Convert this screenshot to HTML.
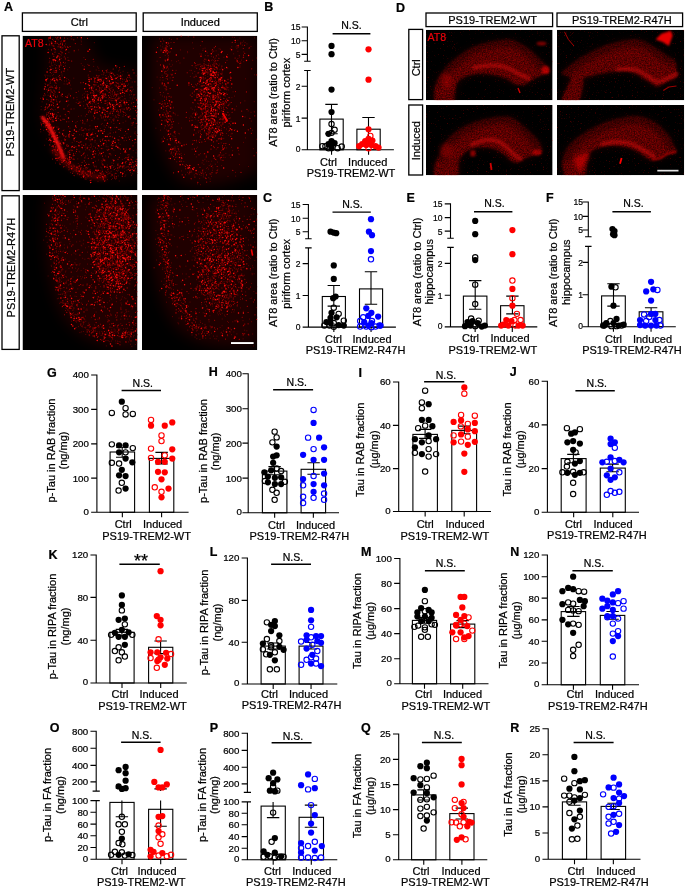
<!DOCTYPE html>
<html lang="en"><head><meta charset="utf-8"><title>Figure</title>
<style>html,body{margin:0;padding:0;background:#fff}svg{display:block}text{font-family:'Liberation Sans', sans-serif;fill:#000;stroke:#000;stroke-width:.22px}.ln{fill:none;stroke:#000;stroke-width:1.1}.bar{fill:#fff;stroke:#000;stroke-width:1.1}</style></head><body>
<svg width="685" height="887" viewBox="0 0 685 887">
<defs><filter id="b2" x="-30%" y="-30%" width="160%" height="160%"><feGaussianBlur stdDeviation="2"/></filter><filter id="b03" x="-5%" y="-5%" width="110%" height="110%"><feGaussianBlur stdDeviation="0.35"/></filter><filter id="b1" x="-30%" y="-30%" width="160%" height="160%"><feGaussianBlur stdDeviation="1"/></filter><filter id="b4" x="-30%" y="-30%" width="160%" height="160%"><feGaussianBlur stdDeviation="4"/></filter><filter id="b7" x="-30%" y="-30%" width="160%" height="160%"><feGaussianBlur stdDeviation="7"/></filter><filter id="sp0" filterUnits="userSpaceOnUse" x="22.5" y="35.7" width="115" height="154.5" color-interpolation-filters="sRGB"><feTurbulence type="fractalNoise" baseFrequency="0.5" numOctaves="3" seed="3" result="n"/><feColorMatrix in="n" type="matrix" values="0 0 0 0 1 0 0 0 0 0 0 0 0 0 0 1 0 0 0 0" result="n2"/><feColorMatrix in="SourceGraphic" type="matrix" values="0 0 0 0 1 0 0 0 0 0 0 0 0 0 0 1 0 0 0 0" result="d"/><feComposite in="n2" in2="d" operator="arithmetic" k1="0" k2="1" k3="1" k4="-1.06" result="c"/><feComponentTransfer in="c" result="t"><feFuncA type="linear" slope="4.5" intercept="0"/></feComponentTransfer><feGaussianBlur in="t" stdDeviation="0.4"/></filter><clipPath id="cl0"><rect x="22.5" y="35.7" width="115" height="154.5"/></clipPath><filter id="sp1" filterUnits="userSpaceOnUse" x="142" y="35.7" width="115.3" height="154.5" color-interpolation-filters="sRGB"><feTurbulence type="fractalNoise" baseFrequency="0.5" numOctaves="3" seed="10" result="n"/><feColorMatrix in="n" type="matrix" values="0 0 0 0 1 0 0 0 0 0 0 0 0 0 0 1 0 0 0 0" result="n2"/><feColorMatrix in="SourceGraphic" type="matrix" values="0 0 0 0 1 0 0 0 0 0 0 0 0 0 0 1 0 0 0 0" result="d"/><feComposite in="n2" in2="d" operator="arithmetic" k1="0" k2="1" k3="1" k4="-1.06" result="c"/><feComponentTransfer in="c" result="t"><feFuncA type="linear" slope="4.5" intercept="0"/></feComponentTransfer><feGaussianBlur in="t" stdDeviation="0.4"/></filter><clipPath id="cl1"><rect x="142" y="35.7" width="115.3" height="154.5"/></clipPath><filter id="sp2" filterUnits="userSpaceOnUse" x="22.5" y="195" width="115" height="155" color-interpolation-filters="sRGB"><feTurbulence type="fractalNoise" baseFrequency="0.5" numOctaves="3" seed="17" result="n"/><feColorMatrix in="n" type="matrix" values="0 0 0 0 1 0 0 0 0 0 0 0 0 0 0 1 0 0 0 0" result="n2"/><feColorMatrix in="SourceGraphic" type="matrix" values="0 0 0 0 1 0 0 0 0 0 0 0 0 0 0 1 0 0 0 0" result="d"/><feComposite in="n2" in2="d" operator="arithmetic" k1="0" k2="1" k3="1" k4="-1.06" result="c"/><feComponentTransfer in="c" result="t"><feFuncA type="linear" slope="4.5" intercept="0"/></feComponentTransfer><feGaussianBlur in="t" stdDeviation="0.4"/></filter><clipPath id="cl2"><rect x="22.5" y="195" width="115" height="155"/></clipPath><filter id="sp3" filterUnits="userSpaceOnUse" x="142" y="195" width="115.3" height="155" color-interpolation-filters="sRGB"><feTurbulence type="fractalNoise" baseFrequency="0.5" numOctaves="3" seed="24" result="n"/><feColorMatrix in="n" type="matrix" values="0 0 0 0 1 0 0 0 0 0 0 0 0 0 0 1 0 0 0 0" result="n2"/><feColorMatrix in="SourceGraphic" type="matrix" values="0 0 0 0 1 0 0 0 0 0 0 0 0 0 0 1 0 0 0 0" result="d"/><feComposite in="n2" in2="d" operator="arithmetic" k1="0" k2="1" k3="1" k4="-1.06" result="c"/><feComponentTransfer in="c" result="t"><feFuncA type="linear" slope="4.5" intercept="0"/></feComponentTransfer><feGaussianBlur in="t" stdDeviation="0.4"/></filter><clipPath id="cl3"><rect x="142" y="195" width="115.3" height="155"/></clipPath><filter id="sp4" filterUnits="userSpaceOnUse" x="426" y="29.8" width="126.6" height="70.4" color-interpolation-filters="sRGB"><feTurbulence type="fractalNoise" baseFrequency="0.65" numOctaves="3" seed="31" result="n"/><feColorMatrix in="n" type="matrix" values="0 0 0 0 1 0 0 0 0 0 0 0 0 0 0 1 0 0 0 0" result="n2"/><feColorMatrix in="SourceGraphic" type="matrix" values="0 0 0 0 1 0 0 0 0 0 0 0 0 0 0 1 0 0 0 0" result="d"/><feComposite in="n2" in2="d" operator="arithmetic" k1="0" k2="1" k3="1" k4="-1.06" result="c"/><feComponentTransfer in="c" result="t"><feFuncA type="linear" slope="4.5" intercept="0"/></feComponentTransfer><feGaussianBlur in="t" stdDeviation="0.4"/></filter><clipPath id="cl4"><rect x="426" y="29.8" width="126.6" height="70.4"/></clipPath><filter id="sp5" filterUnits="userSpaceOnUse" x="557" y="29.8" width="127.2" height="70.4" color-interpolation-filters="sRGB"><feTurbulence type="fractalNoise" baseFrequency="0.65" numOctaves="3" seed="38" result="n"/><feColorMatrix in="n" type="matrix" values="0 0 0 0 1 0 0 0 0 0 0 0 0 0 0 1 0 0 0 0" result="n2"/><feColorMatrix in="SourceGraphic" type="matrix" values="0 0 0 0 1 0 0 0 0 0 0 0 0 0 0 1 0 0 0 0" result="d"/><feComposite in="n2" in2="d" operator="arithmetic" k1="0" k2="1" k3="1" k4="-1.06" result="c"/><feComponentTransfer in="c" result="t"><feFuncA type="linear" slope="4.5" intercept="0"/></feComponentTransfer><feGaussianBlur in="t" stdDeviation="0.4"/></filter><clipPath id="cl5"><rect x="557" y="29.8" width="127.2" height="70.4"/></clipPath><filter id="sp6" filterUnits="userSpaceOnUse" x="426" y="105" width="126.6" height="70.2" color-interpolation-filters="sRGB"><feTurbulence type="fractalNoise" baseFrequency="0.65" numOctaves="3" seed="45" result="n"/><feColorMatrix in="n" type="matrix" values="0 0 0 0 1 0 0 0 0 0 0 0 0 0 0 1 0 0 0 0" result="n2"/><feColorMatrix in="SourceGraphic" type="matrix" values="0 0 0 0 1 0 0 0 0 0 0 0 0 0 0 1 0 0 0 0" result="d"/><feComposite in="n2" in2="d" operator="arithmetic" k1="0" k2="1" k3="1" k4="-1.06" result="c"/><feComponentTransfer in="c" result="t"><feFuncA type="linear" slope="4.5" intercept="0"/></feComponentTransfer><feGaussianBlur in="t" stdDeviation="0.4"/></filter><clipPath id="cl6"><rect x="426" y="105" width="126.6" height="70.2"/></clipPath><filter id="sp7" filterUnits="userSpaceOnUse" x="557" y="105" width="127.2" height="70.2" color-interpolation-filters="sRGB"><feTurbulence type="fractalNoise" baseFrequency="0.65" numOctaves="3" seed="52" result="n"/><feColorMatrix in="n" type="matrix" values="0 0 0 0 1 0 0 0 0 0 0 0 0 0 0 1 0 0 0 0" result="n2"/><feColorMatrix in="SourceGraphic" type="matrix" values="0 0 0 0 1 0 0 0 0 0 0 0 0 0 0 1 0 0 0 0" result="d"/><feComposite in="n2" in2="d" operator="arithmetic" k1="0" k2="1" k3="1" k4="-1.06" result="c"/><feComponentTransfer in="c" result="t"><feFuncA type="linear" slope="4.5" intercept="0"/></feComponentTransfer><feGaussianBlur in="t" stdDeviation="0.4"/></filter><clipPath id="cl7"><rect x="557" y="105" width="127.2" height="70.2"/></clipPath><filter id="gr0" filterUnits="userSpaceOnUse" x="426" y="29.8" width="126.6" height="70.4" color-interpolation-filters="sRGB"><feGaussianBlur in="SourceGraphic" stdDeviation="1.2" result="b"/><feTurbulence type="fractalNoise" baseFrequency="0.73" numOctaves="2" seed="5" result="n"/><feColorMatrix in="n" type="matrix" values="0 0 0 0 1 0 0 0 0 0 0 0 0 0 0 1.3 0 0 0 -0.12" result="n2"/><feComposite in="n2" in2="b" operator="in"/></filter><filter id="gr1" filterUnits="userSpaceOnUse" x="557" y="29.8" width="127.2" height="70.4" color-interpolation-filters="sRGB"><feGaussianBlur in="SourceGraphic" stdDeviation="1.2" result="b"/><feTurbulence type="fractalNoise" baseFrequency="0.73" numOctaves="2" seed="8" result="n"/><feColorMatrix in="n" type="matrix" values="0 0 0 0 1 0 0 0 0 0 0 0 0 0 0 1.3 0 0 0 -0.12" result="n2"/><feComposite in="n2" in2="b" operator="in"/></filter><filter id="gr2" filterUnits="userSpaceOnUse" x="426" y="105" width="126.6" height="70.2" color-interpolation-filters="sRGB"><feGaussianBlur in="SourceGraphic" stdDeviation="1.2" result="b"/><feTurbulence type="fractalNoise" baseFrequency="0.73" numOctaves="2" seed="11" result="n"/><feColorMatrix in="n" type="matrix" values="0 0 0 0 1 0 0 0 0 0 0 0 0 0 0 1.3 0 0 0 -0.12" result="n2"/><feComposite in="n2" in2="b" operator="in"/></filter><filter id="gr3" filterUnits="userSpaceOnUse" x="557" y="105" width="127.2" height="70.2" color-interpolation-filters="sRGB"><feGaussianBlur in="SourceGraphic" stdDeviation="1.2" result="b"/><feTurbulence type="fractalNoise" baseFrequency="0.73" numOctaves="2" seed="14" result="n"/><feColorMatrix in="n" type="matrix" values="0 0 0 0 1 0 0 0 0 0 0 0 0 0 0 1.3 0 0 0 -0.12" result="n2"/><feComposite in="n2" in2="b" operator="in"/></filter></defs>
<rect width="685" height="887" fill="#fff"/>
<text x="4" y="10.8" font-size="12.5" text-anchor="start" font-weight="bold">A</text>
<rect x="22.4" y="12.9" width="113.8" height="18.5" fill="#fff" stroke="#000" stroke-width="1.3"/><text x="79.3" y="26.11" font-size="11" text-anchor="middle">Ctrl</text>
<rect x="143.2" y="12.9" width="114.1" height="18.5" fill="#fff" stroke="#000" stroke-width="1.3"/><text x="200.25" y="26.11" font-size="11" text-anchor="middle">Induced</text>
<rect x="2" y="35.8" width="17.2" height="154.8" fill="#fff" stroke="#000" stroke-width="1.3"/><text transform="translate(14.06 112.2) rotate(-90)" font-size="11" text-anchor="middle">PS19-TREM2-WT</text>
<rect x="2" y="195.8" width="17.2" height="153.6" fill="#fff" stroke="#000" stroke-width="1.3"/><text transform="translate(14.76 267.6) rotate(-90)" font-size="11" text-anchor="middle">PS19-TREM2-R47H</text>
<text x="396" y="12.2" font-size="12.5" text-anchor="start" font-weight="bold">D</text>
<rect x="426" y="13" width="126.6" height="13.6" fill="#fff" stroke="#000" stroke-width="1.3"/><text x="492.6" y="23.76" font-size="11" text-anchor="middle">PS19-TREM2-WT</text>
<rect x="557" y="13" width="125.6" height="13.6" fill="#fff" stroke="#000" stroke-width="1.3"/><text x="621.8" y="23.76" font-size="11" text-anchor="middle">PS19-TREM2-R47H</text>
<rect x="408.8" y="29.4" width="13.8" height="70.2" fill="#fff" stroke="#000" stroke-width="1.3"/><text transform="translate(419.66 67.8) rotate(-90)" font-size="11" text-anchor="middle">Ctrl</text>
<rect x="408.8" y="105" width="13.8" height="70" fill="#fff" stroke="#000" stroke-width="1.3"/><text transform="translate(419.66 140.7) rotate(-90)" font-size="11" text-anchor="middle">Induced</text>
<g clip-path="url(#cl0)">
<rect x="22.5" y="35.7" width="115" height="154.5" fill="#000"/>
<g transform="translate(22.5 35.7)" fill="#e00000" filter="url(#b7)"><path d="M22 0 C28 40 14 70 22 92 C32 125 60 148 116 140 L116 36 C95 30 78 34 72 20 L66 0Z" opacity=".11"/></g>
<g transform="translate(22.5 35.7)" filter="url(#b03)"><path d="M34.8 0.2h0M48.4 0.9h0M33.2 1.8h0M36.0 1.5h0M37.9 1.6h0M34.2 2.8h0M34.9 2.1h0M45.2 2.9h0M59.2 2.1h0M34.5 3.9h0M48.6 3.2h0M49.4 3.3h0M26.0 4.1h0M30.9 5.0h0M35.9 4.2h0M58.6 4.3h0M26.7 5.5h0M28.7 6.0h0M39.2 5.0h0M28.7 6.5h0M29.3 6.5h0M58.8 6.1h0M27.3 7.6h0M38.1 7.7h0M40.2 7.2h0M71.8 7.0h0M36.0 8.6h0M42.9 8.2h0M58.7 8.7h0M25.5 9.4h0M28.7 9.4h0M30.4 9.2h0M40.2 9.9h0M41.9 9.8h0M41.7 10.9h0M37.6 11.8h0M42.8 11.4h0M42.8 11.4h0M40.6 12.2h0M26.1 13.7h0M38.7 13.3h0M28.9 14.4h0M56.0 14.2h0M32.0 16.6h0M33.0 16.4h0M39.6 16.7h0M46.4 16.6h0M51.6 16.0h0M30.0 18.0h0M31.4 18.9h0M37.7 18.9h0M39.0 19.4h0M35.0 20.4h0M41.9 20.7h0M37.0 21.6h0M37.4 21.0h0M41.6 21.5h0M45.4 21.8h0M61.4 21.9h0M37.4 22.8h0M38.8 22.8h0M42.7 22.1h0M30.8 24.4h0M30.7 24.7h0M32.3 24.2h0M32.1 24.4h0M36.5 24.9h0M45.4 24.7h0M27.2 25.4h0M35.2 25.7h0M37.4 25.4h0M29.2 26.5h0M30.9 26.5h0M33.0 26.1h0M43.1 26.9h0M71.4 26.0h0M26.7 27.0h0M29.0 27.6h0M38.3 27.8h0M42.4 27.7h0M58.7 27.9h0M32.4 28.6h0M38.1 28.5h0M65.3 28.7h0M28.9 29.3h0M30.3 30.0h0M34.0 29.8h0M60.3 29.9h0M37.1 31.0h0M42.8 30.1h0M61.8 31.0h0M71.2 30.7h0M94.5 30.6h0M47.0 31.8h0M75.2 31.2h0M25.1 32.9h0M28.3 32.2h0M33.1 32.8h0M35.6 32.5h0M76.2 32.5h0M94.2 32.0h0M30.5 33.0h0M31.5 34.8h0M34.3 34.7h0M45.3 34.1h0M73.7 34.3h0M76.5 34.8h0M85.0 34.1h0M97.2 34.2h0M31.6 36.0h0M33.4 35.5h0M40.8 35.6h0M95.9 35.2h0M100.6 35.6h0M30.5 36.6h0M34.1 36.8h0M86.5 36.8h0M88.3 36.2h0M98.2 37.0h0M105.3 37.0h0M28.8 38.0h0M31.1 38.7h0M39.4 38.3h0M79.4 38.9h0M87.3 38.5h0M94.7 38.8h0M22.3 39.4h0M23.4 39.5h0M29.8 39.9h0M65.8 39.2h0M81.1 39.0h0M83.3 39.8h0M87.8 40.0h0M87.7 39.9h0M88.6 40.0h0M96.3 39.6h0M99.8 39.3h0M25.4 40.1h0M27.6 40.3h0M36.1 40.9h0M39.6 40.2h0M65.6 40.1h0M86.0 40.8h0M91.6 40.5h0M113.7 40.1h0M23.0 41.2h0M70.9 41.6h0M74.2 41.3h0M76.0 41.3h0M98.8 41.1h0M31.0 42.4h0M31.7 42.7h0M44.3 42.9h0M51.3 42.5h0M80.4 42.0h0M82.7 42.2h0M84.8 42.4h0M86.2 42.2h0M88.1 42.6h0M93.2 42.9h0M108.4 42.7h0M28.0 43.7h0M46.0 44.0h0M77.5 43.4h0M78.4 43.4h0M92.7 43.5h0M99.8 43.6h0M100.2 43.2h0M101.7 44.0h0M30.2 44.3h0M31.1 44.9h0M31.5 44.5h0M32.2 44.3h0M38.9 44.6h0M74.8 44.7h0M76.8 44.8h0M78.8 44.7h0M81.5 44.2h0M81.0 44.9h0M85.5 44.2h0M95.5 44.3h0M98.1 44.2h0M107.0 44.6h0M27.9 45.5h0M32.1 45.3h0M41.9 45.3h0M44.1 45.3h0M47.4 45.2h0M67.0 45.2h0M72.4 45.8h0M78.6 45.0h0M84.7 45.1h0M87.1 45.8h0M87.2 45.8h0M103.9 45.2h0M71.5 46.0h0M73.1 46.4h0M84.3 46.0h0M89.6 46.2h0M93.0 46.5h0M99.9 46.1h0M109.7 46.3h0M22.6 47.9h0M33.9 47.6h0M81.1 47.7h0M81.9 47.9h0M81.2 47.9h0M84.6 47.9h0M87.1 47.5h0M95.9 47.5h0M97.8 47.1h0M23.2 48.8h0M41.6 48.2h0M43.7 48.3h0M80.1 48.6h0M80.5 48.0h0M81.4 48.9h0M96.3 48.6h0M101.4 48.3h0M105.8 48.4h0M26.5 49.2h0M31.9 49.7h0M47.8 49.4h0M73.3 49.4h0M73.5 49.2h0M92.3 49.4h0M93.6 49.3h0M101.1 49.9h0M103.0 49.6h0M104.9 49.8h0M27.8 50.4h0M29.3 50.5h0M76.0 50.3h0M79.9 50.1h0M83.1 50.1h0M86.1 50.8h0M96.4 50.2h0M98.1 50.1h0M30.0 51.6h0M30.4 51.9h0M34.7 52.0h0M68.4 51.7h0M71.8 51.2h0M79.6 51.6h0M86.9 51.0h0M89.5 52.0h0M95.1 51.1h0M103.3 51.1h0M107.7 51.6h0M108.8 51.4h0M109.9 51.4h0M25.9 52.7h0M32.3 52.2h0M70.9 52.5h0M77.3 52.2h0M88.4 52.8h0M95.8 53.0h0M24.0 53.8h0M36.7 53.8h0M48.6 53.2h0M78.7 53.2h0M81.6 53.3h0M98.0 53.7h0M99.3 54.0h0M105.9 53.4h0M110.7 53.6h0M25.4 54.3h0M30.8 54.3h0M73.5 54.5h0M76.6 54.6h0M79.1 54.1h0M87.9 54.7h0M89.8 54.2h0M97.5 54.8h0M98.4 54.2h0M99.9 54.5h0M102.4 54.6h0M103.9 54.7h0M25.4 55.4h0M28.5 55.4h0M28.8 55.8h0M56.0 55.6h0M63.1 56.0h0M70.9 55.1h0M71.4 55.1h0M75.3 55.3h0M76.5 55.8h0M84.4 55.1h0M85.1 55.3h0M88.1 55.2h0M95.3 55.7h0M102.8 55.3h0M104.0 55.5h0M107.2 55.2h0M109.6 55.2h0M25.0 56.4h0M29.5 56.3h0M32.4 56.5h0M32.8 56.4h0M69.6 56.8h0M77.2 56.9h0M97.6 56.7h0M27.7 57.2h0M70.5 57.6h0M71.0 57.8h0M72.2 57.2h0M81.2 57.6h0M86.4 57.1h0M88.2 57.4h0M92.1 57.4h0M98.7 57.3h0M101.2 57.0h0M28.2 58.3h0M46.5 58.4h0M61.7 58.1h0M64.8 58.3h0M66.1 58.8h0M76.8 58.5h0M81.8 58.8h0M82.5 58.4h0M90.3 58.1h0M92.2 58.9h0M93.3 58.5h0M109.0 58.7h0M112.4 58.7h0M23.1 59.3h0M25.6 59.6h0M32.5 59.2h0M45.3 59.9h0M60.0 59.4h0M73.3 59.7h0M73.3 59.9h0M80.7 59.1h0M83.4 59.4h0M88.0 59.5h0M89.6 59.0h0M92.2 60.0h0M92.7 59.2h0M106.9 59.2h0M35.0 60.3h0M39.9 60.9h0M43.1 60.8h0M48.0 60.7h0M69.0 60.1h0M80.3 60.2h0M90.8 60.6h0M91.1 60.2h0M94.2 60.2h0M98.7 60.5h0M100.1 60.8h0M102.1 60.2h0M35.1 61.2h0M43.3 61.0h0M54.4 61.7h0M64.3 61.7h0M69.0 61.9h0M74.7 61.3h0M76.5 61.7h0M76.1 61.8h0M77.5 61.1h0M79.1 61.8h0M79.7 61.4h0M82.1 61.1h0M83.2 61.5h0M84.1 61.9h0M87.1 61.5h0M89.0 61.1h0M93.1 61.7h0M96.3 61.3h0M97.6 61.9h0M110.6 61.3h0M17.9 62.6h0M59.8 62.4h0M66.3 62.5h0M73.5 63.0h0M75.9 62.1h0M88.1 62.4h0M91.2 62.7h0M92.4 62.8h0M95.4 62.7h0M96.2 62.8h0M96.6 62.9h0M102.2 63.0h0M107.6 62.2h0M112.0 62.5h0M113.3 62.3h0M28.5 63.7h0M71.5 63.1h0M75.5 63.9h0M79.6 63.7h0M86.2 63.2h0M94.3 63.4h0M94.9 63.5h0M96.2 63.5h0M102.8 63.2h0M109.9 63.3h0M26.2 64.5h0M29.4 64.2h0M32.4 64.2h0M33.8 64.1h0M54.6 64.0h0M78.7 64.5h0M84.6 64.6h0M86.8 64.4h0M88.4 64.3h0M90.4 64.8h0M92.0 64.5h0M94.5 64.0h0M97.9 64.5h0M100.6 64.3h0M106.5 64.7h0M29.3 65.2h0M34.0 65.5h0M38.0 65.5h0M61.2 65.7h0M67.8 65.5h0M71.2 65.8h0M82.3 65.7h0M84.0 65.2h0M89.3 65.0h0M93.6 65.9h0M99.1 65.2h0M99.3 65.2h0M100.7 65.1h0M103.9 65.1h0M19.6 66.1h0M29.8 66.8h0M34.5 66.1h0M53.7 66.9h0M56.6 66.1h0M58.4 66.3h0M73.6 66.1h0M101.5 66.1h0M56.0 67.7h0M67.9 67.5h0M68.2 67.8h0M76.0 67.6h0M83.7 67.6h0M84.9 67.1h0M87.2 67.7h0M101.4 67.2h0M101.2 67.0h0M102.4 67.4h0M109.3 67.1h0M109.1 67.9h0M26.8 69.0h0M67.4 68.4h0M70.2 68.1h0M73.4 68.6h0M85.3 68.8h0M88.7 68.5h0M95.9 68.1h0M46.3 69.2h0M65.2 69.9h0M84.7 69.8h0M85.2 69.2h0M91.6 69.1h0M91.4 69.3h0M93.1 69.6h0M97.8 69.3h0M97.1 69.3h0M115.0 69.0h0M18.7 70.8h0M26.8 70.8h0M33.5 70.2h0M45.0 70.4h0M60.9 70.2h0M68.1 71.0h0M77.1 71.0h0M92.8 70.0h0M96.0 70.1h0M99.0 70.5h0M22.3 71.9h0M24.9 71.9h0M25.3 71.4h0M31.6 71.3h0M68.3 71.2h0M74.2 71.3h0M77.5 71.8h0M88.2 71.8h0M90.3 71.9h0M92.7 71.7h0M28.9 72.8h0M34.8 72.2h0M68.3 72.6h0M110.6 72.8h0M18.6 74.0h0M22.8 73.8h0M29.5 73.6h0M30.2 73.6h0M32.7 73.7h0M41.1 73.2h0M51.5 73.1h0M71.3 73.1h0M72.5 73.8h0M76.4 73.2h0M85.1 73.1h0M89.8 73.8h0M91.6 73.3h0M99.5 73.2h0M21.8 74.5h0M30.9 74.5h0M72.5 74.5h0M74.5 74.3h0M74.6 74.4h0M107.0 74.8h0M115.9 74.3h0M27.0 75.8h0M72.1 75.4h0M77.0 75.7h0M89.4 75.6h0M95.5 76.0h0M26.1 76.7h0M65.9 76.7h0M66.0 76.3h0M72.1 76.3h0M73.5 77.0h0M80.0 76.6h0M79.8 76.8h0M82.6 77.0h0M88.0 76.3h0M90.5 76.1h0M97.8 76.8h0M24.1 77.4h0M25.3 77.1h0M47.1 77.2h0M71.9 77.1h0M73.1 77.1h0M80.1 77.6h0M85.3 77.5h0M87.4 77.2h0M96.3 77.6h0M102.9 77.4h0M114.7 77.5h0M26.4 78.1h0M31.3 78.8h0M77.8 79.0h0M87.5 78.3h0M95.6 78.7h0M104.2 78.9h0M23.9 79.5h0M33.9 79.2h0M86.1 79.5h0M90.5 79.5h0M93.0 80.0h0M95.1 79.1h0M101.1 79.1h0M17.6 80.8h0M22.2 80.6h0M23.8 80.3h0M25.9 80.8h0M35.2 80.1h0M43.5 80.3h0M55.9 80.7h0M58.7 80.1h0M62.8 80.4h0M71.0 80.5h0M71.1 80.2h0M78.6 80.9h0M81.3 80.7h0M81.3 80.8h0M83.5 80.8h0M84.9 80.8h0M100.5 80.9h0M81.2 81.6h0M88.4 82.0h0M92.7 81.1h0M93.6 81.5h0M94.1 81.3h0M95.8 81.9h0M104.9 81.1h0M22.4 82.0h0M34.1 82.4h0M36.1 82.8h0M79.0 82.1h0M79.4 82.4h0M80.8 82.2h0M25.3 83.4h0M34.4 83.2h0M37.7 83.8h0M40.0 83.5h0M40.9 83.5h0M75.5 83.2h0M87.3 83.8h0M112.7 83.2h0M113.1 83.3h0M23.9 84.9h0M25.7 84.5h0M31.3 84.5h0M57.9 85.0h0M69.4 84.9h0M81.9 84.5h0M82.4 84.3h0M83.6 84.4h0M90.0 84.1h0M24.3 85.2h0M25.0 85.7h0M26.1 85.1h0M30.2 85.5h0M30.3 85.4h0M54.7 85.8h0M60.5 85.7h0M64.5 85.5h0M65.0 85.0h0M103.3 85.4h0M20.9 86.3h0M23.4 86.9h0M25.6 86.0h0M46.4 86.1h0M88.8 86.3h0M17.9 87.1h0M19.2 87.6h0M53.4 87.1h0M79.7 87.8h0M91.4 87.8h0M100.6 87.0h0M108.8 87.4h0M25.9 88.4h0M62.4 88.1h0M78.8 88.7h0M115.4 88.9h0M22.8 89.8h0M23.7 89.8h0M109.5 89.8h0M19.1 90.1h0M32.2 90.6h0M67.4 90.1h0M81.6 90.2h0M21.4 91.2h0M22.8 91.8h0M27.2 91.0h0M34.2 91.4h0M35.5 91.3h0M59.3 92.0h0M59.4 91.8h0M82.8 91.7h0M86.0 91.3h0M92.4 91.7h0M112.6 91.9h0M26.0 93.0h0M47.5 92.5h0M59.4 92.5h0M77.8 92.9h0M88.6 92.1h0M98.5 92.9h0M30.3 93.5h0M57.4 94.0h0M58.8 93.2h0M66.2 94.0h0M67.5 93.3h0M70.6 93.6h0M97.5 93.6h0M21.2 94.6h0M24.6 94.3h0M25.6 94.5h0M32.0 94.8h0M41.5 94.3h0M64.3 94.2h0M66.5 94.4h0M88.4 94.4h0M33.5 95.2h0M48.1 95.8h0M55.5 95.7h0M80.0 95.3h0M81.2 96.0h0M18.3 96.1h0M26.1 97.0h0M27.8 96.5h0M29.8 96.7h0M31.5 96.5h0M91.0 97.0h0M112.7 96.2h0M27.8 97.9h0M30.2 97.0h0M31.4 97.1h0M37.4 97.4h0M61.6 97.7h0M66.3 97.1h0M72.8 97.9h0M73.1 97.9h0M104.4 98.0h0M111.9 97.5h0M29.3 99.0h0M29.3 98.2h0M85.6 98.5h0M112.8 98.2h0M115.1 98.8h0M115.8 98.5h0M27.0 99.2h0M30.5 99.6h0M40.7 99.8h0M41.2 99.5h0M49.0 99.2h0M57.0 99.0h0M58.8 99.1h0M65.5 99.8h0M101.8 99.8h0M114.1 99.6h0M30.3 100.2h0M44.2 100.4h0M60.9 100.3h0M66.1 100.5h0M88.2 100.6h0M96.8 100.8h0M107.9 101.0h0M108.3 100.7h0M26.6 101.7h0M28.9 101.9h0M29.3 101.1h0M37.4 101.2h0M46.0 101.0h0M46.4 101.2h0M47.0 101.5h0M53.2 101.8h0M67.6 101.7h0M71.5 101.9h0M89.8 101.1h0M90.2 101.5h0M103.3 102.0h0M105.9 101.5h0M26.8 102.8h0M28.0 102.6h0M63.5 102.7h0M80.6 102.9h0M23.8 103.3h0M65.8 103.4h0M80.4 103.4h0M112.4 103.7h0M32.0 104.2h0M51.3 104.4h0M69.6 104.6h0M73.1 104.6h0M77.6 104.2h0M86.3 104.3h0M92.6 104.6h0M101.6 105.0h0M103.9 104.8h0M36.8 105.5h0M38.8 105.1h0M52.2 105.3h0M67.7 105.4h0M72.3 105.0h0M86.9 105.1h0M28.7 106.0h0M30.4 106.6h0M34.3 106.9h0M36.4 106.6h0M39.7 106.6h0M49.7 106.9h0M58.7 106.0h0M58.2 106.6h0M72.5 106.4h0M84.0 106.2h0M113.4 106.9h0M28.1 107.1h0M42.3 107.0h0M56.9 107.3h0M96.2 107.2h0M111.9 107.3h0M38.7 108.8h0M38.3 108.7h0M41.2 108.6h0M59.3 108.9h0M74.5 108.2h0M97.7 108.7h0M22.2 109.5h0M44.8 109.0h0M55.9 109.5h0M59.4 109.2h0M66.6 109.9h0M81.2 109.6h0M83.6 109.2h0M88.6 109.8h0M93.8 109.1h0M28.9 110.8h0M36.5 110.5h0M51.6 110.2h0M63.3 110.1h0M68.9 110.3h0M71.3 110.7h0M76.7 111.0h0M76.7 110.7h0M83.7 111.0h0M90.3 110.5h0M31.2 111.7h0M36.2 111.0h0M39.5 111.9h0M48.8 111.8h0M62.4 111.6h0M67.7 111.7h0M68.4 111.7h0M85.5 111.1h0M35.6 112.9h0M63.7 112.2h0M74.9 112.9h0M80.3 112.8h0M97.1 112.5h0M103.7 112.7h0M30.7 114.0h0M32.8 113.2h0M42.3 113.9h0M48.5 113.7h0M54.1 113.6h0M60.2 113.0h0M70.1 113.3h0M101.2 113.6h0M102.5 113.5h0M103.9 113.8h0M32.2 114.0h0M39.5 114.6h0M39.8 114.8h0M48.9 114.9h0M63.2 114.1h0M76.0 114.7h0M84.4 114.0h0M91.4 114.4h0M110.7 114.9h0M114.4 114.1h0M30.3 115.3h0M32.6 115.8h0M36.9 115.9h0M38.4 115.7h0M40.1 115.4h0M56.6 115.6h0M68.5 115.4h0M72.9 115.8h0M33.7 116.4h0M33.7 116.5h0M36.7 116.7h0M57.3 116.3h0M77.4 116.6h0M102.3 116.2h0M30.2 117.2h0M34.7 117.5h0M39.9 117.6h0M53.2 117.6h0M62.0 117.1h0M80.2 117.0h0M97.9 117.8h0M113.5 117.2h0M35.4 118.9h0M37.4 118.1h0M44.8 118.3h0M46.6 118.3h0M71.9 118.0h0M33.4 119.8h0M34.6 119.8h0M43.5 119.9h0M65.0 119.5h0M76.2 119.2h0M78.2 119.0h0M88.5 119.3h0M105.1 119.3h0M37.6 120.5h0M44.6 120.2h0M62.8 120.4h0M83.2 120.3h0M106.3 120.7h0M46.7 121.8h0M50.6 121.1h0M109.6 121.2h0M110.4 121.7h0M35.5 122.1h0M36.1 122.9h0M44.5 122.4h0M80.6 122.9h0M101.9 122.9h0M115.5 122.2h0M35.0 123.1h0M37.6 123.8h0M47.3 123.6h0M49.8 123.5h0M50.8 123.4h0M51.7 123.9h0M55.3 123.2h0M99.8 123.7h0M113.6 123.5h0M114.0 123.7h0M37.7 124.2h0M39.0 125.0h0M39.4 124.7h0M40.7 124.1h0M76.0 124.3h0M81.9 124.5h0M107.3 124.6h0M109.2 124.2h0M115.5 125.0h0M44.0 125.9h0M47.1 125.4h0M73.1 125.6h0M78.8 125.1h0M79.9 125.5h0M82.4 125.3h0M90.9 125.9h0M110.0 125.4h0M39.9 126.4h0M40.0 126.8h0M43.5 126.7h0M43.9 126.1h0M47.5 126.1h0M63.1 126.9h0M111.1 126.6h0M114.0 126.3h0M33.1 127.4h0M36.9 127.6h0M45.3 127.8h0M45.5 127.6h0M47.1 127.9h0M47.7 127.3h0M55.7 127.8h0M79.3 127.2h0M89.4 127.2h0M90.9 127.7h0M95.5 127.9h0M103.3 128.0h0M109.1 127.6h0M113.9 127.8h0M115.7 127.3h0M46.0 128.8h0M66.4 128.6h0M79.6 128.6h0M80.2 128.0h0M80.3 128.9h0M44.1 129.7h0M50.6 129.3h0M57.4 129.4h0M71.4 129.2h0M84.8 129.3h0M95.6 129.4h0M95.9 129.3h0M111.4 129.6h0M42.2 130.8h0M49.3 130.8h0M51.7 130.5h0M56.6 130.5h0M56.0 130.6h0M71.4 130.1h0M73.6 130.4h0M84.3 131.0h0M87.9 130.7h0M89.0 130.4h0M91.5 130.6h0M97.6 130.1h0M98.4 130.8h0M98.3 130.4h0M104.6 130.9h0M106.1 131.0h0M109.2 130.4h0M50.3 131.9h0M58.7 132.0h0M65.4 131.7h0M74.1 131.3h0M78.4 131.4h0M83.4 131.6h0M90.8 131.8h0M96.6 131.2h0M100.6 131.4h0M103.6 131.6h0M105.5 131.3h0M108.5 131.2h0M112.3 131.3h0M53.9 132.2h0M55.5 132.8h0M56.2 132.5h0M58.1 132.3h0M61.3 132.9h0M65.0 132.7h0M79.4 132.3h0M92.9 132.8h0M95.2 132.8h0M100.3 132.3h0M102.3 132.4h0M106.9 132.3h0M110.7 132.6h0M46.8 133.4h0M49.8 133.1h0M54.1 133.7h0M63.1 133.1h0M64.0 133.3h0M73.5 133.6h0M86.2 133.1h0M111.8 133.7h0M46.3 134.1h0M52.6 134.5h0M56.7 135.0h0M60.7 134.9h0M75.6 134.8h0M77.5 134.8h0M79.6 134.3h0M93.9 134.8h0M95.8 134.5h0M104.4 134.6h0M115.5 134.3h0M55.6 135.8h0M56.4 135.2h0M61.4 135.5h0M66.6 135.1h0M66.5 135.2h0M67.2 135.6h0M71.7 136.0h0M74.0 135.3h0M74.7 135.2h0M75.0 135.6h0M74.9 135.9h0M83.3 135.6h0M85.7 135.9h0M88.6 135.6h0M95.0 135.4h0M112.4 135.5h0M114.6 135.6h0M47.9 136.9h0M50.7 136.0h0M58.7 136.2h0M72.2 136.9h0M76.9 137.0h0M78.5 136.8h0M78.8 136.4h0M80.4 136.6h0M102.0 136.1h0M107.9 136.7h0M59.6 138.0h0M60.7 137.2h0M67.7 137.4h0M98.4 137.1h0M100.4 137.0h0M114.8 137.7h0M58.9 138.7h0M61.0 138.8h0M64.5 138.5h0M81.4 138.2h0M85.0 138.5h0M86.1 138.1h0M89.5 138.6h0M89.1 138.6h0M90.1 138.8h0M91.8 138.3h0M110.2 138.1h0M64.1 139.0h0M65.8 140.0h0M78.1 139.7h0M78.8 139.0h0M103.3 139.3h0M109.0 139.6h0M65.8 140.7h0M68.8 140.8h0M77.1 140.0h0M88.5 140.5h0M93.5 140.6h0M95.7 140.2h0M102.5 140.6h0M58.7 141.8h0M74.0 141.5h0M80.6 141.4h0M83.3 141.4h0M91.9 141.7h0M63.0 142.1h0M64.4 142.3h0M90.1 142.7h0M94.1 142.9h0M62.5 143.2h0M63.5 143.8h0M81.2 143.1h0M85.1 143.8h0M88.9 143.8h0M93.0 143.4h0M68.9 144.5h0M82.6 144.9h0M75.5 145.7h0M82.0 145.5h0M96.7 145.3h0" fill="none" stroke="#900000" stroke-width="0.9" stroke-linecap="round" opacity="0.8"/><path d="M27.8 0.6h0M48.9 0.6h0M34.7 2.1h0M42.0 2.3h0M54.9 2.0h0M65.0 2.6h0M30.1 3.5h0M51.3 4.0h0M38.5 6.0h0M41.1 5.3h0M42.5 5.0h0M33.2 6.2h0M32.6 7.8h0M34.7 7.5h0M52.8 7.9h0M29.0 8.1h0M37.9 8.2h0M39.8 8.1h0M40.0 8.9h0M40.0 9.0h0M27.0 9.1h0M30.5 10.0h0M36.5 9.1h0M31.4 10.4h0M35.6 11.0h0M38.4 11.0h0M47.6 10.9h0M37.6 11.0h0M38.0 11.6h0M44.9 11.1h0M45.6 11.8h0M31.5 12.9h0M32.0 12.6h0M39.6 12.1h0M32.8 13.7h0M32.8 13.8h0M28.9 14.1h0M32.6 14.0h0M43.2 14.4h0M51.7 14.9h0M38.4 15.5h0M36.5 17.8h0M39.5 17.1h0M43.0 17.9h0M43.2 18.0h0M30.2 18.2h0M31.3 20.5h0M27.2 22.5h0M34.3 22.3h0M31.6 23.7h0M32.3 23.8h0M42.9 23.2h0M62.9 23.8h0M70.8 23.5h0M32.4 24.8h0M46.4 24.6h0M30.9 25.0h0M49.2 25.4h0M38.0 26.9h0M40.9 26.7h0M36.7 29.9h0M38.5 29.4h0M66.5 29.7h0M27.5 30.5h0M41.1 30.8h0M101.8 30.7h0M36.8 31.1h0M36.9 31.2h0M97.1 31.9h0M33.3 32.2h0M27.7 33.9h0M37.1 33.6h0M90.7 33.3h0M27.6 34.7h0M33.7 34.8h0M33.2 34.8h0M34.0 34.6h0M80.0 34.9h0M83.7 34.7h0M110.5 34.2h0M41.6 35.4h0M67.5 35.5h0M80.1 35.4h0M27.8 36.8h0M32.6 36.7h0M34.2 36.1h0M38.9 36.3h0M84.3 36.2h0M81.4 37.1h0M89.9 37.3h0M111.5 37.2h0M91.1 38.4h0M37.1 39.9h0M74.3 39.6h0M92.3 39.5h0M76.5 40.0h0M88.0 40.7h0M96.6 40.5h0M115.8 40.1h0M37.5 41.8h0M66.5 41.6h0M75.2 41.6h0M95.1 41.6h0M105.3 41.5h0M107.2 41.3h0M25.2 42.6h0M31.3 42.7h0M33.6 42.3h0M83.4 42.6h0M92.7 42.5h0M78.7 43.6h0M104.1 43.4h0M23.1 44.0h0M29.4 44.4h0M32.1 44.6h0M35.2 45.0h0M72.0 44.2h0M72.2 44.3h0M23.9 45.2h0M77.5 45.7h0M78.9 45.0h0M80.7 45.7h0M103.3 45.9h0M58.3 47.0h0M60.8 46.9h0M72.1 46.3h0M74.7 46.7h0M112.4 46.1h0M27.7 47.3h0M32.8 47.1h0M87.7 47.7h0M88.3 47.5h0M94.1 47.0h0M95.2 47.5h0M45.2 48.4h0M65.8 48.7h0M70.9 49.0h0M78.3 48.9h0M89.1 48.1h0M101.7 48.2h0M25.2 49.9h0M25.4 49.1h0M66.5 49.9h0M72.2 49.1h0M78.5 49.2h0M78.4 49.0h0M81.0 49.9h0M82.9 49.1h0M85.2 49.8h0M87.7 49.0h0M33.9 50.4h0M75.6 50.6h0M83.9 50.5h0M84.3 50.4h0M93.6 50.3h0M93.9 50.3h0M96.2 50.7h0M97.4 50.7h0M27.5 51.7h0M29.4 51.4h0M69.4 51.1h0M95.2 51.8h0M37.2 52.1h0M66.9 52.9h0M67.3 52.2h0M69.1 52.2h0M77.3 52.2h0M82.6 52.2h0M86.5 52.4h0M100.4 52.9h0M101.3 52.3h0M33.7 53.0h0M73.7 53.7h0M82.4 53.6h0M83.7 54.0h0M87.2 53.6h0M105.0 53.7h0M28.4 54.2h0M69.2 54.1h0M70.0 54.5h0M77.2 54.3h0M80.8 54.9h0M91.0 54.3h0M100.0 54.9h0M99.8 54.7h0M108.0 54.7h0M31.7 55.2h0M64.7 55.8h0M79.1 55.8h0M103.3 55.5h0M108.7 56.0h0M29.8 56.5h0M53.7 56.8h0M71.0 56.1h0M86.8 56.6h0M89.7 56.1h0M92.2 56.4h0M31.4 58.0h0M68.2 57.2h0M78.1 57.4h0M80.3 57.5h0M102.1 57.6h0M22.1 58.0h0M82.7 58.1h0M92.5 58.3h0M93.8 58.7h0M95.4 58.4h0M21.4 60.0h0M28.2 59.4h0M30.8 59.5h0M30.9 60.0h0M38.7 60.0h0M48.0 59.9h0M64.7 59.0h0M70.8 59.6h0M71.8 59.4h0M74.3 59.4h0M79.0 59.8h0M80.5 59.1h0M83.2 59.2h0M86.1 59.9h0M111.4 59.2h0M27.7 60.1h0M28.0 60.6h0M32.9 60.8h0M64.9 60.9h0M65.0 60.1h0M80.1 60.9h0M81.8 60.3h0M94.2 60.1h0M29.1 61.8h0M33.3 61.8h0M61.9 61.4h0M79.6 61.4h0M86.9 61.8h0M20.9 62.8h0M20.4 62.2h0M51.2 62.2h0M72.8 62.4h0M76.4 62.1h0M76.3 62.0h0M76.0 62.9h0M81.1 62.0h0M89.6 62.8h0M96.4 62.3h0M24.4 63.5h0M29.5 63.4h0M71.1 63.4h0M77.9 63.1h0M63.2 64.3h0M75.2 64.1h0M78.1 64.1h0M82.6 64.9h0M93.3 64.3h0M93.0 64.2h0M28.6 65.3h0M45.5 65.1h0M68.3 65.9h0M70.9 65.5h0M70.1 65.2h0M71.7 65.5h0M83.0 65.3h0M93.9 65.0h0M102.1 65.6h0M28.4 66.0h0M37.1 66.2h0M57.2 67.0h0M66.9 66.1h0M71.7 66.9h0M78.9 66.5h0M94.0 66.4h0M111.2 66.8h0M30.9 67.4h0M55.7 67.7h0M66.0 67.3h0M75.6 67.6h0M82.6 67.7h0M101.6 67.1h0M24.2 68.4h0M29.3 68.9h0M64.4 68.4h0M94.6 68.1h0M106.0 68.9h0M29.1 69.6h0M31.0 69.9h0M64.9 69.1h0M88.3 70.0h0M90.2 69.4h0M98.4 69.2h0M102.6 69.0h0M65.5 70.8h0M68.5 70.8h0M69.6 70.7h0M76.0 70.3h0M87.9 70.8h0M110.9 70.5h0M23.2 71.1h0M26.1 71.0h0M36.3 71.0h0M74.4 71.6h0M88.3 71.0h0M105.9 71.9h0M23.1 72.1h0M24.8 72.3h0M62.7 72.6h0M66.5 72.4h0M69.6 72.6h0M80.4 72.1h0M85.4 72.1h0M103.9 72.2h0M105.4 72.5h0M106.6 72.0h0M22.6 73.8h0M28.1 73.8h0M41.6 73.2h0M48.6 73.3h0M81.6 73.3h0M92.6 73.5h0M97.7 73.8h0M101.6 73.4h0M101.6 73.3h0M104.6 73.9h0M107.9 73.4h0M66.7 75.0h0M80.6 74.2h0M81.5 74.1h0M82.7 74.7h0M91.4 74.1h0M94.7 74.4h0M113.2 74.9h0M45.5 75.5h0M46.4 75.8h0M73.2 75.1h0M77.0 75.5h0M84.0 75.8h0M85.1 75.7h0M91.2 75.4h0M94.1 75.8h0M95.7 76.0h0M98.1 75.2h0M100.5 75.6h0M35.6 76.8h0M68.3 76.2h0M101.4 76.7h0M114.0 76.5h0M26.3 77.1h0M79.5 77.2h0M87.6 77.5h0M89.9 77.6h0M24.5 78.9h0M31.8 78.3h0M31.1 78.8h0M42.7 78.6h0M64.3 78.5h0M82.1 78.5h0M82.2 78.5h0M29.7 79.1h0M78.4 79.5h0M82.8 79.2h0M96.5 79.7h0M103.1 79.8h0M20.2 80.9h0M26.5 80.1h0M37.7 80.4h0M83.3 80.7h0M85.8 80.7h0M107.4 80.4h0M114.2 80.1h0M30.4 81.8h0M30.9 81.9h0M34.1 81.1h0M72.3 81.6h0M83.1 81.4h0M85.3 81.6h0M28.9 82.1h0M111.6 82.7h0M25.6 83.7h0M27.8 83.7h0M41.7 83.5h0M64.9 83.9h0M71.9 83.0h0M91.4 83.4h0M107.9 83.0h0M23.0 84.4h0M29.6 84.1h0M33.7 84.8h0M38.3 84.7h0M60.1 84.6h0M91.2 85.0h0M95.4 84.5h0M95.3 84.9h0M20.5 85.6h0M31.1 85.9h0M44.2 86.0h0M50.0 85.6h0M26.9 86.1h0M29.6 86.0h0M110.7 86.7h0M20.7 87.7h0M27.0 87.9h0M60.3 87.2h0M97.1 87.7h0M113.7 87.6h0M18.9 88.9h0M27.7 88.7h0M110.4 88.1h0M84.2 89.6h0M22.9 90.3h0M46.1 90.9h0M24.9 91.8h0M28.1 91.5h0M29.3 91.2h0M53.7 91.6h0M87.9 91.7h0M94.2 91.7h0M25.8 92.3h0M28.8 92.2h0M30.8 92.5h0M36.6 92.8h0M62.6 93.0h0M73.6 92.6h0M18.1 93.5h0M81.8 93.9h0M96.4 93.7h0M40.7 94.8h0M59.7 94.6h0M61.1 94.4h0M77.8 95.0h0M98.1 94.6h0M25.6 95.7h0M81.9 95.5h0M103.0 95.8h0M32.7 96.6h0M36.7 96.6h0M93.2 96.4h0M27.1 97.2h0M30.2 97.2h0M30.7 97.5h0M31.6 97.9h0M51.5 97.9h0M64.8 97.9h0M69.9 97.3h0M80.1 97.8h0M87.6 97.4h0M47.0 98.2h0M70.3 98.8h0M26.5 99.1h0M29.4 100.7h0M30.0 100.3h0M41.4 100.1h0M43.2 101.0h0M87.5 100.5h0M30.6 101.4h0M46.6 101.0h0M99.2 101.9h0M34.4 102.6h0M41.9 103.4h0M43.1 103.9h0M51.4 103.2h0M63.4 103.6h0M107.1 103.7h0M26.3 104.8h0M42.5 104.8h0M67.6 104.1h0M80.0 104.2h0M82.4 104.8h0M83.4 104.5h0M85.8 104.9h0M95.5 104.1h0M96.4 104.4h0M110.0 104.8h0M34.6 105.5h0M54.4 105.8h0M78.0 105.7h0M56.3 106.8h0M58.3 106.1h0M89.6 106.3h0M33.8 107.1h0M41.5 107.9h0M81.7 107.5h0M32.2 108.5h0M63.3 108.3h0M68.5 108.3h0M80.7 108.6h0M27.3 109.2h0M44.2 109.4h0M61.2 109.7h0M78.9 109.5h0M89.1 109.1h0M90.5 109.7h0M30.5 110.5h0M44.7 110.5h0M46.0 110.2h0M53.4 111.0h0M110.5 110.1h0M33.0 111.2h0M49.1 111.4h0M65.2 111.6h0M43.2 112.6h0M64.8 112.9h0M73.0 112.1h0M78.8 112.9h0M95.8 112.2h0M35.1 113.7h0M39.3 113.9h0M54.4 113.5h0M86.3 113.7h0M97.8 113.4h0M107.1 113.5h0M29.8 114.8h0M31.8 114.0h0M32.8 114.3h0M35.0 114.3h0M47.3 114.9h0M49.8 114.5h0M66.8 114.0h0M71.6 114.8h0M85.3 114.5h0M54.0 115.7h0M45.7 116.2h0M47.2 116.6h0M70.6 117.0h0M81.0 116.6h0M101.9 116.3h0M103.4 116.9h0M103.1 116.1h0M37.9 117.5h0M61.2 117.7h0M77.3 117.5h0M86.8 118.0h0M33.4 118.6h0M40.8 118.3h0M51.0 118.1h0M60.5 118.9h0M73.2 118.1h0M87.6 118.1h0M50.7 119.5h0M51.6 119.8h0M58.9 119.9h0M93.0 119.8h0M106.4 119.0h0M38.3 120.3h0M80.0 120.4h0M36.7 121.7h0M47.4 121.7h0M49.0 121.8h0M86.0 121.2h0M96.8 121.7h0M34.2 122.5h0M35.6 122.5h0M37.5 122.1h0M39.1 122.3h0M43.1 122.8h0M49.0 122.2h0M62.4 122.1h0M65.8 122.6h0M69.3 122.9h0M103.3 122.0h0M104.7 122.1h0M106.1 122.0h0M30.1 123.3h0M45.1 123.2h0M47.2 123.2h0M47.5 123.7h0M51.4 123.4h0M90.5 124.0h0M95.5 123.5h0M105.1 123.9h0M108.4 123.4h0M109.1 123.9h0M34.6 124.8h0M46.4 124.0h0M46.5 125.0h0M80.8 124.2h0M81.6 124.6h0M82.3 124.4h0M61.8 125.1h0M103.6 125.8h0M112.8 125.5h0M113.3 125.6h0M39.2 126.5h0M45.8 126.8h0M46.8 126.1h0M59.6 126.5h0M102.8 126.6h0M107.5 126.7h0M108.2 126.8h0M110.2 126.5h0M115.5 127.1h0M37.6 128.6h0M46.6 129.0h0M64.1 128.7h0M66.4 128.7h0M108.5 128.8h0M108.5 128.4h0M113.3 128.5h0M58.9 129.5h0M80.5 129.2h0M89.6 129.8h0M95.0 129.2h0M106.6 129.0h0M48.7 130.4h0M51.6 130.3h0M57.0 130.4h0M72.3 131.0h0M97.4 131.0h0M98.2 130.3h0M100.4 130.4h0M101.5 130.2h0M111.8 130.6h0M41.0 131.1h0M46.4 131.4h0M63.6 131.7h0M82.0 131.7h0M84.6 131.6h0M84.9 131.6h0M99.9 131.2h0M109.1 131.2h0M110.7 131.4h0M58.2 132.9h0M95.2 132.1h0M96.7 132.0h0M91.8 133.8h0M105.8 133.7h0M108.3 133.8h0M109.8 133.9h0M112.8 133.0h0M58.0 134.0h0M67.6 134.2h0M73.8 134.9h0M85.3 134.0h0M107.8 134.7h0M53.9 135.3h0M60.4 135.7h0M65.7 136.0h0M65.2 135.3h0M66.2 135.7h0M80.0 135.5h0M111.4 135.0h0M84.3 136.5h0M50.1 137.5h0M59.7 137.2h0M62.8 137.3h0M68.1 138.0h0M69.9 137.3h0M77.8 137.8h0M87.4 137.4h0M93.4 137.7h0M55.2 138.0h0M57.3 138.9h0M64.5 138.9h0M78.6 138.1h0M80.6 138.4h0M100.1 138.9h0M51.6 139.9h0M67.6 139.3h0M89.6 139.6h0M65.5 140.2h0M76.2 140.2h0M91.7 140.3h0M99.8 140.6h0M61.1 141.7h0M77.6 141.8h0M81.3 141.4h0M94.0 141.1h0M80.7 142.4h0M92.3 142.4h0M80.8 143.9h0M67.8 144.7h0M82.2 145.4h0" fill="none" stroke="#c80000" stroke-width="1.15" stroke-linecap="round" opacity="0.9"/><path d="M58.8 2.0h0M26.5 2.3h0M27.9 2.4h0M37.9 2.4h0M32.8 5.7h0M41.7 5.3h0M29.3 7.6h0M23.7 8.7h0M43.9 13.7h0M67.1 13.8h0M65.5 15.5h0M25.6 16.8h0M35.4 20.2h0M34.4 21.5h0M37.1 23.7h0M30.6 24.0h0M33.1 24.7h0M93.2 30.0h0M28.5 33.9h0M42.0 33.1h0M61.7 33.6h0M24.6 36.4h0M88.7 37.6h0M106.5 39.5h0M98.1 40.2h0M42.1 41.8h0M89.0 41.6h0M72.5 42.5h0M83.9 42.7h0M93.7 42.5h0M98.1 42.7h0M24.1 43.8h0M30.1 43.5h0M37.5 43.5h0M66.5 43.9h0M68.7 43.4h0M75.6 43.5h0M77.5 43.8h0M89.1 43.5h0M90.1 43.5h0M23.3 44.4h0M34.4 44.1h0M75.7 44.5h0M32.2 45.1h0M66.7 45.7h0M86.9 45.4h0M104.7 45.4h0M81.1 46.9h0M90.7 46.9h0M46.7 47.2h0M63.2 48.0h0M90.3 47.3h0M80.4 48.1h0M99.5 48.5h0M67.0 49.9h0M84.2 50.4h0M101.5 50.5h0M102.8 50.4h0M22.6 51.0h0M84.3 51.9h0M115.9 51.1h0M33.5 52.4h0M69.1 52.4h0M96.1 52.5h0M22.0 53.2h0M62.2 53.1h0M26.2 54.5h0M78.8 55.8h0M80.1 55.1h0M104.4 55.4h0M36.8 56.6h0M78.5 56.6h0M100.2 56.9h0M98.0 57.8h0M39.7 58.5h0M71.1 59.8h0M73.9 59.8h0M27.9 60.7h0M72.7 60.1h0M80.4 60.3h0M44.6 61.5h0M65.1 61.8h0M71.8 61.3h0M79.9 62.3h0M20.8 63.6h0M31.2 64.0h0M65.2 63.1h0M70.1 63.8h0M71.8 64.6h0M75.8 64.3h0M78.0 64.8h0M93.6 64.9h0M114.3 64.4h0M44.0 65.5h0M67.1 66.6h0M97.5 66.9h0M102.1 67.0h0M104.3 66.9h0M86.9 67.4h0M34.8 68.5h0M87.7 68.5h0M94.4 68.7h0M27.0 69.2h0M57.6 69.7h0M90.2 69.2h0M97.1 70.7h0M113.0 70.9h0M35.5 71.7h0M72.2 71.3h0M77.1 72.0h0M91.2 71.1h0M77.5 72.4h0M84.9 72.6h0M85.9 72.0h0M90.9 72.9h0M69.2 73.7h0M115.3 74.4h0M74.6 76.7h0M80.0 76.9h0M30.0 77.7h0M72.1 77.6h0M28.1 78.1h0M30.1 79.4h0M30.8 80.6h0M106.2 81.2h0M27.2 82.3h0M33.1 82.5h0M46.0 82.4h0M25.1 83.0h0M33.7 84.8h0M21.6 85.9h0M24.7 85.9h0M85.0 87.5h0M24.2 89.7h0M27.6 89.2h0M27.3 89.6h0M53.1 90.3h0M74.8 90.7h0M31.2 91.8h0M73.0 91.1h0M30.7 92.2h0M88.0 92.1h0M24.0 93.9h0M35.9 93.6h0M105.8 93.8h0M51.9 94.2h0M47.2 95.8h0M53.7 95.8h0M76.0 95.2h0M78.7 95.1h0M80.2 97.6h0M40.1 98.4h0M64.5 98.3h0M69.2 98.5h0M34.6 99.9h0M46.4 99.3h0M50.5 99.8h0M64.7 99.6h0M68.4 99.2h0M31.5 100.7h0M74.8 100.4h0M82.9 100.7h0M84.6 100.8h0M35.2 102.1h0M51.8 102.6h0M63.9 102.8h0M92.1 102.5h0M100.2 102.2h0M31.9 103.3h0M69.6 103.6h0M112.7 103.8h0M27.3 104.1h0M28.4 104.8h0M31.2 105.7h0M90.8 105.6h0M32.3 106.1h0M34.1 106.9h0M92.6 106.7h0M37.6 107.5h0M40.9 107.3h0M81.0 107.8h0M90.2 107.6h0M30.5 110.4h0M49.7 110.8h0M56.5 110.1h0M76.0 110.1h0M93.6 110.5h0M51.6 111.8h0M59.6 111.9h0M95.2 111.5h0M89.5 112.8h0M107.5 113.0h0M101.1 113.2h0M34.9 114.5h0M70.8 115.7h0M102.9 115.3h0M79.0 117.8h0M47.4 118.9h0M70.4 118.7h0M47.2 121.4h0M71.6 121.3h0M33.4 122.7h0M42.2 124.5h0M91.4 124.7h0M105.8 124.1h0M40.9 125.3h0M48.0 126.1h0M47.7 127.4h0M70.7 127.1h0M99.7 127.7h0M100.2 127.1h0M107.3 128.6h0M114.0 129.7h0M62.3 130.0h0M82.3 130.9h0M87.6 130.9h0M54.5 131.6h0M88.1 132.3h0M49.0 133.1h0M73.4 134.6h0M75.6 134.5h0M107.4 134.7h0M111.3 134.7h0M56.8 135.6h0M67.8 136.4h0M98.3 136.9h0M100.3 137.9h0M82.5 140.0h0M60.9 140.6h0M61.4 140.3h0M80.0 141.0h0M74.9 142.1h0M68.2 146.8h0" fill="none" stroke="#f80c0c" stroke-width="1.5" stroke-linecap="round" opacity="1.0"/></g>
<g transform="translate(22.5 35.7)"><path d="M20 82 C26 88 34 104 41 122" fill="none" stroke="#f21010" stroke-width="3.4" stroke-linecap="round" filter="url(#b1)"/><path d="M30 112 C40 128 60 142 84 142" fill="none" stroke="#d00" stroke-width="5" opacity=".35" filter="url(#b2)"/></g>
</g>
<g clip-path="url(#cl1)">
<rect x="142" y="35.7" width="115.3" height="154.5" fill="#000"/>
<g transform="translate(142 35.7)" fill="#e00000" filter="url(#b7)"><path d="M10 0 C6 50 8 105 36 144 C50 154 85 152 116 134 L116 0Z" opacity=".14"/></g>
<g transform="translate(142 35.7)" filter="url(#b03)"><path d="M46.2 0.8h0M80.7 1.7h0M90.3 1.5h0M92.3 1.8h0M27.3 2.9h0M97.9 2.4h0M112.6 2.2h0M17.6 3.2h0M20.5 3.3h0M29.5 3.7h0M95.9 4.5h0M21.5 5.1h0M22.0 5.5h0M93.4 5.1h0M101.7 5.3h0M29.0 6.8h0M98.5 6.7h0M100.1 6.7h0M103.1 6.8h0M24.5 7.6h0M26.8 7.8h0M26.5 7.6h0M50.6 7.1h0M20.4 8.2h0M25.9 8.9h0M105.0 8.2h0M58.4 9.9h0M100.3 9.5h0M18.5 10.2h0M27.5 10.1h0M109.0 10.8h0M20.7 11.2h0M89.8 11.1h0M94.1 11.2h0M23.0 12.3h0M22.0 12.6h0M24.9 12.2h0M51.3 12.7h0M63.1 12.5h0M94.9 12.9h0M106.6 12.5h0M61.1 13.2h0M77.1 13.1h0M78.6 13.6h0M88.3 13.1h0M24.6 14.5h0M38.5 14.2h0M60.9 14.8h0M70.1 14.7h0M19.0 15.2h0M45.6 15.9h0M71.9 15.4h0M71.4 15.5h0M74.1 15.1h0M95.9 15.6h0M21.1 16.8h0M22.1 16.7h0M24.0 16.1h0M25.6 16.4h0M26.9 16.1h0M26.4 16.2h0M27.1 16.9h0M28.6 16.2h0M45.7 17.0h0M70.3 16.4h0M70.6 16.3h0M101.8 16.2h0M65.2 17.2h0M25.2 18.6h0M58.0 18.2h0M59.6 18.4h0M76.1 18.6h0M85.4 18.8h0M91.7 18.1h0M23.2 19.7h0M26.5 19.9h0M63.3 19.7h0M76.7 19.2h0M97.3 19.8h0M97.2 20.0h0M101.4 19.0h0M26.0 20.3h0M69.3 20.7h0M81.9 21.6h0M97.3 21.3h0M101.1 21.9h0M26.4 22.0h0M73.7 22.4h0M95.9 22.8h0M114.6 22.3h0M72.6 23.3h0M22.8 24.4h0M23.5 24.3h0M24.0 24.6h0M29.7 25.0h0M36.3 24.9h0M63.0 24.0h0M64.2 24.2h0M69.4 24.7h0M70.3 24.0h0M71.8 24.8h0M73.8 24.9h0M85.0 24.7h0M94.8 24.0h0M99.5 24.4h0M110.7 24.6h0M15.1 25.5h0M23.3 25.6h0M34.7 25.9h0M61.8 25.2h0M72.5 25.7h0M98.1 25.9h0M62.6 26.0h0M101.8 26.0h0M38.0 27.3h0M67.0 27.5h0M73.8 27.3h0M21.2 28.9h0M27.3 28.4h0M57.6 28.6h0M58.7 28.5h0M63.3 28.8h0M66.6 28.5h0M73.2 28.4h0M75.3 28.9h0M77.7 28.4h0M30.4 29.2h0M59.6 29.9h0M62.1 29.4h0M64.8 29.1h0M64.3 29.9h0M65.7 29.8h0M65.9 29.9h0M68.3 29.4h0M72.1 29.1h0M23.0 31.0h0M29.0 30.8h0M60.5 30.5h0M60.7 30.1h0M69.8 30.8h0M98.0 30.3h0M22.4 31.4h0M53.1 31.4h0M59.2 31.9h0M68.3 31.1h0M74.7 31.8h0M97.9 31.6h0M21.0 33.0h0M24.2 32.7h0M24.7 32.6h0M62.2 33.0h0M72.0 32.6h0M79.5 32.3h0M82.7 32.6h0M85.8 32.6h0M26.5 33.3h0M59.6 33.0h0M64.8 33.5h0M66.4 33.2h0M67.8 33.6h0M67.3 33.8h0M71.0 33.0h0M74.3 33.1h0M78.0 33.7h0M80.2 33.4h0M21.5 34.1h0M25.7 34.7h0M34.1 34.7h0M48.0 34.7h0M49.4 34.7h0M61.6 34.6h0M65.8 35.0h0M65.4 34.4h0M69.7 34.1h0M71.0 34.4h0M19.7 35.1h0M52.8 35.8h0M60.4 35.2h0M63.6 35.6h0M64.2 36.0h0M64.9 35.7h0M71.4 35.7h0M74.6 35.7h0M22.5 36.4h0M22.9 36.0h0M56.8 36.9h0M56.2 36.8h0M60.5 36.8h0M61.6 36.6h0M65.7 36.5h0M67.0 36.1h0M68.1 36.2h0M71.4 36.5h0M74.8 36.9h0M76.8 36.8h0M80.1 36.4h0M22.4 37.2h0M23.1 37.7h0M50.4 37.6h0M55.8 37.3h0M56.1 37.7h0M59.5 37.6h0M62.8 37.0h0M65.8 37.6h0M66.5 37.2h0M68.2 37.6h0M68.2 37.7h0M72.8 37.1h0M74.1 37.2h0M74.7 37.1h0M76.1 37.5h0M24.0 38.5h0M24.3 38.1h0M25.7 38.7h0M28.9 38.5h0M60.2 38.2h0M65.7 38.6h0M68.9 38.6h0M71.1 38.1h0M72.2 38.7h0M80.4 38.2h0M20.1 39.6h0M26.0 39.3h0M53.9 39.4h0M61.3 39.1h0M62.3 39.1h0M63.5 39.7h0M67.6 39.0h0M69.2 39.5h0M112.7 39.1h0M48.3 40.7h0M65.9 40.9h0M68.6 40.1h0M74.7 40.5h0M80.9 40.4h0M88.3 40.6h0M15.1 41.4h0M18.3 41.9h0M59.9 41.4h0M61.1 41.1h0M61.3 41.7h0M71.0 41.2h0M72.8 41.5h0M24.1 42.8h0M28.1 42.2h0M57.3 42.0h0M69.6 42.1h0M78.2 42.9h0M59.4 43.4h0M61.2 44.0h0M62.0 43.4h0M67.1 43.6h0M79.2 43.6h0M103.6 43.1h0M18.1 44.3h0M21.0 44.5h0M30.9 44.9h0M68.5 44.9h0M70.7 44.3h0M73.3 44.2h0M79.0 44.7h0M80.9 44.2h0M56.6 45.5h0M63.6 46.0h0M68.2 45.9h0M73.5 45.0h0M74.4 45.8h0M75.1 45.9h0M78.8 45.4h0M82.8 45.7h0M84.4 45.9h0M57.2 46.7h0M69.8 46.1h0M74.7 46.5h0M78.0 46.1h0M20.4 47.5h0M59.3 47.5h0M66.4 47.8h0M67.5 47.8h0M74.6 47.8h0M53.4 48.6h0M57.5 48.7h0M65.2 48.9h0M68.3 48.3h0M69.3 48.3h0M71.6 48.2h0M76.3 49.0h0M78.8 48.2h0M54.7 50.0h0M54.8 49.2h0M66.0 49.7h0M67.2 49.2h0M68.4 49.0h0M69.8 49.1h0M73.7 49.8h0M73.2 49.7h0M75.0 49.0h0M76.9 50.0h0M80.7 49.8h0M60.6 50.4h0M66.5 50.1h0M70.0 50.0h0M75.8 51.0h0M80.9 50.7h0M83.9 50.3h0M84.4 50.4h0M10.2 51.9h0M24.7 52.0h0M65.7 51.2h0M80.7 51.7h0M84.1 51.8h0M89.5 51.9h0M17.5 52.3h0M23.1 52.8h0M24.2 52.5h0M57.0 53.0h0M69.7 52.6h0M71.4 52.5h0M71.7 52.0h0M72.5 52.9h0M72.8 52.7h0M74.2 52.2h0M75.8 52.6h0M77.2 52.7h0M81.0 52.2h0M84.9 52.7h0M24.8 53.8h0M55.7 53.0h0M59.1 53.5h0M61.2 53.5h0M65.5 53.4h0M73.1 53.1h0M77.2 53.3h0M57.1 54.7h0M62.3 54.3h0M65.2 54.2h0M70.7 54.9h0M78.3 54.4h0M86.5 54.3h0M57.1 55.9h0M58.4 55.7h0M68.6 55.2h0M71.3 55.8h0M73.4 55.8h0M76.4 55.2h0M77.1 55.2h0M77.6 55.3h0M21.6 56.8h0M52.2 56.4h0M63.8 56.4h0M71.5 56.4h0M75.7 56.6h0M91.1 56.1h0M55.2 57.8h0M58.0 57.7h0M63.6 57.2h0M63.2 57.2h0M73.7 57.4h0M76.1 57.5h0M82.0 57.6h0M84.6 57.3h0M54.9 58.5h0M55.1 59.0h0M57.0 58.8h0M58.5 58.1h0M62.2 58.9h0M62.4 58.8h0M65.5 58.9h0M65.9 58.4h0M81.4 58.5h0M82.6 59.0h0M18.7 59.1h0M48.2 59.5h0M48.7 59.4h0M52.1 59.2h0M54.4 59.8h0M55.4 59.6h0M71.9 59.0h0M73.2 59.8h0M82.7 59.9h0M83.7 59.5h0M20.5 60.3h0M22.6 60.7h0M54.4 60.7h0M57.5 60.1h0M58.7 60.8h0M59.6 60.8h0M68.0 60.1h0M69.9 60.1h0M70.6 60.4h0M72.9 60.3h0M76.0 60.4h0M77.8 60.1h0M83.1 60.7h0M92.6 60.4h0M22.7 61.6h0M56.0 61.5h0M63.5 61.6h0M64.4 62.0h0M68.0 61.7h0M74.6 61.1h0M76.7 61.7h0M78.1 61.4h0M78.7 61.4h0M89.9 61.9h0M54.4 62.0h0M58.8 62.2h0M59.2 62.5h0M62.1 63.0h0M66.5 62.7h0M68.2 62.1h0M72.4 62.7h0M73.9 62.2h0M77.6 62.5h0M60.4 63.7h0M62.5 64.0h0M63.9 63.8h0M63.3 63.4h0M68.6 63.2h0M68.9 64.0h0M12.0 64.1h0M56.2 64.5h0M57.8 64.8h0M58.7 64.0h0M62.2 64.4h0M62.7 64.9h0M65.8 64.6h0M67.1 64.0h0M20.3 65.7h0M59.9 65.1h0M59.9 65.9h0M60.5 65.3h0M65.8 65.2h0M68.9 65.5h0M69.8 65.1h0M70.4 65.3h0M74.3 65.4h0M76.1 65.4h0M81.0 65.8h0M81.8 65.9h0M102.9 65.2h0M27.8 66.3h0M58.5 66.5h0M62.1 66.8h0M63.6 66.1h0M67.6 66.2h0M68.2 66.9h0M76.2 67.0h0M80.8 66.2h0M82.6 66.9h0M112.2 66.0h0M20.4 67.9h0M22.1 68.0h0M23.0 67.2h0M28.0 67.9h0M51.1 67.4h0M58.6 67.8h0M58.1 67.9h0M63.8 67.5h0M65.0 67.5h0M73.0 67.4h0M76.2 67.5h0M76.2 67.4h0M79.1 67.3h0M81.5 67.5h0M83.0 67.4h0M84.7 67.1h0M87.9 67.5h0M56.8 68.4h0M61.2 68.1h0M62.4 68.4h0M62.4 69.0h0M64.7 68.2h0M65.7 68.8h0M71.0 68.9h0M71.4 68.4h0M76.1 68.3h0M79.5 68.6h0M82.4 68.1h0M86.6 68.7h0M57.8 69.3h0M66.3 69.1h0M68.0 69.2h0M69.7 69.9h0M80.9 69.7h0M82.8 69.4h0M87.7 69.0h0M59.5 70.3h0M59.8 70.3h0M65.0 70.6h0M64.2 70.6h0M64.7 70.5h0M65.6 70.4h0M68.6 70.3h0M72.6 70.8h0M75.6 70.7h0M75.2 70.6h0M77.8 70.1h0M78.2 71.0h0M81.8 70.6h0M94.4 70.5h0M21.9 71.4h0M23.0 71.2h0M27.8 71.4h0M31.5 71.5h0M53.5 71.1h0M55.7 71.2h0M57.6 71.8h0M59.3 71.1h0M63.1 71.9h0M67.1 71.6h0M67.2 71.8h0M67.9 71.3h0M71.4 71.7h0M72.4 71.0h0M75.5 71.0h0M79.5 71.4h0M24.3 72.8h0M31.3 72.2h0M49.0 72.3h0M59.0 72.7h0M61.8 72.2h0M62.2 72.5h0M65.8 72.9h0M76.0 72.0h0M77.2 72.5h0M77.2 72.8h0M79.5 72.8h0M85.3 72.8h0M85.0 72.9h0M89.5 73.0h0M21.5 73.8h0M50.3 73.6h0M61.2 73.9h0M62.5 73.2h0M66.6 73.8h0M72.1 73.3h0M72.7 73.9h0M73.3 73.8h0M77.6 73.6h0M92.8 73.4h0M92.8 73.8h0M16.7 74.4h0M24.3 74.5h0M52.6 74.3h0M59.9 74.8h0M65.2 74.7h0M75.5 74.3h0M79.3 74.7h0M92.8 74.8h0M24.6 75.2h0M25.0 75.9h0M68.8 75.7h0M68.4 75.4h0M71.8 75.9h0M75.5 75.4h0M80.1 75.4h0M106.2 75.2h0M112.2 75.7h0M54.5 76.5h0M59.7 76.5h0M60.8 76.4h0M64.4 76.6h0M66.9 77.0h0M66.9 76.5h0M67.1 76.9h0M71.3 76.5h0M77.7 76.3h0M109.0 76.6h0M112.3 76.4h0M22.1 77.0h0M32.9 77.7h0M51.6 77.3h0M52.9 77.3h0M53.4 77.3h0M60.4 77.7h0M69.1 77.6h0M71.4 77.6h0M72.3 77.8h0M75.0 77.5h0M76.5 77.7h0M82.4 77.5h0M23.6 78.4h0M23.5 78.7h0M50.4 78.1h0M65.0 78.8h0M66.2 78.3h0M69.4 78.3h0M83.5 78.5h0M24.2 79.3h0M25.8 79.3h0M33.3 79.1h0M35.9 79.6h0M58.3 79.6h0M68.2 79.8h0M69.4 80.0h0M70.7 79.6h0M72.3 79.6h0M72.6 79.1h0M72.4 79.4h0M84.8 79.4h0M86.7 79.6h0M87.5 79.1h0M23.8 80.3h0M49.1 80.4h0M59.2 80.4h0M61.9 80.8h0M63.7 80.8h0M67.0 80.2h0M66.2 80.8h0M67.6 80.3h0M68.2 80.6h0M73.4 80.2h0M73.1 81.0h0M74.5 80.5h0M74.2 80.1h0M81.8 80.0h0M22.1 81.0h0M24.8 81.2h0M29.7 81.0h0M50.2 81.6h0M57.2 81.0h0M58.8 81.2h0M61.6 81.6h0M63.2 81.9h0M64.3 81.2h0M69.2 81.2h0M74.3 81.4h0M76.9 81.7h0M103.0 81.3h0M25.5 82.6h0M28.2 82.4h0M47.5 82.5h0M56.9 82.4h0M60.8 82.4h0M62.1 82.5h0M63.9 82.5h0M70.1 82.8h0M70.3 82.6h0M78.7 82.9h0M82.9 83.0h0M88.5 82.3h0M24.7 83.8h0M30.4 83.4h0M53.7 83.4h0M60.5 83.6h0M63.1 83.8h0M68.1 83.8h0M79.9 83.5h0M79.2 83.5h0M80.6 83.8h0M80.4 83.1h0M84.7 83.9h0M23.2 84.2h0M49.7 84.7h0M50.7 84.6h0M56.7 84.8h0M66.8 84.8h0M68.4 85.0h0M69.8 84.6h0M72.3 84.2h0M80.4 84.1h0M84.2 84.4h0M85.5 84.1h0M22.9 85.0h0M56.1 85.0h0M63.1 85.2h0M63.9 85.1h0M68.8 85.4h0M71.3 85.5h0M75.9 85.5h0M81.1 85.2h0M82.9 85.3h0M89.0 85.6h0M109.3 85.4h0M60.8 86.8h0M64.0 86.9h0M68.1 86.6h0M69.7 86.7h0M71.7 86.9h0M74.8 86.9h0M75.7 86.5h0M78.6 86.6h0M80.2 86.8h0M81.1 86.7h0M36.7 87.6h0M58.5 87.9h0M64.4 87.3h0M69.7 87.8h0M70.8 87.3h0M73.5 87.1h0M75.2 87.6h0M75.2 87.7h0M77.6 87.5h0M80.6 87.8h0M92.2 87.1h0M25.4 88.8h0M64.3 88.5h0M65.5 88.5h0M73.9 88.2h0M76.2 88.9h0M80.5 88.9h0M81.4 88.2h0M88.7 88.8h0M26.7 89.8h0M55.1 89.5h0M65.7 90.0h0M68.9 89.5h0M69.2 89.2h0M70.0 89.5h0M70.4 89.9h0M71.4 89.4h0M71.3 89.3h0M88.5 89.5h0M26.2 90.3h0M29.1 90.3h0M49.6 90.0h0M54.9 90.7h0M58.9 90.6h0M59.3 90.1h0M62.0 90.0h0M63.1 90.5h0M65.5 90.4h0M67.0 90.6h0M74.9 90.6h0M75.0 90.5h0M79.6 90.6h0M55.7 91.4h0M56.0 91.6h0M59.1 91.8h0M62.6 92.0h0M63.3 91.5h0M75.8 91.2h0M86.8 91.1h0M13.9 92.5h0M22.6 92.4h0M29.3 92.6h0M39.4 92.3h0M61.5 92.7h0M61.0 92.9h0M66.3 92.9h0M67.2 92.2h0M68.5 92.6h0M69.3 92.2h0M69.3 92.9h0M70.8 92.4h0M70.4 92.1h0M70.1 92.6h0M74.2 92.8h0M75.1 92.6h0M76.6 92.6h0M60.0 93.8h0M62.5 93.5h0M64.9 93.2h0M67.7 93.3h0M69.0 93.8h0M71.7 93.0h0M72.3 93.9h0M74.5 93.0h0M74.5 93.3h0M74.0 93.2h0M79.4 93.2h0M84.6 93.4h0M93.2 94.0h0M18.5 94.5h0M24.5 94.3h0M26.7 94.6h0M74.2 94.8h0M77.7 94.2h0M78.1 94.3h0M110.5 94.5h0M27.2 95.0h0M56.2 95.4h0M58.3 95.4h0M58.0 95.2h0M62.7 95.4h0M65.9 95.6h0M66.6 95.3h0M68.6 95.2h0M74.4 95.4h0M75.4 95.1h0M75.7 95.4h0M86.3 95.5h0M31.5 96.5h0M56.4 96.9h0M62.3 96.1h0M70.5 96.8h0M75.7 97.0h0M78.2 96.7h0M36.8 97.7h0M54.0 97.5h0M58.5 97.8h0M58.4 97.5h0M63.9 97.3h0M67.8 97.6h0M67.0 97.1h0M72.5 97.5h0M84.6 97.8h0M89.9 97.6h0M28.3 98.2h0M33.5 98.1h0M37.6 98.2h0M66.2 98.9h0M69.7 98.6h0M71.7 98.4h0M89.1 98.3h0M90.3 98.0h0M25.3 99.3h0M30.9 100.0h0M51.9 99.2h0M58.4 99.8h0M64.4 99.9h0M69.6 99.5h0M70.6 99.7h0M70.4 99.5h0M78.4 99.5h0M80.8 99.7h0M80.3 99.7h0M86.4 99.7h0M69.6 100.7h0M70.0 100.8h0M21.4 101.3h0M32.0 101.1h0M33.2 101.0h0M79.5 101.8h0M32.8 102.9h0M65.0 102.7h0M66.3 102.2h0M72.4 102.2h0M81.8 102.7h0M103.5 102.2h0M20.0 103.2h0M25.3 103.7h0M30.6 103.4h0M58.0 104.0h0M64.9 103.4h0M67.3 103.7h0M80.8 103.0h0M114.6 103.5h0M25.2 104.1h0M51.0 104.8h0M67.0 104.0h0M56.9 105.4h0M20.1 106.6h0M32.9 106.2h0M33.9 106.2h0M54.6 106.2h0M101.4 106.7h0M26.9 107.9h0M37.9 107.6h0M38.2 107.4h0M51.0 107.9h0M79.2 107.2h0M83.6 109.7h0M32.9 111.0h0M35.8 110.7h0M40.2 110.3h0M55.4 111.5h0M89.5 111.6h0M29.4 112.3h0M31.3 112.5h0M54.4 112.7h0M84.7 112.2h0M111.3 113.0h0M30.9 113.1h0M50.1 113.5h0M74.2 113.5h0M30.3 114.2h0M79.3 114.9h0M96.6 114.8h0M23.8 115.1h0M37.3 115.7h0M90.7 115.0h0M65.9 116.5h0M31.8 117.0h0M34.6 117.0h0M39.1 117.7h0M58.4 117.9h0M83.9 117.7h0M35.3 118.5h0M36.8 118.1h0M42.6 118.7h0M52.5 118.6h0M78.8 118.1h0M96.9 118.2h0M97.2 118.9h0M30.3 119.6h0M33.1 119.5h0M39.5 120.0h0M64.2 119.6h0M79.9 119.6h0M80.9 119.6h0M81.9 119.2h0M87.2 119.4h0M75.8 120.5h0M77.0 120.3h0M33.5 121.7h0M34.9 121.5h0M54.3 121.2h0M72.5 121.6h0M81.3 121.6h0M83.1 121.7h0M88.7 121.9h0M26.8 122.6h0M40.3 122.8h0M62.9 123.6h0M78.5 123.2h0M39.0 124.4h0M60.8 124.6h0M74.3 124.1h0M79.1 124.3h0M39.3 125.7h0M39.4 125.7h0M41.8 125.8h0M61.2 125.1h0M64.8 125.4h0M66.8 125.8h0M69.7 125.5h0M34.8 126.1h0M75.5 126.4h0M60.1 127.2h0M40.5 128.8h0M44.3 129.0h0M61.9 128.6h0M68.7 128.5h0M73.3 128.5h0M97.6 128.9h0M40.9 129.4h0M44.2 129.1h0M67.2 129.9h0M70.3 129.9h0M79.7 129.9h0M42.6 130.1h0M45.8 130.1h0M46.3 130.7h0M69.2 130.3h0M69.2 130.9h0M106.4 130.8h0M65.6 131.9h0M64.4 132.7h0M70.9 132.2h0M60.9 133.8h0M66.5 133.4h0M75.8 133.7h0M60.5 134.8h0M70.5 134.5h0M39.5 135.2h0M47.5 135.4h0M53.9 135.3h0M45.6 136.7h0M49.8 136.6h0M56.8 136.3h0M58.3 136.5h0M60.7 137.0h0M63.6 136.9h0M75.4 136.6h0M93.4 136.7h0M47.0 138.0h0M59.1 137.5h0M61.8 137.6h0M47.1 138.2h0M54.8 138.4h0M55.6 138.5h0M57.6 138.9h0M67.8 138.1h0M43.5 139.1h0M52.2 139.2h0M59.1 139.6h0M61.3 139.2h0M69.4 140.7h0M86.0 140.7h0M93.7 140.4h0M61.3 141.2h0M63.2 141.7h0M66.8 142.0h0M48.6 143.0h0M57.7 142.9h0M64.3 143.0h0M68.1 143.3h0M68.2 145.8h0M55.5 148.1h0M58.5 149.0h0" fill="none" stroke="#900000" stroke-width="0.9" stroke-linecap="round" opacity="0.8"/><path d="M51.8 1.3h0M35.1 3.1h0M18.8 5.7h0M60.2 5.9h0M32.0 6.8h0M90.2 6.6h0M93.2 6.8h0M26.1 7.1h0M98.7 8.1h0M24.2 10.0h0M95.2 9.8h0M96.5 9.6h0M102.6 9.6h0M25.2 10.8h0M73.5 10.6h0M15.5 11.8h0M23.9 11.5h0M96.1 11.2h0M72.2 12.0h0M101.3 12.8h0M107.4 12.2h0M70.5 13.9h0M19.1 14.1h0M24.4 14.3h0M25.4 14.7h0M23.9 16.4h0M25.4 17.8h0M102.8 17.6h0M66.0 20.0h0M74.3 20.1h0M101.6 20.0h0M18.1 21.8h0M71.5 21.3h0M101.6 21.8h0M41.9 22.3h0M76.9 22.5h0M93.1 22.3h0M62.9 23.4h0M23.4 25.0h0M75.9 24.9h0M67.5 25.2h0M73.7 25.1h0M52.6 26.9h0M83.6 26.9h0M96.1 26.5h0M53.2 27.8h0M62.0 28.0h0M72.0 27.3h0M97.8 27.9h0M98.8 27.4h0M74.6 28.1h0M18.5 29.2h0M50.1 29.9h0M54.0 29.5h0M56.0 29.1h0M66.6 29.9h0M70.9 29.1h0M25.2 30.5h0M58.8 30.7h0M62.2 30.3h0M68.2 30.2h0M72.2 30.1h0M72.2 30.9h0M76.8 30.0h0M79.9 30.4h0M25.1 31.7h0M66.1 31.6h0M73.9 31.7h0M74.6 31.4h0M74.9 31.8h0M54.7 32.5h0M61.9 32.3h0M62.1 32.6h0M69.0 32.9h0M69.7 33.0h0M57.8 33.4h0M64.3 33.6h0M65.7 33.4h0M72.8 33.6h0M75.3 33.1h0M109.7 33.1h0M30.7 34.7h0M63.4 34.6h0M23.9 35.5h0M61.0 35.3h0M63.1 35.3h0M45.2 37.0h0M60.9 36.8h0M63.3 37.0h0M64.9 36.6h0M70.6 36.8h0M74.4 36.9h0M74.6 36.2h0M33.3 37.7h0M61.5 37.7h0M69.9 37.9h0M70.0 37.9h0M79.0 37.9h0M87.6 37.3h0M30.1 38.6h0M61.4 38.3h0M69.3 38.7h0M76.1 38.8h0M79.2 38.5h0M29.9 39.3h0M68.4 39.7h0M73.8 39.1h0M114.8 39.2h0M24.5 40.8h0M25.4 40.2h0M54.1 40.6h0M71.7 41.0h0M76.2 40.0h0M20.8 41.8h0M31.1 41.7h0M52.1 41.4h0M75.4 41.7h0M59.4 42.6h0M61.1 42.3h0M63.2 42.4h0M67.4 42.6h0M77.9 43.0h0M25.5 43.3h0M66.2 43.8h0M68.1 43.3h0M69.5 43.2h0M76.9 43.0h0M86.0 43.5h0M30.3 44.5h0M65.2 44.1h0M68.3 44.4h0M80.1 44.8h0M88.6 44.6h0M67.7 45.4h0M70.9 45.8h0M78.3 45.2h0M82.9 45.9h0M58.0 46.1h0M61.6 46.5h0M64.2 46.5h0M65.2 46.7h0M72.5 46.0h0M76.8 46.2h0M20.2 47.2h0M22.4 47.9h0M55.7 47.9h0M60.7 47.3h0M68.0 47.8h0M68.4 48.0h0M78.0 47.9h0M80.6 47.1h0M85.6 47.2h0M86.6 47.1h0M20.2 48.2h0M22.8 48.9h0M49.5 48.6h0M72.3 48.0h0M74.7 48.9h0M23.0 49.5h0M46.9 49.3h0M62.1 49.9h0M64.7 49.3h0M73.8 49.8h0M22.0 50.0h0M24.1 50.9h0M50.6 50.8h0M59.5 50.3h0M59.2 50.3h0M60.8 50.1h0M69.1 50.8h0M52.0 51.3h0M67.9 51.1h0M71.7 51.8h0M73.0 51.0h0M76.6 51.6h0M80.8 51.3h0M85.9 51.6h0M28.1 52.8h0M65.1 52.2h0M66.0 52.3h0M69.9 52.8h0M81.3 52.2h0M82.4 52.0h0M54.8 53.6h0M55.6 53.8h0M70.0 53.7h0M71.5 53.4h0M24.1 54.1h0M58.9 54.0h0M59.8 54.7h0M61.0 54.3h0M72.5 54.4h0M78.7 54.3h0M84.8 54.0h0M52.4 55.4h0M62.7 55.5h0M72.7 55.8h0M93.5 55.9h0M18.2 56.8h0M58.9 56.4h0M61.3 56.2h0M62.2 56.2h0M65.3 56.3h0M81.1 56.8h0M104.4 56.2h0M26.0 57.9h0M50.3 57.4h0M59.1 57.9h0M68.9 57.2h0M75.7 57.2h0M79.2 57.8h0M82.7 57.8h0M78.3 58.2h0M82.3 58.1h0M85.2 58.7h0M61.3 60.0h0M71.0 59.4h0M70.9 59.4h0M71.9 59.5h0M73.4 59.5h0M27.1 60.6h0M50.0 60.9h0M61.2 60.4h0M63.0 60.2h0M66.9 60.4h0M67.6 60.8h0M71.1 60.1h0M74.2 60.3h0M24.6 61.3h0M29.1 61.3h0M55.2 61.7h0M70.6 61.5h0M70.7 61.0h0M70.6 61.5h0M70.5 61.6h0M76.0 61.2h0M76.6 61.4h0M87.1 61.9h0M58.3 62.9h0M62.5 63.0h0M73.3 62.2h0M73.7 62.1h0M81.9 62.6h0M24.5 63.3h0M63.3 63.2h0M70.4 63.4h0M71.2 63.2h0M76.0 63.2h0M84.8 63.4h0M22.5 64.8h0M65.7 65.9h0M73.5 65.0h0M76.1 65.7h0M77.4 65.9h0M77.5 65.5h0M83.5 65.2h0M50.9 66.8h0M65.6 66.5h0M70.3 66.6h0M71.5 66.8h0M73.6 66.1h0M78.7 66.7h0M84.4 66.2h0M89.2 66.8h0M17.3 67.5h0M18.1 67.5h0M25.6 67.6h0M55.9 67.5h0M58.6 67.3h0M58.9 67.2h0M59.7 67.5h0M98.6 67.1h0M19.8 68.7h0M23.2 68.3h0M63.5 68.4h0M64.7 68.0h0M68.3 68.8h0M79.5 68.7h0M28.7 69.1h0M63.0 69.3h0M86.1 69.9h0M21.2 70.4h0M24.4 70.7h0M25.8 70.1h0M26.1 70.0h0M26.0 70.3h0M60.7 70.0h0M66.0 70.4h0M69.2 70.9h0M63.2 71.8h0M69.5 71.3h0M70.1 71.8h0M76.2 71.6h0M84.2 71.8h0M58.3 72.2h0M60.0 73.0h0M61.7 72.9h0M63.7 72.6h0M77.1 72.2h0M81.4 72.1h0M90.6 72.8h0M59.9 73.8h0M73.8 73.7h0M82.0 73.8h0M90.2 73.3h0M105.0 73.7h0M63.4 74.1h0M71.8 74.2h0M27.9 75.8h0M65.0 75.6h0M65.2 75.7h0M65.1 75.2h0M66.1 75.2h0M68.5 75.3h0M70.4 75.8h0M70.1 75.8h0M99.7 75.4h0M44.4 76.6h0M62.5 76.5h0M64.0 76.0h0M63.8 76.7h0M64.2 76.3h0M73.8 76.4h0M85.9 76.5h0M90.1 76.5h0M25.2 77.3h0M26.3 77.3h0M31.3 77.2h0M60.7 77.5h0M55.1 78.3h0M73.3 78.2h0M74.1 78.2h0M80.5 78.1h0M17.6 79.9h0M60.2 79.0h0M63.0 79.8h0M84.4 79.1h0M28.1 80.4h0M28.7 80.3h0M66.0 80.6h0M70.3 80.4h0M72.5 80.2h0M112.8 80.1h0M18.7 81.3h0M24.8 81.1h0M44.2 81.6h0M52.8 81.7h0M56.7 81.5h0M73.9 81.2h0M80.3 81.0h0M66.1 82.9h0M69.0 82.8h0M69.4 82.5h0M81.3 82.2h0M87.1 82.6h0M107.9 82.6h0M26.5 83.5h0M27.8 83.6h0M61.4 83.3h0M64.2 83.0h0M77.5 83.5h0M78.2 83.4h0M81.7 83.4h0M19.9 84.7h0M28.1 84.4h0M61.0 84.0h0M24.4 85.2h0M31.6 85.9h0M47.6 85.1h0M63.2 85.7h0M66.5 85.1h0M69.9 85.9h0M84.7 85.4h0M25.7 86.6h0M29.7 86.2h0M58.1 86.7h0M59.5 86.1h0M59.9 86.3h0M69.3 86.8h0M72.0 86.9h0M77.4 86.9h0M65.1 87.2h0M65.7 87.8h0M67.4 87.6h0M69.7 87.7h0M87.2 87.6h0M27.4 89.0h0M30.1 88.6h0M50.3 88.8h0M60.5 88.5h0M65.5 88.3h0M73.2 88.7h0M52.9 89.9h0M60.0 89.6h0M64.4 89.7h0M69.0 90.0h0M79.0 89.4h0M23.2 90.1h0M64.1 90.4h0M30.1 91.4h0M52.7 91.5h0M62.9 91.3h0M63.1 91.3h0M67.4 91.6h0M70.7 91.7h0M77.1 91.2h0M82.3 91.9h0M28.4 92.5h0M64.3 92.5h0M67.9 92.5h0M108.6 92.6h0M59.9 93.5h0M66.7 93.7h0M76.5 93.7h0M76.8 93.7h0M52.4 94.2h0M62.5 94.7h0M67.4 94.4h0M72.1 94.7h0M79.4 94.8h0M87.4 94.6h0M92.4 94.7h0M106.3 94.1h0M32.7 95.5h0M75.1 95.7h0M75.9 95.3h0M33.0 96.1h0M68.0 96.2h0M70.7 96.8h0M80.0 96.9h0M32.5 97.0h0M64.8 97.5h0M66.8 97.2h0M80.8 97.7h0M109.4 97.6h0M28.7 98.3h0M51.7 98.5h0M59.4 98.9h0M64.6 98.3h0M66.0 98.5h0M78.8 98.1h0M78.4 98.9h0M51.6 99.5h0M71.9 99.3h0M73.9 99.3h0M27.4 100.6h0M66.9 100.4h0M68.2 100.3h0M73.4 100.4h0M88.8 100.5h0M71.1 101.1h0M22.6 102.6h0M34.0 102.8h0M77.8 102.9h0M62.5 103.6h0M68.9 103.9h0M76.4 103.1h0M28.7 104.4h0M52.4 104.8h0M54.3 104.5h0M63.2 105.5h0M74.9 105.1h0M57.6 106.8h0M59.8 106.3h0M71.6 106.1h0M34.7 107.2h0M76.7 107.8h0M81.9 107.9h0M83.9 107.8h0M44.4 108.5h0M50.4 108.6h0M87.4 108.8h0M28.1 109.1h0M42.1 109.2h0M69.4 109.7h0M80.6 109.9h0M71.6 110.5h0M72.2 111.9h0M75.9 111.9h0M80.5 111.4h0M33.0 112.4h0M36.2 112.9h0M82.6 112.2h0M29.7 113.9h0M36.6 114.0h0M52.4 113.2h0M69.0 113.4h0M33.0 114.3h0M80.9 114.0h0M27.3 115.1h0M34.8 115.5h0M29.3 116.4h0M78.4 116.6h0M33.8 117.6h0M62.7 117.9h0M62.3 118.0h0M114.8 117.0h0M29.1 118.0h0M33.5 118.0h0M37.7 118.5h0M33.4 119.1h0M57.0 119.1h0M77.2 119.2h0M31.6 120.9h0M112.1 120.0h0M64.3 121.2h0M79.4 121.7h0M72.2 122.9h0M78.3 122.1h0M32.6 123.6h0M73.5 123.6h0M81.0 124.6h0M37.8 125.7h0M40.7 128.5h0M56.3 128.9h0M45.4 129.8h0M43.5 130.9h0M69.6 130.8h0M75.2 130.8h0M58.0 131.6h0M46.0 132.0h0M43.7 133.0h0M48.1 133.0h0M75.1 134.8h0M90.8 134.7h0M49.1 135.3h0M60.7 135.1h0M47.9 136.7h0M70.0 136.9h0M99.0 136.7h0M31.6 137.1h0M54.0 137.6h0M59.7 137.5h0M74.2 137.2h0M68.8 138.3h0M40.2 139.1h0M64.5 139.2h0M52.9 141.3h0M49.5 143.0h0M63.8 142.7h0M55.8 146.7h0M64.7 146.4h0" fill="none" stroke="#c80000" stroke-width="1.15" stroke-linecap="round" opacity="0.9"/><path d="M39.2 0.1h0M93.2 4.8h0M24.4 7.1h0M29.2 12.8h0M23.9 13.4h0M22.3 14.7h0M89.6 14.1h0M23.9 15.2h0M63.6 15.6h0M80.0 15.9h0M14.4 16.5h0M21.3 16.6h0M79.3 16.8h0M69.3 18.0h0M34.3 19.4h0M106.6 19.9h0M59.0 20.5h0M84.7 20.8h0M85.0 21.5h0M26.0 23.5h0M25.7 24.2h0M66.6 24.6h0M104.5 24.9h0M95.2 25.3h0M21.7 30.4h0M84.6 31.7h0M95.9 31.7h0M22.2 32.0h0M61.0 32.8h0M62.8 32.2h0M68.9 32.9h0M67.7 33.9h0M80.7 34.0h0M60.3 34.8h0M19.8 35.5h0M68.8 35.2h0M68.6 35.3h0M71.1 35.7h0M71.5 36.7h0M88.6 36.9h0M62.6 37.6h0M72.3 37.4h0M73.0 37.1h0M61.3 38.4h0M69.0 38.6h0M69.9 39.7h0M71.3 39.8h0M73.2 39.2h0M58.9 41.8h0M58.1 41.9h0M68.9 42.1h0M73.1 42.1h0M79.0 42.3h0M79.7 42.0h0M88.9 42.3h0M78.3 43.8h0M58.5 44.4h0M65.0 44.8h0M76.9 44.4h0M82.8 44.9h0M58.3 45.5h0M65.0 45.9h0M70.1 45.7h0M61.8 46.7h0M26.1 47.4h0M46.9 47.4h0M63.8 47.9h0M73.9 47.3h0M66.1 48.9h0M66.4 48.7h0M83.8 48.3h0M89.8 48.3h0M35.2 49.6h0M73.6 50.1h0M64.0 51.8h0M79.9 51.7h0M63.0 52.7h0M70.1 52.2h0M71.0 52.3h0M72.4 52.1h0M54.1 53.8h0M62.3 53.4h0M64.1 53.4h0M66.8 53.6h0M83.0 53.2h0M64.9 54.2h0M71.5 54.4h0M76.4 54.1h0M77.8 57.0h0M66.4 57.1h0M67.8 57.7h0M68.2 57.7h0M82.8 57.8h0M56.5 58.8h0M59.7 58.6h0M79.4 58.1h0M75.9 59.1h0M81.6 59.1h0M57.3 60.4h0M65.1 60.1h0M71.7 61.2h0M59.4 62.5h0M64.4 63.4h0M71.9 63.7h0M78.7 63.7h0M53.0 64.2h0M58.4 64.5h0M85.9 64.9h0M27.4 65.1h0M63.3 65.0h0M75.0 65.5h0M29.8 66.4h0M74.6 66.4h0M61.2 68.2h0M74.2 68.4h0M77.8 68.9h0M81.1 68.3h0M72.9 69.8h0M73.3 69.1h0M77.0 70.0h0M63.7 70.5h0M56.9 71.5h0M19.4 72.3h0M28.7 72.3h0M59.0 73.3h0M69.4 73.1h0M69.4 74.6h0M71.5 74.0h0M73.8 74.9h0M81.3 75.9h0M69.0 77.9h0M53.5 78.4h0M64.1 78.3h0M76.4 78.3h0M17.8 79.1h0M20.9 79.4h0M53.6 79.2h0M70.0 79.9h0M26.6 80.3h0M63.2 80.2h0M71.7 80.2h0M100.7 80.8h0M63.8 81.3h0M59.1 84.0h0M64.8 83.7h0M70.9 83.1h0M67.0 84.6h0M72.2 84.0h0M72.9 85.3h0M84.4 85.3h0M25.9 86.1h0M83.1 86.5h0M91.0 87.6h0M93.4 87.5h0M19.6 88.6h0M64.8 88.6h0M71.4 88.9h0M50.2 89.2h0M68.5 89.8h0M101.4 89.3h0M53.7 91.3h0M55.2 91.9h0M73.6 92.7h0M88.3 93.1h0M89.8 94.0h0M77.5 94.9h0M26.2 95.2h0M75.9 95.7h0M95.4 95.6h0M73.2 96.0h0M74.8 97.0h0M103.3 97.3h0M26.6 98.6h0M58.5 101.3h0M70.8 101.6h0M66.2 102.4h0M28.4 103.0h0M79.2 103.3h0M89.7 103.0h0M33.6 104.7h0M34.3 104.6h0M69.7 104.4h0M21.2 105.6h0M36.7 106.4h0M26.9 108.9h0M39.8 110.1h0M95.9 112.4h0M28.5 113.5h0M30.9 113.2h0M81.2 113.2h0M53.7 115.6h0M65.8 116.3h0M90.3 119.2h0M71.6 120.3h0M37.5 121.9h0M28.3 122.9h0M39.6 122.3h0M38.1 129.1h0M47.8 129.7h0M47.3 131.7h0M46.1 132.5h0M50.6 133.0h0M52.0 132.0h0M81.7 132.3h0M51.3 133.8h0M54.1 134.9h0M36.4 136.0h0M41.8 141.5h0" fill="none" stroke="#f80c0c" stroke-width="1.5" stroke-linecap="round" opacity="1.0"/></g>
<g transform="translate(142 35.7)"><path d="M81 78 L85 85" fill="none" stroke="#e00" stroke-width="2" stroke-linecap="round"/></g>
</g>
<g clip-path="url(#cl2)">
<rect x="22.5" y="195" width="115" height="155" fill="#000"/>
<g transform="translate(22.5 195)" fill="#e00000" filter="url(#b7)"><path d="M24 0 C20 50 26 95 42 122 C58 146 85 154 116 154 L116 0Z" opacity=".15"/></g>
<g transform="translate(22.5 195)" filter="url(#b03)"><path d="M70.8 0.2h0M86.3 0.9h0M97.9 0.1h0M102.3 0.2h0M108.3 0.0h0M30.2 1.7h0M33.9 1.7h0M69.3 1.7h0M76.9 1.6h0M84.9 1.4h0M88.4 1.4h0M109.1 1.2h0M32.3 2.4h0M39.0 2.3h0M58.0 2.4h0M66.2 2.7h0M90.5 2.8h0M101.2 2.6h0M102.9 2.7h0M104.3 2.3h0M34.0 3.8h0M36.7 3.6h0M62.8 4.0h0M66.7 3.8h0M73.7 3.6h0M83.9 4.0h0M83.5 3.5h0M88.4 3.5h0M92.8 3.3h0M93.9 4.0h0M97.6 3.0h0M101.4 3.8h0M104.5 3.7h0M30.4 4.7h0M35.9 4.4h0M37.3 4.0h0M50.7 4.6h0M57.4 4.4h0M57.8 4.7h0M81.7 4.5h0M93.0 4.4h0M97.4 4.5h0M99.4 5.0h0M105.9 4.9h0M115.9 4.9h0M31.0 5.9h0M38.4 5.7h0M43.5 5.6h0M48.5 5.0h0M83.9 5.5h0M83.2 5.4h0M89.7 5.3h0M90.2 5.6h0M92.5 5.0h0M93.4 5.8h0M33.8 6.3h0M35.1 6.9h0M53.9 6.6h0M74.0 6.3h0M80.9 6.6h0M82.4 7.0h0M85.9 6.6h0M88.5 6.6h0M88.1 6.7h0M37.7 7.6h0M39.1 7.9h0M39.7 7.4h0M42.4 7.2h0M46.4 7.9h0M47.6 7.4h0M48.1 7.0h0M59.4 7.4h0M68.8 7.5h0M88.5 7.8h0M89.0 7.8h0M92.6 7.9h0M21.9 8.2h0M37.8 8.5h0M38.2 8.4h0M54.3 8.9h0M54.5 8.6h0M83.6 8.9h0M84.5 8.4h0M98.9 8.5h0M98.2 8.8h0M100.1 8.8h0M103.3 8.2h0M32.7 9.3h0M39.6 9.2h0M40.2 9.7h0M62.7 9.3h0M79.1 9.8h0M85.5 9.9h0M90.9 9.3h0M98.9 9.9h0M100.4 9.5h0M113.4 9.5h0M113.8 9.8h0M51.4 10.7h0M82.4 10.5h0M86.4 10.7h0M89.9 10.5h0M89.2 10.3h0M96.6 10.4h0M100.2 10.6h0M101.6 11.0h0M111.5 10.2h0M34.7 11.9h0M34.6 12.0h0M37.0 11.7h0M51.8 11.8h0M57.5 11.0h0M63.9 12.0h0M85.5 12.0h0M87.1 11.7h0M91.0 11.2h0M93.0 11.1h0M93.7 11.6h0M29.0 12.4h0M28.5 12.7h0M56.3 12.1h0M78.6 12.7h0M83.1 12.7h0M84.4 12.0h0M89.8 12.7h0M89.1 12.6h0M90.3 12.0h0M94.1 12.1h0M96.0 12.0h0M30.1 13.1h0M33.5 13.4h0M38.3 13.5h0M71.7 13.4h0M85.3 13.8h0M86.2 13.2h0M91.8 14.0h0M96.2 13.2h0M107.2 13.3h0M30.1 14.2h0M63.1 14.7h0M79.2 14.5h0M85.9 14.9h0M88.3 14.3h0M90.1 14.3h0M92.6 14.8h0M93.1 14.3h0M93.6 14.1h0M97.2 14.5h0M98.6 14.7h0M98.2 14.7h0M98.8 14.6h0M114.7 14.4h0M33.2 15.8h0M35.2 16.0h0M40.1 15.7h0M52.7 15.1h0M70.1 15.9h0M74.4 15.4h0M78.8 15.1h0M83.5 15.0h0M87.2 15.2h0M92.2 15.9h0M93.7 15.0h0M94.9 15.2h0M96.3 15.8h0M98.3 15.6h0M98.2 15.0h0M115.9 15.4h0M32.8 16.4h0M37.2 16.8h0M44.7 16.6h0M74.3 16.4h0M82.1 16.3h0M83.3 16.3h0M85.8 16.9h0M87.1 16.8h0M94.7 16.1h0M96.7 16.8h0M97.5 16.2h0M103.5 16.4h0M33.9 17.2h0M53.2 17.3h0M74.5 17.0h0M77.6 17.5h0M78.7 17.7h0M81.1 17.3h0M81.4 17.5h0M83.4 17.6h0M85.7 17.7h0M90.7 17.8h0M92.5 17.8h0M95.4 17.1h0M96.5 17.3h0M98.9 17.6h0M101.3 17.8h0M101.1 17.5h0M115.3 17.2h0M36.8 18.1h0M39.5 18.1h0M75.6 18.6h0M79.9 18.8h0M84.9 18.3h0M84.5 18.5h0M88.4 18.9h0M88.0 18.9h0M89.8 18.0h0M95.0 18.3h0M98.6 18.9h0M26.7 19.0h0M30.3 19.0h0M34.8 19.0h0M78.4 19.3h0M80.9 20.0h0M81.5 19.7h0M82.0 19.1h0M82.6 19.3h0M85.9 19.8h0M87.4 19.3h0M87.2 20.0h0M94.8 20.0h0M95.2 19.4h0M96.7 19.9h0M98.7 19.3h0M99.3 19.9h0M100.7 19.1h0M105.8 19.1h0M105.9 19.8h0M114.0 19.9h0M33.9 20.9h0M82.6 20.2h0M86.5 20.6h0M88.7 20.7h0M91.4 20.2h0M92.8 20.9h0M92.5 20.1h0M98.9 20.8h0M99.8 20.8h0M100.9 20.5h0M101.8 20.9h0M104.7 20.3h0M106.4 20.8h0M110.0 20.3h0M111.2 20.9h0M37.2 21.4h0M75.5 21.5h0M82.2 21.6h0M82.9 21.5h0M83.5 21.6h0M86.3 21.2h0M89.7 21.8h0M91.2 21.4h0M91.4 21.4h0M98.2 21.9h0M98.8 21.7h0M104.7 21.7h0M104.2 21.1h0M33.0 22.8h0M35.6 22.4h0M44.7 22.7h0M46.1 22.6h0M55.6 22.7h0M63.4 22.2h0M77.5 22.5h0M83.2 22.9h0M88.6 23.0h0M89.9 22.2h0M92.9 22.2h0M92.3 22.2h0M93.6 22.0h0M95.2 22.9h0M97.9 22.4h0M101.3 22.2h0M102.2 22.9h0M104.1 22.6h0M105.2 22.4h0M105.9 23.0h0M110.9 22.9h0M31.1 23.7h0M41.5 23.5h0M52.8 23.7h0M54.6 23.4h0M55.1 23.8h0M64.8 23.6h0M69.1 23.1h0M72.6 23.8h0M78.2 23.9h0M85.0 23.6h0M87.3 23.9h0M99.9 23.9h0M100.3 23.0h0M101.4 23.8h0M102.1 23.2h0M102.2 23.0h0M104.1 23.4h0M104.9 23.9h0M105.2 23.3h0M107.5 23.3h0M108.7 23.2h0M108.0 23.8h0M30.5 24.0h0M30.8 24.9h0M34.6 24.9h0M34.9 24.7h0M39.0 24.2h0M73.4 24.9h0M78.7 24.9h0M79.8 24.4h0M84.4 24.6h0M86.1 24.9h0M89.7 24.5h0M91.8 24.0h0M99.8 24.9h0M100.4 24.0h0M102.8 24.2h0M104.3 24.7h0M106.4 24.3h0M28.9 25.9h0M29.0 25.4h0M30.7 25.6h0M30.5 25.8h0M36.6 25.4h0M83.8 25.2h0M91.6 25.1h0M94.4 25.1h0M94.2 26.0h0M96.5 25.1h0M99.2 25.7h0M101.1 25.0h0M101.6 25.2h0M53.4 26.7h0M85.3 26.2h0M85.1 26.8h0M89.7 26.4h0M95.5 26.5h0M97.2 26.3h0M97.7 26.7h0M100.7 26.4h0M105.6 26.4h0M106.4 26.8h0M109.6 26.1h0M50.9 27.1h0M73.6 27.2h0M74.0 27.3h0M75.0 27.9h0M79.9 27.1h0M85.1 27.8h0M86.6 27.4h0M94.9 27.1h0M96.7 27.6h0M100.5 27.9h0M103.1 27.9h0M108.3 27.7h0M115.5 28.0h0M27.6 29.0h0M29.2 28.6h0M47.6 29.0h0M58.8 28.7h0M70.4 28.1h0M75.4 28.6h0M79.9 28.3h0M83.6 28.4h0M86.9 28.7h0M91.0 28.8h0M96.1 28.9h0M97.3 28.7h0M101.0 28.9h0M110.5 28.4h0M112.7 28.1h0M29.8 29.4h0M35.7 29.1h0M36.5 29.9h0M68.6 29.5h0M78.0 29.5h0M83.6 29.1h0M85.1 29.4h0M91.4 29.0h0M93.3 29.2h0M96.3 29.5h0M98.9 29.7h0M104.4 29.1h0M105.9 29.5h0M109.9 29.7h0M112.3 29.5h0M114.7 29.6h0M115.4 29.6h0M115.9 30.0h0M35.1 30.0h0M36.9 30.7h0M37.9 30.0h0M39.9 30.4h0M65.1 30.9h0M71.6 30.6h0M72.3 30.6h0M80.4 30.1h0M86.0 30.6h0M97.3 30.4h0M99.4 30.6h0M100.3 30.3h0M104.9 30.6h0M104.6 30.4h0M105.3 30.9h0M107.7 30.4h0M110.5 30.2h0M114.4 30.4h0M27.0 31.9h0M42.2 31.0h0M54.6 31.4h0M73.3 31.2h0M77.7 31.8h0M78.9 31.4h0M80.7 31.8h0M101.6 31.1h0M103.1 31.8h0M105.1 31.7h0M106.9 31.9h0M106.2 31.7h0M43.7 32.8h0M75.4 32.6h0M76.7 32.6h0M77.2 32.4h0M80.4 32.9h0M80.4 32.2h0M81.7 32.1h0M82.0 32.5h0M84.2 32.2h0M87.1 32.6h0M88.4 32.4h0M90.1 32.1h0M92.9 32.4h0M97.0 32.4h0M98.8 32.6h0M110.7 32.4h0M112.8 32.3h0M112.1 33.0h0M113.1 32.5h0M24.0 34.0h0M30.0 33.2h0M54.3 33.3h0M74.7 33.7h0M82.1 33.6h0M85.2 33.2h0M86.8 33.4h0M90.0 33.2h0M91.2 33.3h0M96.6 33.9h0M97.3 33.6h0M101.0 33.2h0M106.0 33.7h0M112.4 33.2h0M45.4 34.9h0M71.7 34.8h0M76.1 35.0h0M79.7 34.0h0M88.1 34.6h0M100.3 34.2h0M102.3 34.0h0M105.6 34.5h0M108.7 34.9h0M59.1 35.4h0M79.5 35.7h0M87.4 35.5h0M87.9 36.0h0M33.1 36.5h0M35.8 36.8h0M36.3 36.6h0M56.3 36.8h0M70.8 36.6h0M72.3 36.8h0M74.9 36.3h0M75.8 36.9h0M78.1 36.1h0M80.3 36.2h0M98.6 36.6h0M103.2 36.4h0M105.3 36.5h0M107.6 36.1h0M112.2 36.3h0M35.1 37.3h0M35.3 37.6h0M37.6 37.5h0M38.2 37.4h0M70.4 37.2h0M71.8 37.5h0M74.3 37.8h0M78.6 37.6h0M83.5 37.5h0M84.3 37.7h0M87.5 37.6h0M92.7 37.7h0M97.7 37.9h0M98.8 37.3h0M100.4 37.9h0M105.8 38.0h0M106.2 37.6h0M106.5 37.7h0M107.3 37.3h0M111.6 38.0h0M26.6 38.5h0M32.7 38.2h0M33.2 38.7h0M48.1 38.6h0M64.4 38.6h0M82.8 38.2h0M82.1 38.7h0M83.1 38.4h0M85.9 38.2h0M85.7 38.8h0M85.8 38.9h0M92.6 38.9h0M94.9 38.1h0M99.7 38.7h0M107.2 38.4h0M112.5 38.7h0M30.1 39.2h0M30.9 39.6h0M66.7 39.5h0M74.2 39.9h0M74.2 39.9h0M75.6 40.0h0M77.7 39.2h0M78.2 39.0h0M85.5 39.2h0M89.0 39.0h0M92.5 39.1h0M93.2 39.4h0M94.5 39.5h0M95.4 39.9h0M101.6 40.0h0M101.2 39.7h0M103.1 39.4h0M104.3 39.3h0M105.8 39.7h0M115.7 39.3h0M115.9 39.9h0M33.7 40.6h0M76.1 40.1h0M76.5 40.2h0M81.2 40.5h0M82.5 40.8h0M84.2 40.2h0M94.4 40.6h0M96.5 40.2h0M98.2 40.7h0M99.0 40.4h0M99.4 40.8h0M100.5 40.5h0M104.2 40.8h0M107.9 40.1h0M109.9 40.9h0M109.2 40.9h0M110.4 40.4h0M23.4 41.6h0M24.3 41.2h0M27.0 41.5h0M73.2 41.1h0M74.5 41.1h0M74.1 42.0h0M75.6 41.6h0M79.8 41.9h0M80.3 41.5h0M81.7 41.8h0M82.2 41.8h0M84.4 41.2h0M85.6 41.6h0M88.8 41.4h0M90.0 41.7h0M93.9 41.4h0M94.3 41.8h0M96.3 41.7h0M98.2 41.2h0M108.1 41.7h0M108.0 41.1h0M109.9 41.4h0M29.9 42.4h0M31.3 42.2h0M32.8 42.5h0M40.5 43.0h0M50.1 42.1h0M78.3 42.5h0M81.9 42.5h0M88.2 42.7h0M90.5 42.2h0M91.7 42.2h0M93.8 42.7h0M93.1 42.5h0M99.3 42.7h0M99.5 42.4h0M100.9 42.7h0M103.0 42.3h0M102.9 42.9h0M104.8 42.9h0M109.3 43.0h0M31.7 43.5h0M46.3 43.2h0M68.2 43.9h0M69.3 43.8h0M75.4 43.6h0M78.4 43.9h0M86.1 43.8h0M87.1 44.0h0M90.5 43.5h0M94.8 43.4h0M107.0 43.6h0M113.6 43.5h0M26.8 44.6h0M29.7 44.8h0M31.0 44.6h0M32.3 44.7h0M68.8 44.1h0M72.1 44.6h0M75.5 44.9h0M79.6 44.3h0M80.9 44.4h0M87.5 44.6h0M91.9 44.4h0M95.7 44.2h0M95.4 44.8h0M104.0 44.9h0M109.4 44.4h0M110.3 44.4h0M111.1 45.0h0M21.2 45.1h0M27.9 45.4h0M61.2 45.2h0M70.5 45.2h0M74.4 45.3h0M75.0 45.3h0M78.4 45.3h0M79.0 45.9h0M83.5 45.6h0M83.5 45.5h0M84.7 45.5h0M84.3 45.0h0M92.4 45.6h0M93.6 45.9h0M98.5 45.2h0M100.8 46.0h0M101.8 45.6h0M103.4 45.5h0M110.3 45.5h0M114.2 45.5h0M29.0 47.0h0M47.6 46.6h0M54.2 46.9h0M57.4 46.3h0M71.9 46.9h0M72.0 46.7h0M74.8 46.0h0M76.7 46.9h0M79.8 46.8h0M80.8 46.8h0M80.1 46.9h0M81.0 46.5h0M84.9 46.8h0M89.3 46.1h0M93.1 46.5h0M94.1 46.3h0M95.8 46.8h0M96.3 46.0h0M96.8 46.3h0M111.7 46.4h0M24.7 47.4h0M38.4 47.2h0M66.4 47.1h0M71.2 47.8h0M71.4 47.4h0M72.5 47.5h0M73.5 47.6h0M76.2 47.2h0M77.2 47.5h0M82.4 47.3h0M82.4 47.6h0M85.5 47.2h0M86.4 47.6h0M91.4 48.0h0M92.3 48.0h0M97.5 47.7h0M103.1 47.6h0M104.8 47.1h0M111.5 47.3h0M113.0 47.6h0M34.8 48.2h0M47.3 48.8h0M60.8 48.9h0M69.5 48.6h0M70.2 48.5h0M72.2 48.3h0M75.3 48.9h0M77.9 48.1h0M79.3 48.3h0M81.6 48.5h0M81.3 48.9h0M86.3 48.8h0M88.2 49.0h0M94.5 48.7h0M95.5 48.2h0M96.9 48.0h0M106.2 48.9h0M107.2 48.1h0M108.1 48.9h0M109.6 48.8h0M32.9 49.4h0M35.1 49.3h0M41.7 49.9h0M73.0 49.2h0M73.9 49.1h0M73.9 49.7h0M79.9 49.2h0M79.7 50.0h0M83.7 49.8h0M84.1 50.0h0M89.0 49.9h0M88.6 49.1h0M100.8 49.2h0M106.4 49.1h0M114.0 49.7h0M26.5 50.3h0M58.7 50.2h0M59.3 50.8h0M76.6 50.8h0M79.2 50.4h0M82.3 50.0h0M84.2 50.5h0M87.7 50.8h0M90.5 50.4h0M99.1 50.8h0M104.1 51.0h0M107.8 50.6h0M108.5 50.6h0M109.7 50.0h0M111.9 50.1h0M25.7 51.1h0M30.6 51.9h0M34.4 51.2h0M36.9 51.7h0M36.7 51.4h0M44.9 51.3h0M66.3 51.7h0M69.1 51.9h0M69.7 51.5h0M73.7 51.5h0M74.1 51.1h0M79.0 51.9h0M81.1 51.3h0M86.6 51.1h0M97.9 51.5h0M97.0 51.1h0M103.9 51.3h0M112.8 51.2h0M63.1 52.8h0M69.2 52.0h0M72.0 52.1h0M72.5 52.0h0M75.8 52.8h0M77.4 52.8h0M78.0 52.9h0M79.7 52.2h0M81.7 52.5h0M83.1 52.7h0M83.4 52.6h0M89.2 52.8h0M93.0 52.7h0M95.9 52.6h0M95.7 52.7h0M95.8 52.5h0M96.4 52.4h0M96.2 52.4h0M96.5 52.3h0M97.8 52.3h0M98.8 52.4h0M103.0 52.1h0M111.6 52.2h0M115.7 52.8h0M30.7 53.8h0M33.2 53.4h0M33.9 53.1h0M41.9 53.0h0M81.5 53.2h0M87.9 53.4h0M87.9 53.7h0M98.8 53.2h0M102.0 53.6h0M103.1 53.3h0M103.2 53.3h0M107.5 53.8h0M109.9 53.7h0M109.5 53.8h0M111.6 53.6h0M112.0 53.3h0M31.1 54.6h0M37.4 54.1h0M56.3 54.6h0M68.9 54.6h0M70.7 54.3h0M73.4 54.4h0M75.9 54.7h0M75.8 54.1h0M77.8 54.3h0M85.2 54.6h0M86.8 54.9h0M99.2 55.0h0M100.7 54.9h0M106.5 54.7h0M110.4 54.8h0M115.2 54.4h0M27.2 56.0h0M33.9 55.8h0M55.2 55.0h0M80.5 55.2h0M81.1 55.8h0M88.2 55.4h0M89.1 55.7h0M92.1 55.3h0M92.2 55.6h0M95.0 55.5h0M97.3 56.0h0M99.9 55.7h0M103.6 55.5h0M105.9 55.5h0M109.8 55.1h0M110.6 55.1h0M33.7 56.4h0M36.0 56.4h0M39.6 56.8h0M40.9 56.1h0M44.0 56.8h0M81.6 56.6h0M89.6 56.6h0M90.5 56.3h0M97.3 56.1h0M100.2 56.1h0M103.8 56.4h0M105.7 56.2h0M113.1 56.5h0M30.3 57.8h0M32.2 57.3h0M34.2 57.5h0M65.1 57.2h0M69.9 57.2h0M72.0 57.5h0M78.9 57.5h0M79.3 57.1h0M88.3 57.2h0M91.6 57.7h0M98.3 57.5h0M103.6 57.2h0M103.2 57.2h0M104.3 57.9h0M106.6 57.4h0M108.5 57.6h0M113.5 57.3h0M36.2 58.7h0M51.5 58.0h0M69.9 58.0h0M72.7 58.4h0M72.7 58.6h0M86.7 58.1h0M87.3 58.4h0M88.6 58.7h0M89.3 58.4h0M92.4 58.6h0M100.3 58.1h0M103.0 58.3h0M102.4 59.0h0M106.6 58.7h0M109.4 58.1h0M24.2 59.2h0M49.1 59.8h0M53.3 59.1h0M71.8 59.4h0M74.8 59.9h0M80.7 59.2h0M88.1 59.1h0M88.4 59.2h0M88.3 59.9h0M93.4 59.6h0M101.4 59.4h0M103.1 59.1h0M104.3 59.2h0M68.9 60.1h0M74.0 60.8h0M74.5 61.0h0M84.0 60.1h0M86.8 60.1h0M88.0 60.1h0M91.7 60.9h0M95.3 60.7h0M95.8 60.3h0M97.1 60.7h0M97.0 60.4h0M99.2 60.1h0M108.6 60.2h0M32.8 61.6h0M34.0 61.8h0M35.6 61.6h0M68.5 61.4h0M76.6 61.8h0M76.5 61.9h0M76.8 61.5h0M77.8 61.5h0M80.8 61.9h0M90.9 61.1h0M90.3 61.5h0M96.3 61.8h0M98.3 61.7h0M104.8 61.7h0M106.5 61.4h0M68.7 62.7h0M75.1 63.0h0M78.2 62.1h0M78.1 63.0h0M81.7 62.5h0M85.9 62.8h0M88.4 62.8h0M89.2 62.8h0M100.0 62.5h0M100.3 62.5h0M101.7 62.8h0M29.5 63.3h0M35.5 63.1h0M35.5 63.6h0M39.3 63.4h0M60.2 63.3h0M67.0 63.9h0M69.0 63.0h0M74.1 63.9h0M79.6 63.4h0M88.1 63.4h0M91.6 63.4h0M99.5 64.0h0M100.5 63.6h0M112.3 63.2h0M31.9 64.8h0M42.8 64.1h0M53.4 64.3h0M62.4 64.2h0M70.2 64.7h0M72.1 64.9h0M72.8 64.9h0M75.8 64.1h0M80.7 64.9h0M80.2 64.4h0M80.1 65.0h0M80.8 64.6h0M83.9 64.1h0M86.8 64.6h0M87.1 64.8h0M87.3 64.6h0M89.9 64.7h0M92.1 64.4h0M94.5 64.8h0M104.3 64.4h0M104.9 64.7h0M105.2 64.3h0M108.2 64.3h0M40.3 65.1h0M75.2 65.6h0M77.6 65.8h0M79.8 65.3h0M79.8 65.4h0M80.8 65.5h0M80.0 65.0h0M82.2 65.9h0M85.2 65.8h0M87.6 65.4h0M89.1 65.4h0M89.9 65.3h0M93.6 65.7h0M98.2 65.1h0M99.9 65.7h0M100.7 65.0h0M106.0 65.7h0M106.2 66.0h0M112.2 65.7h0M36.9 66.4h0M46.3 66.6h0M47.2 66.3h0M71.4 66.6h0M72.9 66.8h0M79.8 66.0h0M82.2 66.1h0M82.1 66.8h0M83.7 66.7h0M84.9 66.2h0M88.0 66.6h0M89.5 66.6h0M90.7 66.6h0M93.4 66.2h0M93.1 66.0h0M94.7 66.0h0M94.7 66.7h0M97.2 66.9h0M113.1 66.6h0M114.7 66.6h0M31.1 67.2h0M32.2 67.3h0M40.1 67.8h0M52.4 67.7h0M78.0 67.1h0M81.1 68.0h0M86.8 67.4h0M86.6 67.6h0M89.7 67.1h0M93.9 67.8h0M93.4 67.5h0M94.7 67.8h0M95.6 67.0h0M106.7 67.5h0M107.9 67.9h0M31.6 68.6h0M36.3 68.8h0M57.5 68.8h0M73.4 68.6h0M74.7 68.0h0M75.7 68.8h0M76.5 68.7h0M76.6 68.5h0M78.1 68.1h0M79.4 68.0h0M81.1 68.0h0M86.7 68.8h0M94.9 68.9h0M95.4 68.2h0M97.7 68.8h0M104.4 68.7h0M105.2 68.6h0M106.7 68.5h0M52.7 69.1h0M56.7 70.0h0M64.9 69.1h0M68.5 69.3h0M72.6 69.7h0M72.7 69.3h0M73.7 69.7h0M74.7 69.9h0M74.4 69.7h0M76.6 69.1h0M78.3 69.4h0M80.5 69.3h0M85.8 70.0h0M86.9 69.8h0M89.4 69.6h0M100.7 69.1h0M103.0 69.9h0M107.1 69.9h0M109.4 69.0h0M110.4 69.5h0M111.3 69.4h0M28.7 70.3h0M33.1 70.0h0M38.2 70.6h0M53.7 70.2h0M77.6 70.6h0M78.7 70.8h0M88.4 70.7h0M89.5 70.4h0M95.6 71.0h0M95.3 70.9h0M98.4 70.6h0M99.3 70.2h0M101.7 70.8h0M105.9 70.8h0M108.4 70.3h0M109.9 70.4h0M109.4 70.8h0M28.9 71.4h0M38.9 71.8h0M74.3 71.2h0M95.9 72.0h0M95.2 72.0h0M97.9 71.9h0M98.8 71.7h0M102.7 71.6h0M104.2 71.9h0M110.8 71.2h0M74.3 72.9h0M76.5 72.9h0M84.7 73.0h0M85.2 72.1h0M86.3 72.1h0M86.4 72.8h0M87.9 72.6h0M95.2 72.2h0M98.6 72.5h0M99.8 72.3h0M99.4 72.1h0M110.7 72.7h0M39.9 73.7h0M46.5 73.3h0M50.1 73.1h0M53.2 73.2h0M56.1 73.8h0M61.2 73.4h0M79.3 73.2h0M80.1 73.1h0M80.7 73.9h0M81.9 73.4h0M88.9 73.9h0M90.3 73.6h0M91.2 74.0h0M92.2 73.0h0M100.9 73.9h0M103.3 73.7h0M103.9 73.7h0M31.6 74.3h0M39.2 74.5h0M40.4 74.5h0M78.5 74.1h0M79.8 74.2h0M80.8 74.1h0M81.2 74.3h0M86.2 74.3h0M90.7 74.3h0M94.7 74.9h0M94.7 74.3h0M98.0 74.4h0M99.9 74.2h0M108.6 74.1h0M112.1 74.6h0M114.1 74.4h0M39.4 75.6h0M43.4 76.0h0M55.0 75.1h0M58.6 75.6h0M72.5 75.7h0M78.2 76.0h0M83.2 75.2h0M85.5 75.4h0M97.7 75.9h0M102.1 75.2h0M103.4 76.0h0M104.9 75.1h0M110.8 75.0h0M115.2 75.3h0M36.6 76.2h0M36.8 76.8h0M37.1 76.4h0M38.6 76.1h0M54.3 76.5h0M65.9 76.4h0M76.2 76.9h0M85.3 76.3h0M85.3 77.0h0M87.4 76.1h0M87.1 76.9h0M93.0 76.9h0M102.0 76.4h0M101.4 76.0h0M104.1 76.9h0M104.7 76.2h0M105.5 76.3h0M105.7 76.5h0M29.2 77.5h0M36.6 77.3h0M37.9 77.2h0M43.1 77.0h0M69.0 77.8h0M76.9 77.9h0M78.5 77.3h0M84.0 77.6h0M87.3 77.9h0M94.7 77.8h0M96.0 77.2h0M95.4 77.2h0M97.1 77.1h0M100.0 77.2h0M100.7 77.7h0M101.3 77.3h0M102.9 77.2h0M105.2 77.8h0M106.9 77.4h0M109.0 77.6h0M63.9 78.1h0M70.5 78.5h0M81.4 78.3h0M97.7 78.6h0M98.7 78.8h0M99.8 78.6h0M101.6 78.6h0M103.8 78.2h0M114.2 78.9h0M114.7 78.9h0M38.8 79.3h0M42.1 79.8h0M94.0 79.1h0M94.3 79.6h0M94.7 79.6h0M96.9 79.1h0M96.7 79.3h0M104.4 80.0h0M107.7 80.0h0M112.9 79.3h0M62.5 80.6h0M75.2 81.0h0M82.1 80.8h0M83.7 80.5h0M88.4 80.1h0M89.8 80.9h0M91.9 80.7h0M92.8 80.6h0M93.4 80.9h0M95.0 80.3h0M99.7 80.3h0M101.4 80.8h0M103.7 80.9h0M103.7 80.0h0M106.0 80.9h0M108.8 80.6h0M115.2 80.5h0M25.6 81.0h0M33.5 81.1h0M40.3 81.6h0M43.4 81.5h0M50.4 81.9h0M55.4 81.2h0M57.9 81.6h0M76.8 81.4h0M79.9 81.9h0M80.8 81.6h0M80.7 81.0h0M82.0 81.9h0M84.6 81.5h0M90.3 81.9h0M90.4 82.0h0M91.2 81.5h0M94.9 81.7h0M96.9 81.8h0M97.7 81.5h0M98.4 81.7h0M33.7 82.5h0M37.3 82.6h0M39.3 82.7h0M43.9 82.2h0M60.0 82.0h0M83.9 82.1h0M103.5 82.1h0M33.7 83.8h0M36.2 83.4h0M36.8 83.2h0M39.3 83.0h0M48.1 83.5h0M58.7 83.8h0M75.4 83.5h0M78.3 83.6h0M79.2 83.4h0M82.1 83.4h0M92.8 83.3h0M92.3 83.6h0M94.3 83.6h0M97.7 83.4h0M97.8 83.6h0M108.3 83.6h0M113.1 83.6h0M70.5 84.5h0M74.9 84.8h0M96.1 84.3h0M102.6 84.9h0M111.9 84.4h0M112.7 84.6h0M34.0 85.2h0M35.0 85.3h0M53.0 86.0h0M79.1 85.9h0M82.3 85.4h0M83.8 85.6h0M88.7 85.8h0M88.7 85.8h0M89.9 85.4h0M91.8 85.4h0M94.3 85.9h0M97.2 85.5h0M98.8 85.1h0M101.5 85.7h0M103.7 85.2h0M104.4 85.3h0M107.5 85.4h0M35.4 86.7h0M36.6 86.4h0M37.2 86.9h0M39.1 86.4h0M43.8 86.2h0M52.7 86.1h0M76.7 86.7h0M85.7 86.2h0M87.3 86.4h0M90.3 86.7h0M100.2 86.5h0M35.6 88.0h0M37.5 87.5h0M85.8 87.2h0M85.1 87.0h0M86.1 87.2h0M90.3 87.8h0M94.4 88.0h0M97.6 88.0h0M48.9 88.5h0M83.0 88.9h0M87.7 88.9h0M88.7 88.2h0M92.9 88.2h0M96.2 88.5h0M98.5 88.3h0M106.6 88.3h0M107.4 89.0h0M115.6 88.5h0M41.7 89.4h0M47.6 89.5h0M49.0 89.8h0M48.3 89.2h0M60.6 89.7h0M68.9 89.5h0M88.6 89.8h0M98.7 89.6h0M99.8 89.2h0M99.3 89.8h0M113.3 89.5h0M36.5 90.4h0M46.2 90.0h0M59.7 90.4h0M60.7 90.6h0M64.5 90.4h0M81.0 90.4h0M89.8 90.3h0M89.1 90.9h0M90.6 90.6h0M91.2 90.3h0M93.2 90.6h0M93.3 90.2h0M96.5 90.4h0M112.5 90.8h0M35.9 91.9h0M49.6 91.9h0M67.9 91.3h0M78.0 91.6h0M91.5 91.9h0M92.6 91.7h0M99.8 91.5h0M112.1 91.3h0M33.8 92.5h0M36.3 92.1h0M51.1 93.0h0M67.1 92.3h0M69.3 92.4h0M87.8 92.6h0M88.4 92.8h0M35.8 93.3h0M37.0 93.1h0M39.3 93.6h0M50.2 93.9h0M55.3 93.9h0M37.9 95.0h0M84.5 94.6h0M88.4 94.5h0M93.7 94.7h0M95.8 94.9h0M96.8 94.9h0M96.6 94.8h0M112.1 94.5h0M72.5 95.2h0M90.1 95.9h0M91.9 95.2h0M101.6 95.4h0M36.0 96.3h0M42.5 96.9h0M44.5 96.9h0M46.3 96.0h0M77.0 96.1h0M80.1 96.7h0M93.7 96.5h0M95.3 96.8h0M114.7 96.5h0M70.1 98.0h0M85.1 97.5h0M85.0 97.5h0M114.3 97.1h0M41.6 98.3h0M70.5 98.5h0M35.8 99.3h0M39.7 99.1h0M39.7 99.1h0M58.2 99.5h0M79.1 99.4h0M105.4 99.5h0M42.0 100.3h0M43.2 100.2h0M43.6 100.1h0M59.3 100.7h0M78.2 100.0h0M93.9 100.4h0M52.5 101.2h0M54.2 101.5h0M72.2 102.0h0M75.7 101.6h0M93.5 102.0h0M99.8 101.8h0M109.0 101.8h0M115.1 101.7h0M41.2 102.6h0M42.2 102.8h0M48.8 102.4h0M87.7 102.5h0M102.2 102.8h0M114.2 102.7h0M34.8 103.7h0M35.9 103.3h0M58.8 103.7h0M71.1 103.5h0M79.8 103.7h0M103.4 103.7h0M110.3 103.4h0M43.4 104.8h0M57.0 104.4h0M88.8 104.0h0M99.1 104.2h0M40.6 105.9h0M47.5 105.6h0M86.9 105.9h0M97.7 105.3h0M113.0 105.3h0M44.6 106.6h0M56.0 106.7h0M73.3 106.8h0M74.7 106.9h0M80.6 106.4h0M93.8 106.7h0M104.5 107.0h0M37.9 107.2h0M39.3 107.1h0M39.5 107.6h0M42.5 108.0h0M78.5 107.2h0M84.8 107.7h0M105.2 107.0h0M37.3 108.3h0M44.0 108.2h0M51.1 108.0h0M58.8 108.1h0M64.7 108.9h0M98.5 108.0h0M46.6 109.9h0M50.1 109.4h0M55.2 109.0h0M75.4 109.1h0M98.9 109.9h0M104.8 109.5h0M113.1 109.9h0M43.8 110.6h0M45.0 110.5h0M67.8 110.3h0M39.5 111.9h0M46.7 111.4h0M49.4 111.6h0M54.8 111.4h0M78.7 111.8h0M108.2 111.9h0M110.9 111.1h0M113.4 111.3h0M43.4 112.8h0M47.0 112.4h0M61.4 112.9h0M79.9 112.1h0M81.7 112.3h0M82.5 112.8h0M98.2 113.0h0M98.5 112.2h0M110.2 112.3h0M43.8 113.6h0M46.5 113.3h0M71.5 113.3h0M110.3 113.1h0M45.4 114.5h0M51.2 115.0h0M56.6 114.4h0M58.9 114.7h0M64.4 114.0h0M102.9 114.9h0M104.1 114.9h0M109.5 114.1h0M43.0 115.5h0M45.4 115.4h0M50.1 115.3h0M63.5 115.2h0M64.7 115.2h0M86.5 115.6h0M46.6 116.0h0M80.1 116.9h0M104.3 116.5h0M106.3 116.3h0M51.1 117.8h0M73.6 117.0h0M94.3 117.9h0M98.7 117.8h0M99.5 117.1h0M103.5 117.6h0M49.9 118.5h0M49.5 118.9h0M54.9 118.4h0M88.1 119.0h0M102.1 118.7h0M49.4 119.1h0M52.5 119.7h0M52.8 119.3h0M56.2 119.3h0M47.7 120.0h0M47.9 120.5h0M50.5 120.5h0M51.4 120.1h0M71.0 120.9h0M83.1 120.9h0M94.8 120.3h0M48.5 121.2h0M63.0 121.1h0M86.8 121.4h0M94.4 121.8h0M99.0 121.2h0M108.9 121.8h0M55.6 122.1h0M56.3 122.3h0M59.2 123.0h0M60.6 122.1h0M69.1 122.3h0M84.7 122.3h0M93.6 122.2h0M93.6 122.3h0M50.6 123.9h0M77.0 123.8h0M55.5 125.0h0M62.3 124.7h0M72.7 124.8h0M75.4 124.3h0M85.5 124.9h0M98.3 124.2h0M105.3 124.1h0M51.8 125.2h0M52.1 125.2h0M54.3 125.8h0M59.1 125.9h0M85.9 125.2h0M48.8 126.1h0M53.1 126.1h0M63.3 126.3h0M54.0 127.1h0M60.5 127.1h0M106.4 127.4h0M107.2 127.5h0M58.4 128.5h0M60.8 128.1h0M66.3 128.1h0M98.3 128.7h0M110.7 128.2h0M61.0 129.2h0M72.0 130.0h0M77.8 129.1h0M78.1 129.6h0M87.1 129.3h0M93.1 130.0h0M96.3 129.5h0M106.9 129.6h0M110.9 129.7h0M111.6 129.9h0M60.2 130.9h0M65.8 130.1h0M66.6 130.8h0M94.9 130.4h0M112.9 130.3h0M55.9 131.6h0M59.0 131.4h0M59.9 131.9h0M67.7 131.3h0M74.8 131.4h0M76.7 131.9h0M80.1 131.4h0M95.0 131.3h0M52.8 132.9h0M53.7 132.6h0M61.8 132.4h0M63.0 133.0h0M63.3 132.3h0M67.2 132.6h0M76.2 132.1h0M81.6 132.9h0M89.5 132.6h0M94.7 132.2h0M109.9 132.6h0M80.3 133.0h0M95.7 133.2h0M97.5 133.9h0M101.0 133.7h0M103.4 133.7h0M105.2 133.3h0M86.2 134.7h0M89.2 134.9h0M91.6 134.1h0M108.6 134.5h0M110.2 134.6h0M113.9 134.5h0M68.7 135.4h0M72.7 135.2h0M85.8 135.9h0M92.7 135.1h0M104.0 135.7h0M113.8 135.8h0M115.8 135.4h0M58.8 136.9h0M60.8 136.5h0M67.2 136.8h0M72.6 136.4h0M74.7 136.9h0M79.4 136.5h0M87.8 136.6h0M91.7 136.2h0M93.4 137.0h0M94.9 136.8h0M95.5 136.6h0M100.9 136.6h0M106.1 136.9h0M108.5 136.9h0M111.7 136.8h0M57.4 137.6h0M76.8 137.0h0M80.0 137.8h0M84.3 137.1h0M86.9 137.7h0M90.6 137.2h0M107.7 138.0h0M107.3 137.1h0M68.7 138.7h0M77.3 138.8h0M81.5 138.2h0M84.5 139.0h0M91.6 138.5h0M102.0 138.6h0M107.7 138.6h0M108.8 138.0h0M63.3 139.5h0M74.2 139.8h0M87.1 139.2h0M90.6 139.9h0M99.5 139.4h0M101.1 139.1h0M104.9 139.7h0M109.0 139.2h0M67.2 140.6h0M69.9 140.9h0M78.6 140.5h0M79.6 140.1h0M95.8 140.9h0M99.5 140.4h0M100.2 140.0h0M108.0 140.9h0M107.6 140.5h0M111.5 140.5h0M115.5 140.0h0M86.6 141.9h0M87.1 141.9h0M89.6 141.8h0M96.7 141.7h0M97.3 141.3h0M99.8 141.7h0M105.3 141.7h0M108.5 141.1h0M111.1 141.8h0M72.3 142.1h0M90.2 142.4h0M100.7 142.2h0M107.1 143.0h0M80.8 144.7h0M81.5 144.4h0M90.3 144.6h0M107.1 144.9h0M83.0 145.7h0M84.5 145.5h0M85.8 145.8h0M93.2 145.9h0M87.3 146.7h0M89.1 146.1h0M94.9 146.2h0M96.6 146.6h0M97.7 147.0h0M106.2 146.9h0M114.5 147.9h0M93.5 148.2h0M95.6 148.6h0M108.1 149.3h0M112.8 149.6h0M83.8 150.9h0M89.7 151.6h0M109.4 151.4h0" fill="none" stroke="#900000" stroke-width="0.9" stroke-linecap="round" opacity="0.8"/><path d="M38.2 0.1h0M51.2 0.5h0M57.9 0.7h0M81.6 0.1h0M84.3 0.1h0M90.0 0.6h0M36.2 1.1h0M98.2 1.8h0M102.5 1.2h0M56.8 3.0h0M87.5 2.1h0M89.3 2.6h0M105.6 2.8h0M30.2 3.2h0M32.9 3.0h0M40.7 3.0h0M80.3 3.0h0M81.3 3.2h0M90.1 3.6h0M93.1 3.5h0M36.9 4.5h0M39.7 4.8h0M84.3 4.7h0M38.0 5.9h0M46.1 5.9h0M76.3 5.3h0M92.6 5.6h0M97.9 5.8h0M89.4 6.4h0M98.4 6.4h0M98.3 7.0h0M108.7 6.1h0M113.2 6.4h0M35.2 7.1h0M40.1 7.1h0M67.2 7.2h0M92.1 7.8h0M94.1 7.7h0M94.2 7.1h0M109.9 7.6h0M114.7 7.6h0M40.8 8.5h0M87.8 8.6h0M99.4 8.2h0M29.9 9.2h0M43.3 9.4h0M79.4 9.0h0M82.9 9.9h0M84.0 9.6h0M85.0 9.2h0M89.4 9.0h0M36.1 10.4h0M73.4 10.3h0M101.0 10.8h0M106.0 10.5h0M107.4 10.6h0M36.5 11.2h0M74.2 11.3h0M84.0 12.0h0M84.0 11.2h0M85.2 11.9h0M85.5 11.4h0M87.7 11.8h0M90.4 11.4h0M91.2 11.1h0M94.8 11.2h0M97.4 11.6h0M99.7 11.8h0M100.1 11.1h0M28.9 12.9h0M30.8 12.7h0M31.0 12.8h0M37.4 12.2h0M69.9 12.6h0M71.5 12.4h0M83.7 12.2h0M84.8 12.3h0M86.8 12.9h0M97.8 12.5h0M38.1 13.3h0M72.6 13.5h0M81.0 13.1h0M83.1 13.5h0M89.2 13.4h0M94.8 13.1h0M97.1 13.5h0M98.1 13.4h0M102.9 13.9h0M111.3 13.1h0M50.9 14.7h0M75.1 14.5h0M96.4 14.5h0M105.7 14.2h0M105.2 15.0h0M32.7 15.2h0M32.8 15.6h0M52.9 15.8h0M75.1 15.8h0M83.1 15.6h0M85.9 15.2h0M92.9 15.1h0M100.1 15.9h0M101.8 15.8h0M104.4 15.2h0M32.0 16.2h0M53.2 16.7h0M95.2 16.9h0M103.5 16.5h0M74.3 17.4h0M89.2 17.1h0M99.7 17.7h0M99.2 17.8h0M41.4 18.5h0M92.8 18.2h0M94.2 18.5h0M97.6 19.0h0M99.7 18.2h0M99.5 19.0h0M100.4 18.1h0M105.1 18.2h0M25.3 19.2h0M32.4 19.4h0M35.8 19.2h0M66.3 19.2h0M73.4 19.9h0M81.1 19.1h0M86.6 19.4h0M87.6 19.8h0M102.1 19.1h0M103.2 19.7h0M113.8 19.4h0M32.9 20.2h0M52.9 20.6h0M80.9 20.9h0M81.9 20.8h0M89.8 20.6h0M95.4 20.8h0M104.2 20.8h0M106.4 21.0h0M55.2 21.1h0M67.9 21.1h0M73.5 21.9h0M76.5 21.3h0M82.0 21.9h0M84.0 21.2h0M89.2 21.1h0M102.4 21.8h0M29.8 22.1h0M32.9 22.1h0M36.4 22.4h0M72.1 22.3h0M88.0 22.9h0M98.8 22.5h0M105.9 22.2h0M106.4 22.4h0M33.5 23.8h0M35.3 23.5h0M54.4 23.5h0M79.6 23.1h0M80.4 23.3h0M95.8 23.3h0M95.6 23.7h0M97.1 23.5h0M103.2 23.1h0M105.7 23.1h0M107.7 23.4h0M35.4 24.2h0M44.7 24.6h0M76.0 24.1h0M78.0 24.3h0M78.6 24.7h0M81.4 24.6h0M89.3 24.8h0M95.8 24.8h0M97.1 24.3h0M102.6 24.3h0M103.8 24.6h0M105.9 24.6h0M38.9 25.5h0M54.6 25.8h0M69.8 26.0h0M70.1 25.4h0M83.1 25.9h0M84.4 25.6h0M100.8 25.9h0M101.0 25.1h0M108.7 25.2h0M32.1 26.2h0M82.7 26.0h0M84.5 26.1h0M92.5 26.3h0M104.9 26.0h0M106.0 26.5h0M35.3 27.8h0M70.7 27.2h0M78.8 28.0h0M81.5 27.8h0M86.2 27.2h0M88.0 27.8h0M91.7 27.8h0M102.6 27.0h0M106.3 27.3h0M55.0 28.9h0M77.5 28.7h0M80.8 28.5h0M82.7 28.7h0M94.4 28.2h0M96.4 28.9h0M104.8 28.0h0M23.9 29.2h0M29.8 29.8h0M78.1 29.8h0M80.4 29.8h0M82.4 29.0h0M86.2 29.5h0M96.9 29.3h0M97.9 29.0h0M105.8 29.5h0M108.7 29.9h0M112.0 29.5h0M37.8 30.2h0M72.0 30.8h0M75.8 30.9h0M81.9 30.1h0M87.5 30.8h0M87.2 30.6h0M88.1 31.0h0M90.7 30.7h0M98.8 30.4h0M101.1 30.6h0M77.6 31.1h0M85.9 31.2h0M87.1 31.3h0M93.9 31.4h0M99.6 31.2h0M105.0 31.8h0M106.9 31.4h0M28.2 32.7h0M31.9 33.0h0M68.6 32.8h0M69.3 33.0h0M82.2 32.6h0M86.5 32.9h0M91.0 32.1h0M92.1 33.0h0M97.0 32.1h0M99.8 32.9h0M99.4 32.9h0M100.7 32.7h0M27.5 33.4h0M33.2 33.2h0M86.3 33.9h0M88.3 33.2h0M93.4 33.7h0M93.5 33.5h0M94.4 34.6h0M27.3 35.5h0M35.0 35.3h0M41.7 35.4h0M51.3 35.2h0M63.7 35.8h0M74.1 35.1h0M77.2 35.4h0M81.3 35.8h0M82.6 35.7h0M84.6 35.6h0M85.6 35.4h0M93.4 35.1h0M24.1 36.4h0M30.6 36.7h0M34.9 36.2h0M35.0 36.2h0M39.3 36.2h0M44.8 36.6h0M74.0 36.3h0M76.1 36.2h0M86.8 36.6h0M89.7 36.3h0M90.4 36.5h0M91.7 36.4h0M95.4 36.9h0M98.4 36.7h0M101.2 36.9h0M101.7 36.9h0M25.7 37.4h0M28.9 37.8h0M58.0 37.2h0M77.5 37.1h0M81.0 37.1h0M99.1 38.0h0M99.7 37.0h0M106.7 37.5h0M28.9 38.7h0M28.1 38.5h0M72.2 38.7h0M79.9 38.2h0M82.1 38.4h0M84.1 38.4h0M87.4 38.4h0M97.9 38.4h0M100.7 38.7h0M101.6 38.7h0M103.0 38.2h0M110.2 38.9h0M111.5 38.2h0M31.9 39.5h0M32.7 39.8h0M58.7 39.1h0M72.7 39.5h0M90.6 39.4h0M94.3 39.9h0M95.2 39.1h0M97.7 39.6h0M100.3 39.9h0M110.3 39.5h0M115.3 39.0h0M36.0 40.6h0M41.7 40.6h0M86.8 40.6h0M95.7 40.3h0M97.7 40.8h0M107.7 40.5h0M108.3 40.9h0M115.9 40.5h0M67.0 41.9h0M82.4 41.5h0M83.1 41.9h0M85.5 41.9h0M93.5 41.9h0M93.3 41.4h0M103.6 41.1h0M105.6 41.7h0M105.8 41.9h0M74.8 42.4h0M78.7 42.2h0M86.5 42.1h0M89.4 42.3h0M91.3 42.8h0M99.3 42.0h0M101.1 42.2h0M107.4 42.2h0M108.4 42.3h0M114.0 42.3h0M115.7 42.9h0M34.9 43.9h0M35.1 43.4h0M73.7 43.2h0M74.4 43.3h0M74.9 43.3h0M77.6 43.2h0M82.8 43.6h0M83.1 43.3h0M86.8 43.0h0M95.7 43.5h0M101.5 43.6h0M104.1 43.9h0M106.5 43.8h0M33.0 44.1h0M71.5 44.9h0M78.2 44.1h0M82.9 44.0h0M82.8 44.8h0M83.7 45.0h0M95.9 44.7h0M102.9 44.8h0M104.0 44.0h0M106.4 44.9h0M114.7 44.2h0M27.7 45.4h0M77.0 45.5h0M79.3 45.5h0M84.4 45.0h0M89.3 45.7h0M93.0 45.1h0M98.6 45.9h0M99.7 45.5h0M106.4 45.4h0M31.5 46.6h0M70.0 46.2h0M80.2 47.0h0M95.6 46.4h0M98.8 46.5h0M100.9 46.3h0M114.7 46.8h0M33.5 47.8h0M37.2 47.8h0M65.2 47.4h0M66.3 47.5h0M69.7 47.0h0M70.9 47.9h0M76.9 47.3h0M80.8 47.9h0M81.3 47.3h0M84.0 47.5h0M93.1 47.1h0M94.4 47.2h0M105.4 47.4h0M33.1 48.8h0M33.1 48.9h0M76.0 48.2h0M81.2 48.3h0M89.4 48.0h0M91.7 48.7h0M97.7 48.5h0M99.0 48.1h0M112.8 48.3h0M112.3 48.2h0M115.1 48.9h0M50.4 49.8h0M74.9 49.2h0M75.9 49.9h0M75.7 49.3h0M75.4 49.9h0M78.3 49.3h0M79.9 49.3h0M85.1 49.4h0M86.6 49.2h0M86.1 49.8h0M94.0 49.6h0M102.2 49.9h0M105.2 49.2h0M105.7 49.7h0M32.7 50.2h0M74.1 50.0h0M85.1 50.0h0M87.7 50.5h0M87.1 50.3h0M90.1 50.7h0M95.9 50.5h0M27.0 51.7h0M34.5 51.5h0M37.6 51.7h0M49.1 51.1h0M70.9 51.8h0M81.2 51.8h0M86.2 51.5h0M90.9 51.2h0M98.8 51.6h0M99.5 52.0h0M100.3 51.1h0M103.2 51.7h0M104.0 51.2h0M45.1 52.7h0M73.2 52.8h0M75.3 52.2h0M80.5 52.8h0M82.6 52.2h0M85.7 52.4h0M92.0 52.8h0M94.5 52.5h0M99.3 52.8h0M104.8 52.6h0M105.8 52.7h0M69.4 53.6h0M81.2 53.3h0M82.6 53.0h0M90.4 53.4h0M105.0 53.8h0M109.7 53.7h0M71.6 54.5h0M81.3 54.2h0M83.2 54.3h0M93.2 54.4h0M97.6 54.2h0M104.1 55.0h0M104.7 54.8h0M78.2 55.8h0M92.8 55.5h0M94.7 55.8h0M98.9 56.0h0M107.5 55.2h0M108.9 55.6h0M37.9 56.2h0M73.3 56.5h0M81.4 56.6h0M82.9 56.7h0M86.5 56.5h0M89.7 56.4h0M90.0 56.8h0M94.6 56.6h0M98.5 56.9h0M100.3 56.3h0M102.0 56.7h0M109.5 56.3h0M59.8 57.4h0M76.2 57.0h0M76.4 57.3h0M88.7 57.5h0M89.8 57.7h0M109.2 57.3h0M111.2 57.3h0M29.7 58.2h0M45.0 58.5h0M70.4 58.4h0M74.6 58.4h0M74.7 59.0h0M84.5 58.4h0M85.2 58.7h0M90.4 58.3h0M94.9 58.9h0M96.3 58.7h0M96.5 58.6h0M96.8 58.0h0M98.1 58.7h0M101.5 58.5h0M113.3 58.2h0M78.2 59.0h0M27.6 60.6h0M34.7 60.8h0M57.4 60.1h0M77.6 60.5h0M82.5 60.6h0M89.8 60.9h0M101.3 60.6h0M32.6 61.2h0M70.6 61.1h0M75.4 62.0h0M88.0 61.0h0M92.4 62.0h0M96.4 62.0h0M97.8 61.9h0M98.6 61.1h0M108.3 61.2h0M108.2 61.0h0M113.7 61.1h0M34.4 62.3h0M40.3 62.3h0M88.0 63.0h0M88.3 62.4h0M90.4 62.2h0M100.8 62.7h0M101.5 62.3h0M102.5 62.9h0M103.8 62.2h0M36.0 63.9h0M65.6 63.2h0M73.7 63.6h0M75.7 63.7h0M82.2 64.0h0M85.0 63.5h0M88.2 63.6h0M90.4 63.1h0M95.3 63.8h0M96.4 63.4h0M100.7 63.1h0M104.0 63.7h0M28.4 64.4h0M39.5 64.0h0M40.8 64.8h0M73.2 64.6h0M74.2 64.0h0M78.4 64.6h0M82.0 64.4h0M83.5 64.9h0M85.9 64.1h0M86.2 64.2h0M97.9 64.2h0M102.9 64.1h0M106.0 64.3h0M110.4 64.3h0M34.1 65.8h0M38.7 65.4h0M79.3 65.8h0M94.9 65.5h0M97.1 65.4h0M97.0 66.6h0M97.6 66.6h0M98.6 66.9h0M100.6 66.2h0M114.8 66.7h0M36.5 67.4h0M80.5 67.5h0M85.1 67.9h0M94.2 67.8h0M97.8 68.0h0M99.5 67.8h0M112.8 67.6h0M31.8 68.3h0M34.0 68.9h0M75.7 68.1h0M81.3 68.6h0M81.9 68.3h0M87.3 68.6h0M92.5 68.9h0M98.5 68.3h0M104.7 68.5h0M50.5 69.7h0M54.4 69.7h0M76.4 69.1h0M79.2 69.7h0M82.7 69.9h0M85.0 69.5h0M86.2 69.5h0M87.3 69.6h0M90.4 69.8h0M92.5 69.7h0M94.7 69.3h0M95.9 69.8h0M98.9 69.0h0M101.0 69.6h0M103.7 69.1h0M108.2 70.0h0M111.9 69.6h0M38.2 70.6h0M47.9 70.8h0M77.8 70.8h0M85.0 70.3h0M86.3 70.9h0M87.7 70.1h0M87.4 70.1h0M94.9 70.1h0M100.1 70.2h0M108.4 70.4h0M37.6 71.7h0M77.5 71.3h0M83.4 71.2h0M96.6 71.2h0M97.2 71.5h0M98.5 71.1h0M109.6 71.3h0M112.1 71.0h0M112.9 71.5h0M31.7 72.0h0M49.8 72.7h0M76.5 72.1h0M88.1 72.2h0M93.5 72.6h0M110.7 72.0h0M34.3 73.1h0M77.3 73.0h0M81.0 73.1h0M83.5 73.9h0M91.1 73.8h0M96.1 73.3h0M109.9 73.1h0M32.0 74.3h0M32.8 74.7h0M63.4 74.7h0M95.6 74.1h0M99.3 74.8h0M99.7 74.5h0M75.7 75.3h0M86.7 76.0h0M88.9 75.2h0M101.8 75.5h0M30.1 76.3h0M31.4 76.9h0M36.3 76.6h0M63.1 77.0h0M85.9 76.2h0M86.7 76.2h0M86.6 76.4h0M88.2 77.0h0M100.2 76.3h0M101.4 76.1h0M31.8 77.2h0M48.7 77.1h0M77.4 77.1h0M78.9 77.3h0M79.8 77.5h0M90.8 77.8h0M93.7 77.5h0M96.4 77.3h0M97.2 78.0h0M98.8 77.3h0M107.6 77.3h0M73.3 78.2h0M80.0 78.3h0M92.2 78.3h0M100.3 78.3h0M108.5 78.5h0M112.5 78.2h0M113.8 78.5h0M32.1 79.9h0M79.1 79.0h0M86.7 80.0h0M91.9 79.4h0M99.8 79.6h0M101.2 79.7h0M109.9 79.7h0M33.8 80.2h0M85.8 80.6h0M85.7 81.0h0M94.9 80.2h0M94.0 80.2h0M95.8 80.7h0M97.3 80.9h0M112.4 80.4h0M84.5 81.2h0M41.1 82.4h0M62.2 82.9h0M63.9 82.5h0M68.8 82.4h0M84.0 82.4h0M87.0 82.1h0M88.3 82.7h0M88.2 82.3h0M89.0 82.1h0M92.3 82.7h0M95.1 82.6h0M100.3 82.2h0M102.0 82.4h0M104.9 82.9h0M31.0 83.1h0M48.8 83.3h0M81.5 83.9h0M83.0 83.5h0M88.1 83.2h0M94.4 83.7h0M97.5 83.3h0M101.1 83.8h0M102.4 83.3h0M107.8 83.5h0M37.3 84.9h0M48.3 84.2h0M70.6 84.8h0M83.9 84.4h0M84.6 84.1h0M86.4 84.2h0M94.8 84.8h0M101.9 84.8h0M104.9 84.0h0M33.0 85.1h0M34.3 85.0h0M45.7 85.1h0M76.6 85.0h0M90.2 85.6h0M94.9 85.9h0M48.1 86.4h0M51.4 86.7h0M72.0 86.3h0M81.2 86.1h0M85.5 86.5h0M93.3 86.5h0M94.1 86.7h0M95.9 86.7h0M95.6 86.4h0M97.2 86.0h0M43.5 87.9h0M52.7 87.4h0M80.4 87.6h0M85.6 87.1h0M86.8 87.7h0M95.5 87.7h0M47.9 88.2h0M89.0 88.5h0M58.2 89.5h0M64.6 89.1h0M76.4 89.3h0M84.1 89.7h0M85.7 89.3h0M93.4 89.6h0M100.4 89.3h0M102.0 89.4h0M38.1 90.4h0M56.7 90.5h0M67.4 90.6h0M81.7 90.7h0M113.2 90.2h0M37.3 91.7h0M37.6 91.5h0M73.3 91.9h0M81.5 91.9h0M84.5 91.9h0M93.2 91.0h0M32.8 92.1h0M41.4 92.5h0M44.2 93.0h0M86.1 92.3h0M98.4 92.5h0M98.3 92.0h0M104.7 92.9h0M37.8 93.2h0M49.7 93.9h0M73.3 93.2h0M87.9 93.2h0M89.9 93.2h0M33.3 94.8h0M47.2 94.4h0M86.2 94.1h0M35.6 95.1h0M71.4 95.9h0M88.0 95.9h0M102.9 95.5h0M41.7 96.3h0M47.8 96.5h0M60.6 96.9h0M72.2 96.2h0M81.8 96.5h0M88.4 96.3h0M43.1 97.9h0M53.5 97.4h0M74.8 97.3h0M88.6 97.5h0M94.6 97.2h0M99.9 97.0h0M37.6 99.2h0M87.9 99.9h0M106.9 99.8h0M47.8 100.8h0M87.9 100.3h0M58.7 101.3h0M75.8 101.9h0M42.6 102.5h0M77.7 102.5h0M45.2 103.9h0M94.2 103.1h0M74.9 104.1h0M77.3 104.9h0M40.2 105.7h0M77.3 105.4h0M78.5 105.0h0M105.2 106.0h0M45.1 106.4h0M49.1 106.9h0M50.9 106.4h0M52.6 106.1h0M66.0 106.1h0M74.8 106.8h0M56.7 107.5h0M72.6 107.5h0M103.5 107.6h0M40.6 108.1h0M42.7 108.6h0M45.5 108.1h0M49.4 108.6h0M60.0 109.2h0M64.0 109.9h0M68.5 109.3h0M69.7 109.3h0M105.6 109.6h0M40.9 110.5h0M49.4 110.9h0M89.4 110.1h0M109.2 110.3h0M40.0 111.4h0M47.7 111.3h0M82.0 111.2h0M48.5 113.5h0M51.4 113.0h0M85.2 113.8h0M98.5 114.1h0M78.7 115.7h0M87.1 115.9h0M61.5 116.9h0M80.1 116.6h0M114.8 116.4h0M44.3 117.3h0M47.4 117.2h0M94.8 117.7h0M113.0 117.3h0M42.0 119.7h0M49.1 119.2h0M54.5 119.8h0M72.0 119.4h0M85.4 120.4h0M88.6 120.0h0M93.0 120.0h0M102.4 120.1h0M106.9 121.0h0M51.7 121.8h0M103.7 121.1h0M55.9 122.5h0M59.4 122.6h0M60.5 122.6h0M76.9 122.9h0M61.5 123.7h0M102.3 123.8h0M56.7 124.6h0M72.7 124.3h0M94.3 124.9h0M51.0 125.4h0M55.8 125.7h0M86.7 125.7h0M111.2 125.8h0M57.2 126.3h0M85.4 126.7h0M61.4 127.1h0M73.6 127.6h0M89.3 128.7h0M90.7 128.4h0M113.3 128.2h0M58.3 129.9h0M67.1 129.7h0M103.9 129.2h0M65.5 130.6h0M75.9 130.6h0M95.6 130.5h0M99.6 130.4h0M107.1 130.1h0M67.8 131.7h0M87.5 132.0h0M70.6 132.8h0M73.4 132.4h0M79.5 132.0h0M70.5 133.9h0M114.1 133.7h0M64.6 134.8h0M66.3 135.0h0M71.2 135.2h0M64.7 136.9h0M67.0 136.7h0M69.9 137.0h0M70.7 136.8h0M81.9 136.5h0M103.3 136.2h0M69.2 137.7h0M96.0 138.0h0M103.5 137.2h0M105.1 137.8h0M109.3 137.3h0M110.8 137.1h0M80.1 138.7h0M87.7 138.5h0M103.2 138.4h0M66.7 139.9h0M82.6 139.1h0M83.3 139.4h0M102.8 139.8h0M106.5 139.5h0M115.3 139.6h0M73.9 140.3h0M90.3 140.4h0M94.9 140.5h0M101.1 140.1h0M102.2 140.4h0M75.5 141.2h0M81.6 141.6h0M88.1 141.1h0M98.7 141.4h0M103.6 141.6h0M108.4 141.7h0M74.9 142.3h0M83.1 142.6h0M88.8 142.5h0M103.2 142.6h0M90.0 143.0h0M77.9 144.5h0M79.4 145.1h0M108.5 145.9h0M113.6 145.3h0M103.2 146.9h0M103.8 147.0h0M95.3 148.4h0M97.5 149.7h0M116.0 151.0h0" fill="none" stroke="#c80000" stroke-width="1.15" stroke-linecap="round" opacity="0.9"/><path d="M32.0 0.4h0M40.5 0.3h0M42.5 1.4h0M72.0 1.2h0M93.9 1.1h0M94.6 2.0h0M51.7 2.5h0M61.5 3.3h0M66.4 3.9h0M96.0 3.9h0M34.9 4.4h0M89.7 4.1h0M32.7 5.3h0M104.7 5.2h0M59.0 6.1h0M83.3 6.2h0M92.9 6.2h0M56.1 8.1h0M93.0 8.3h0M107.0 8.0h0M66.5 9.1h0M79.6 9.3h0M54.8 11.9h0M79.7 11.9h0M87.3 12.7h0M92.8 12.9h0M39.2 13.5h0M98.2 13.9h0M100.6 13.5h0M42.0 14.9h0M77.4 14.6h0M83.5 14.7h0M99.7 14.5h0M33.1 15.0h0M76.5 15.7h0M95.3 15.8h0M28.0 16.3h0M28.7 16.0h0M51.2 17.2h0M82.7 18.0h0M91.4 17.4h0M103.8 17.3h0M88.0 18.4h0M102.6 18.5h0M67.6 19.1h0M94.6 19.5h0M26.3 20.7h0M39.3 20.5h0M42.7 20.7h0M93.9 20.4h0M102.4 20.1h0M76.7 21.2h0M68.6 22.6h0M32.4 23.2h0M83.0 23.7h0M83.7 23.8h0M93.2 23.8h0M96.5 23.8h0M69.4 24.8h0M74.7 24.6h0M32.9 25.8h0M35.3 25.5h0M66.7 25.7h0M98.9 25.3h0M79.2 26.6h0M110.9 27.0h0M106.3 27.6h0M71.9 28.4h0M87.7 28.1h0M94.6 28.6h0M33.7 29.8h0M106.3 29.2h0M114.0 29.9h0M88.4 30.9h0M99.4 30.7h0M107.8 30.9h0M90.7 31.3h0M92.8 31.2h0M115.5 31.2h0M38.5 33.0h0M30.8 33.2h0M87.2 33.3h0M96.6 33.1h0M103.7 33.0h0M106.6 33.2h0M32.6 35.9h0M100.4 35.5h0M65.6 36.5h0M83.7 36.6h0M87.0 36.8h0M100.3 36.4h0M76.3 37.4h0M87.9 37.7h0M101.6 37.5h0M85.6 38.7h0M89.1 38.1h0M113.8 38.8h0M28.9 39.0h0M53.2 39.5h0M66.1 39.2h0M77.0 39.3h0M99.2 39.8h0M110.0 39.0h0M90.7 40.3h0M91.8 41.0h0M93.1 40.2h0M82.9 41.2h0M86.9 41.7h0M86.9 41.4h0M42.8 43.0h0M91.6 42.2h0M98.4 42.4h0M30.4 43.7h0M46.4 44.4h0M70.2 44.0h0M85.9 44.7h0M104.5 44.7h0M30.9 45.7h0M82.1 46.0h0M102.5 45.4h0M31.4 46.6h0M72.0 47.9h0M95.4 47.5h0M100.0 47.5h0M68.8 48.6h0M102.2 48.1h0M28.9 49.9h0M103.2 49.5h0M37.9 50.2h0M87.0 50.1h0M88.6 50.4h0M106.2 50.0h0M106.2 50.9h0M108.2 50.7h0M111.7 50.9h0M80.9 51.6h0M69.2 52.3h0M73.4 52.4h0M82.4 52.5h0M88.2 52.8h0M93.8 52.9h0M98.0 52.9h0M109.3 52.7h0M27.5 53.0h0M72.7 53.1h0M87.7 53.6h0M30.3 54.5h0M88.8 54.3h0M93.8 54.3h0M99.0 54.2h0M53.1 55.9h0M90.4 55.4h0M87.9 56.3h0M107.7 56.4h0M109.4 56.9h0M27.4 57.8h0M42.7 57.5h0M71.5 57.4h0M72.6 57.6h0M89.7 57.8h0M91.0 57.6h0M77.1 58.8h0M80.8 58.1h0M83.2 58.7h0M94.7 58.0h0M112.6 58.9h0M68.4 59.6h0M71.8 59.8h0M75.7 59.2h0M85.0 59.0h0M93.0 59.7h0M27.1 60.7h0M30.4 60.4h0M89.6 60.7h0M99.9 60.3h0M104.3 60.1h0M112.9 60.0h0M28.7 61.5h0M69.0 61.0h0M95.0 61.0h0M106.2 61.4h0M32.1 62.6h0M82.9 62.7h0M95.2 62.4h0M100.5 62.4h0M105.3 62.8h0M107.8 62.4h0M82.1 63.7h0M83.7 63.1h0M100.9 63.5h0M102.1 63.5h0M105.4 63.1h0M77.7 64.5h0M86.4 64.3h0M102.8 64.6h0M107.7 64.3h0M41.0 65.1h0M78.0 65.1h0M80.1 65.2h0M71.6 66.6h0M79.0 66.3h0M94.6 66.8h0M100.1 66.6h0M103.2 66.1h0M70.6 67.6h0M77.9 67.1h0M114.2 67.5h0M45.0 69.0h0M81.4 68.1h0M90.6 68.3h0M105.1 68.8h0M49.2 69.8h0M71.7 69.7h0M96.8 70.3h0M75.6 71.5h0M33.8 72.8h0M38.5 72.2h0M70.2 72.4h0M103.0 72.8h0M77.2 73.9h0M93.7 74.4h0M93.6 74.5h0M106.8 74.7h0M65.3 75.5h0M79.8 75.9h0M80.5 75.4h0M106.0 75.1h0M73.9 76.9h0M82.3 76.8h0M86.4 76.5h0M90.9 76.7h0M31.6 77.2h0M80.8 77.6h0M35.1 78.4h0M36.1 78.6h0M88.3 78.7h0M101.2 78.4h0M93.7 80.0h0M94.3 79.6h0M40.4 80.6h0M68.8 80.4h0M83.8 80.3h0M86.8 80.3h0M103.1 80.8h0M75.9 81.0h0M93.2 81.7h0M89.0 82.3h0M94.3 82.6h0M99.4 82.7h0M109.5 82.7h0M31.3 83.7h0M77.3 83.3h0M88.5 83.1h0M105.9 83.3h0M54.9 84.5h0M86.9 84.3h0M90.3 84.4h0M54.2 85.7h0M89.2 85.5h0M34.4 86.1h0M72.1 87.0h0M104.3 87.1h0M114.6 87.2h0M41.2 88.3h0M94.2 88.2h0M96.0 89.0h0M97.9 88.6h0M103.7 88.3h0M38.0 90.1h0M87.7 90.2h0M91.1 90.8h0M95.7 91.8h0M96.6 91.7h0M98.8 91.7h0M34.4 92.4h0M66.7 92.6h0M85.4 92.2h0M49.0 93.5h0M97.0 93.5h0M35.6 95.0h0M63.6 94.9h0M94.8 94.6h0M101.4 94.2h0M91.8 96.9h0M61.7 97.8h0M97.4 97.4h0M72.9 98.6h0M80.8 98.3h0M84.6 98.2h0M85.7 98.3h0M60.6 101.4h0M109.5 101.7h0M43.0 102.3h0M70.7 102.4h0M38.4 103.1h0M49.1 103.6h0M110.5 103.9h0M55.5 105.5h0M76.9 105.8h0M81.5 107.6h0M103.6 108.8h0M112.8 108.3h0M42.7 109.9h0M54.4 109.9h0M69.5 109.4h0M69.5 109.5h0M71.9 109.9h0M77.5 109.4h0M89.7 109.3h0M106.7 109.5h0M44.1 111.1h0M45.0 111.4h0M109.6 111.5h0M47.4 113.0h0M88.0 112.5h0M55.8 114.1h0M58.6 114.0h0M78.9 115.2h0M47.9 118.8h0M56.9 118.1h0M71.7 121.0h0M101.7 120.7h0M48.6 122.4h0M56.5 122.7h0M112.8 122.3h0M114.3 122.1h0M51.6 123.4h0M54.0 123.3h0M57.1 124.4h0M58.4 124.3h0M110.3 127.8h0M49.0 129.5h0M80.9 130.4h0M91.3 130.8h0M50.3 131.1h0M52.2 133.7h0M72.4 133.1h0M81.2 133.2h0M96.3 134.9h0M86.1 135.4h0M112.9 136.0h0M87.1 138.0h0M89.4 137.3h0M102.6 137.4h0M74.2 138.8h0M100.3 138.2h0M82.6 139.7h0M108.8 139.1h0M71.6 140.9h0M86.6 140.2h0M90.0 140.0h0M92.1 140.5h0M99.6 140.4h0M99.4 142.2h0M100.1 142.6h0M81.8 143.1h0M113.7 144.8h0M113.4 144.5h0M74.7 145.5h0M81.4 146.4h0M88.0 148.9h0M89.4 151.0h0" fill="none" stroke="#f80c0c" stroke-width="1.5" stroke-linecap="round" opacity="1.0"/></g>
</g>
<g clip-path="url(#cl3)">
<rect x="142" y="195" width="115.3" height="155" fill="#000"/>
<g transform="translate(142 195)" fill="#e00000" filter="url(#b7)"><path d="M8 0 C6 50 12 95 30 126 C46 148 75 156 116 150 L116 0Z" opacity=".14"/></g>
<g transform="translate(142 195)" filter="url(#b03)"><path d="M24.6 0.1h0M40.1 0.3h0M47.1 0.9h0M82.6 0.3h0M97.4 0.9h0M21.6 1.7h0M39.7 1.1h0M16.3 2.9h0M19.2 2.9h0M27.2 2.7h0M27.0 2.8h0M27.3 2.3h0M48.5 2.4h0M76.4 2.2h0M77.3 2.6h0M80.4 2.3h0M89.8 2.1h0M90.1 2.9h0M96.8 2.4h0M106.6 2.2h0M20.7 3.8h0M21.9 3.6h0M25.3 3.2h0M40.3 3.1h0M15.4 4.6h0M22.3 4.9h0M27.0 4.7h0M50.4 4.7h0M65.8 4.7h0M84.8 4.9h0M41.2 5.3h0M77.9 5.6h0M79.2 5.5h0M21.0 6.7h0M28.8 6.1h0M74.9 6.3h0M16.8 7.4h0M23.5 7.6h0M24.0 7.6h0M43.9 7.1h0M61.1 7.5h0M83.4 7.6h0M21.9 8.5h0M26.3 8.3h0M32.9 8.8h0M99.4 8.7h0M18.8 9.8h0M19.8 9.5h0M20.2 9.7h0M26.9 9.6h0M29.9 9.8h0M39.5 9.3h0M82.9 9.8h0M94.0 9.4h0M15.9 10.4h0M21.7 10.6h0M87.1 10.7h0M90.5 10.6h0M22.8 11.0h0M23.4 11.0h0M23.3 11.3h0M24.0 11.2h0M40.4 11.5h0M72.0 11.4h0M78.2 11.7h0M78.4 11.7h0M86.0 11.3h0M87.1 11.9h0M88.2 11.4h0M90.1 11.4h0M93.5 11.5h0M94.1 11.6h0M18.5 12.4h0M31.7 12.9h0M86.3 12.7h0M110.9 12.7h0M22.7 13.1h0M61.6 13.3h0M80.9 13.4h0M84.0 13.8h0M84.7 13.7h0M15.5 14.7h0M15.0 14.1h0M17.2 14.5h0M18.1 14.6h0M20.9 14.1h0M31.4 14.9h0M51.9 15.0h0M59.3 14.2h0M66.1 14.1h0M67.1 14.6h0M87.2 14.6h0M91.7 14.7h0M26.6 15.3h0M76.6 15.6h0M79.0 15.4h0M79.5 15.4h0M90.2 15.8h0M96.4 16.0h0M23.5 16.1h0M30.3 16.0h0M69.3 16.3h0M73.1 16.4h0M85.2 16.1h0M85.9 16.6h0M86.3 16.2h0M14.0 17.1h0M77.5 17.7h0M78.9 17.6h0M82.1 17.3h0M85.6 17.8h0M93.9 17.1h0M25.0 18.4h0M55.3 18.2h0M65.2 18.8h0M71.1 18.6h0M71.7 18.7h0M74.9 18.5h0M83.0 18.6h0M84.9 18.9h0M111.8 19.0h0M17.4 19.8h0M19.3 19.8h0M22.0 19.1h0M65.0 19.9h0M70.7 19.7h0M74.5 19.4h0M76.5 19.4h0M76.5 19.7h0M78.9 19.5h0M80.3 19.5h0M80.5 19.1h0M82.0 19.7h0M85.6 19.6h0M109.1 19.6h0M27.5 20.5h0M72.1 20.3h0M82.2 20.7h0M83.1 20.6h0M85.1 20.5h0M85.1 20.4h0M86.4 20.9h0M87.4 20.8h0M23.3 21.2h0M27.8 21.7h0M30.4 21.5h0M62.8 21.6h0M65.5 21.6h0M67.4 21.2h0M76.5 21.4h0M78.9 21.9h0M81.1 21.7h0M86.5 21.2h0M102.2 21.2h0M107.7 21.7h0M17.8 22.5h0M19.2 22.8h0M20.9 22.3h0M27.7 22.9h0M43.0 22.6h0M60.8 22.8h0M63.4 22.6h0M65.0 23.0h0M68.8 22.9h0M71.8 22.4h0M79.7 23.0h0M80.0 22.8h0M82.0 23.0h0M84.6 22.8h0M86.9 22.1h0M87.2 22.9h0M20.0 23.7h0M30.0 23.1h0M37.8 23.6h0M64.7 23.4h0M68.1 23.0h0M76.1 23.1h0M81.3 23.1h0M81.5 24.0h0M83.8 23.5h0M85.8 23.7h0M92.3 23.9h0M114.4 24.0h0M56.5 24.9h0M78.0 25.0h0M82.0 24.2h0M91.5 24.8h0M97.6 24.7h0M19.5 25.0h0M24.0 26.0h0M25.1 25.3h0M30.2 25.9h0M61.5 25.2h0M63.1 25.8h0M65.7 25.3h0M69.6 25.4h0M69.7 25.6h0M72.1 26.0h0M77.3 25.7h0M87.2 25.7h0M88.1 25.8h0M96.6 25.9h0M15.3 26.8h0M18.3 26.4h0M22.1 26.4h0M26.3 26.6h0M57.6 26.6h0M59.3 26.6h0M68.5 26.8h0M74.9 26.7h0M78.2 26.0h0M80.7 26.6h0M83.8 26.8h0M88.0 26.6h0M111.1 26.7h0M20.0 27.6h0M53.3 27.7h0M56.4 27.1h0M63.2 27.5h0M64.3 27.9h0M67.5 27.7h0M71.0 27.6h0M71.2 27.5h0M71.4 27.4h0M77.2 27.8h0M82.6 27.4h0M83.6 27.3h0M85.3 27.1h0M85.1 27.1h0M93.8 27.3h0M18.2 28.4h0M46.9 28.1h0M58.5 28.5h0M64.8 28.1h0M76.9 28.9h0M19.0 29.9h0M43.3 29.7h0M61.9 29.0h0M62.6 29.6h0M67.5 29.7h0M67.1 29.6h0M77.8 29.5h0M79.9 29.5h0M82.1 29.4h0M85.9 29.3h0M89.7 29.7h0M18.4 30.5h0M20.9 30.8h0M36.9 30.8h0M60.4 30.9h0M65.8 30.7h0M71.0 30.8h0M78.9 30.2h0M82.4 30.3h0M83.2 30.5h0M91.1 30.6h0M92.0 30.7h0M91.0 30.8h0M101.6 30.4h0M113.9 30.6h0M22.1 31.2h0M31.0 31.3h0M65.7 31.7h0M74.1 31.0h0M80.1 31.3h0M24.0 32.8h0M31.4 32.7h0M57.1 33.0h0M71.7 32.7h0M74.8 32.3h0M82.0 32.8h0M97.8 32.3h0M105.6 32.3h0M19.3 33.8h0M22.9 33.8h0M56.1 33.0h0M64.5 33.3h0M64.1 33.4h0M64.7 33.8h0M70.5 33.0h0M71.8 34.0h0M86.9 33.5h0M90.9 33.2h0M91.0 33.3h0M92.3 33.7h0M111.4 33.1h0M18.9 35.0h0M20.2 34.7h0M21.2 34.6h0M60.5 34.7h0M63.7 34.2h0M67.9 34.7h0M78.8 34.7h0M79.7 34.7h0M90.0 34.9h0M90.9 34.9h0M99.2 34.8h0M111.9 34.7h0M111.7 34.5h0M13.9 35.6h0M56.9 35.9h0M69.9 35.8h0M74.8 35.0h0M76.9 35.6h0M80.2 35.5h0M82.2 35.3h0M87.0 35.2h0M108.0 35.2h0M110.6 35.6h0M27.1 36.5h0M51.8 36.1h0M52.4 36.5h0M52.1 36.5h0M59.8 36.8h0M60.7 36.6h0M68.6 36.4h0M74.1 36.2h0M74.7 36.7h0M81.3 36.1h0M83.4 36.2h0M84.6 36.0h0M91.2 36.3h0M91.8 36.6h0M107.9 36.1h0M21.9 37.9h0M66.5 38.0h0M69.7 37.4h0M71.5 37.9h0M80.4 37.9h0M82.9 37.6h0M83.3 37.5h0M92.1 37.9h0M93.3 37.2h0M96.8 37.0h0M112.7 38.0h0M18.3 38.7h0M55.5 38.8h0M63.2 38.3h0M72.3 38.1h0M72.2 38.9h0M73.5 38.9h0M73.0 38.5h0M77.3 38.4h0M79.9 38.6h0M81.4 38.6h0M87.0 38.8h0M91.6 38.5h0M15.8 39.6h0M22.7 39.4h0M22.8 39.2h0M28.9 39.9h0M29.8 40.0h0M45.8 39.8h0M63.1 39.2h0M71.2 39.8h0M76.3 39.8h0M89.6 39.6h0M26.1 40.4h0M62.2 40.3h0M68.8 40.3h0M74.3 40.7h0M83.1 40.6h0M92.4 40.9h0M23.9 41.1h0M32.3 41.6h0M41.6 41.2h0M49.9 41.6h0M54.8 41.9h0M60.7 41.1h0M61.5 41.2h0M61.6 41.5h0M64.6 41.1h0M68.3 41.4h0M77.8 41.0h0M78.6 41.0h0M83.7 41.0h0M83.5 41.5h0M91.5 41.2h0M92.6 41.9h0M72.3 42.6h0M74.9 42.6h0M78.5 42.1h0M79.9 42.7h0M79.8 42.9h0M98.3 42.7h0M104.0 42.8h0M15.7 43.1h0M16.5 43.0h0M18.8 43.8h0M56.6 43.0h0M61.1 43.3h0M62.4 43.3h0M74.1 43.2h0M85.0 43.0h0M86.8 43.7h0M88.6 43.4h0M91.2 43.4h0M98.7 44.0h0M13.4 44.2h0M24.3 44.7h0M57.0 44.8h0M56.7 44.9h0M58.7 44.8h0M59.8 44.6h0M78.2 44.5h0M80.1 44.9h0M85.4 44.9h0M89.0 44.3h0M92.1 44.1h0M17.3 45.8h0M19.2 45.6h0M20.7 45.6h0M48.3 45.3h0M65.6 45.4h0M75.4 45.4h0M84.5 46.0h0M93.5 45.0h0M98.8 45.4h0M101.1 45.8h0M106.6 45.0h0M17.0 46.1h0M18.6 46.8h0M60.3 46.7h0M61.0 46.8h0M63.3 46.3h0M63.1 46.7h0M66.4 46.5h0M67.6 46.8h0M71.6 46.6h0M80.3 46.7h0M26.4 47.7h0M26.4 47.6h0M60.8 47.9h0M65.3 47.6h0M65.2 47.6h0M71.3 47.4h0M74.2 47.0h0M78.0 47.4h0M82.7 47.4h0M82.6 47.9h0M93.8 47.6h0M98.3 47.5h0M112.7 47.1h0M18.5 48.3h0M20.7 48.0h0M21.5 48.6h0M52.9 48.9h0M59.8 48.8h0M64.7 48.9h0M68.2 48.5h0M81.4 48.3h0M14.7 49.5h0M18.2 49.8h0M69.7 49.8h0M86.5 49.3h0M86.3 49.8h0M87.1 49.1h0M97.8 49.5h0M98.9 49.7h0M29.5 50.7h0M56.3 50.1h0M58.6 50.3h0M59.8 50.3h0M62.9 51.0h0M72.1 50.8h0M74.3 50.0h0M93.7 50.4h0M99.1 50.3h0M102.3 50.7h0M106.5 50.1h0M35.2 51.9h0M52.6 51.6h0M52.5 51.5h0M61.6 51.3h0M71.6 52.0h0M74.3 51.4h0M74.3 51.9h0M74.4 51.6h0M75.9 51.6h0M77.2 51.8h0M78.8 51.8h0M81.4 51.8h0M50.5 52.8h0M56.9 52.6h0M60.0 52.7h0M62.0 52.6h0M63.0 52.7h0M70.5 52.2h0M81.0 52.8h0M83.0 53.0h0M87.8 52.6h0M94.6 52.9h0M113.1 53.0h0M113.8 52.2h0M53.2 54.0h0M57.1 53.0h0M60.9 53.5h0M60.8 53.1h0M65.2 53.1h0M70.3 53.2h0M75.4 53.7h0M77.5 53.8h0M80.5 53.1h0M84.1 53.7h0M86.1 53.5h0M24.5 54.6h0M49.9 54.2h0M55.9 54.6h0M56.6 54.3h0M58.0 55.0h0M60.8 54.1h0M69.4 54.2h0M76.4 54.9h0M80.7 54.2h0M81.2 54.8h0M82.4 54.7h0M99.8 54.1h0M19.7 55.6h0M56.8 55.8h0M64.0 56.0h0M67.5 55.5h0M70.1 55.6h0M71.4 55.9h0M76.7 55.9h0M80.9 55.2h0M92.3 55.4h0M93.9 55.9h0M94.5 55.1h0M102.1 55.9h0M105.2 55.5h0M15.7 56.1h0M27.4 56.7h0M66.9 57.0h0M89.2 56.0h0M90.9 56.6h0M92.1 56.7h0M97.6 56.2h0M102.9 56.1h0M17.3 57.7h0M23.0 57.3h0M54.8 57.9h0M55.0 57.5h0M55.3 57.9h0M61.4 57.9h0M68.8 57.5h0M76.1 57.8h0M80.3 57.8h0M82.1 57.3h0M100.4 57.1h0M114.8 57.0h0M20.2 58.9h0M55.8 58.9h0M56.3 58.4h0M74.5 58.5h0M83.5 58.5h0M89.9 58.0h0M93.0 58.0h0M101.3 58.2h0M23.7 59.8h0M23.5 60.0h0M43.5 59.6h0M58.0 59.4h0M64.8 59.1h0M67.9 59.9h0M70.3 59.7h0M70.5 59.6h0M71.0 59.8h0M72.1 59.9h0M76.3 59.7h0M77.4 59.4h0M79.1 59.5h0M79.8 59.3h0M83.0 59.6h0M85.6 59.8h0M96.3 59.8h0M100.9 59.8h0M20.3 60.8h0M25.0 60.2h0M54.9 60.1h0M55.5 60.4h0M76.3 60.4h0M78.5 60.8h0M82.9 60.2h0M83.2 60.1h0M91.9 60.8h0M92.7 60.8h0M95.9 60.5h0M96.1 60.5h0M97.8 60.5h0M97.8 60.6h0M103.1 60.2h0M105.7 60.1h0M18.0 61.4h0M51.1 61.2h0M53.0 61.9h0M61.2 61.4h0M67.3 61.4h0M71.2 61.1h0M77.4 62.0h0M79.3 61.2h0M83.7 61.0h0M92.1 61.2h0M106.4 61.5h0M20.1 62.4h0M35.1 62.8h0M53.1 62.9h0M57.1 62.8h0M63.9 62.1h0M78.9 62.3h0M82.9 62.4h0M85.4 62.0h0M90.4 62.9h0M97.6 62.4h0M97.4 62.9h0M100.8 62.0h0M107.7 62.5h0M114.5 62.2h0M53.8 63.5h0M56.0 63.4h0M57.4 63.7h0M58.5 63.0h0M63.4 63.9h0M63.5 63.2h0M68.3 63.3h0M70.6 63.3h0M76.2 63.7h0M81.0 63.7h0M87.9 63.4h0M89.7 63.1h0M89.8 63.8h0M106.7 63.8h0M108.4 63.6h0M22.7 64.9h0M22.0 64.6h0M24.8 64.1h0M27.3 64.5h0M58.2 64.5h0M60.3 64.8h0M63.9 64.4h0M72.6 64.5h0M74.5 64.6h0M76.4 64.3h0M78.2 64.9h0M89.1 64.3h0M91.0 64.1h0M95.1 64.3h0M98.4 64.0h0M98.0 64.6h0M104.1 64.2h0M14.4 65.0h0M23.1 66.0h0M50.1 65.1h0M55.0 66.0h0M57.2 65.8h0M81.5 65.7h0M81.3 65.9h0M81.2 65.3h0M84.9 65.4h0M89.8 65.6h0M92.8 65.4h0M112.8 65.4h0M21.6 66.5h0M22.9 66.2h0M57.2 66.7h0M67.0 66.6h0M69.3 66.1h0M88.0 66.8h0M90.2 66.3h0M91.0 66.3h0M96.3 66.3h0M96.2 67.0h0M100.8 67.0h0M17.8 67.5h0M23.4 67.2h0M24.0 67.8h0M26.9 67.8h0M29.5 67.9h0M59.6 67.2h0M64.6 67.8h0M65.7 67.6h0M66.4 67.8h0M72.5 67.5h0M76.8 67.2h0M79.5 67.8h0M82.3 68.0h0M83.9 67.4h0M85.1 67.8h0M86.3 67.0h0M87.4 67.2h0M91.3 67.3h0M94.3 67.4h0M98.3 67.1h0M100.5 67.4h0M101.5 67.8h0M25.0 68.6h0M55.8 68.6h0M55.1 68.8h0M60.1 68.2h0M64.4 68.4h0M67.4 68.1h0M76.6 68.8h0M85.9 68.7h0M90.6 68.8h0M91.2 68.2h0M94.4 68.6h0M101.9 68.6h0M57.8 69.3h0M58.6 69.9h0M60.7 69.5h0M65.5 69.1h0M79.6 70.0h0M79.8 69.3h0M81.6 70.0h0M85.2 69.2h0M94.1 69.7h0M96.3 70.0h0M102.0 69.4h0M28.2 70.6h0M51.5 70.6h0M67.1 70.7h0M82.9 70.8h0M87.8 70.4h0M95.7 70.3h0M96.6 70.9h0M106.7 70.7h0M110.5 70.8h0M25.3 71.6h0M27.2 71.6h0M43.9 71.2h0M57.7 71.5h0M59.4 71.3h0M65.3 72.0h0M69.2 71.6h0M75.0 71.2h0M75.4 71.1h0M102.3 71.8h0M20.8 72.9h0M24.4 72.9h0M24.0 72.1h0M38.6 72.0h0M60.4 72.1h0M61.8 72.6h0M64.0 72.3h0M64.1 72.1h0M65.9 72.7h0M68.4 72.8h0M68.4 72.2h0M69.9 72.1h0M73.0 72.6h0M75.1 72.5h0M78.1 72.1h0M91.9 72.3h0M111.1 72.7h0M22.9 73.2h0M24.6 73.1h0M26.9 73.1h0M34.5 73.7h0M61.4 73.7h0M65.2 73.9h0M66.9 73.2h0M82.2 73.2h0M82.2 73.5h0M83.8 73.7h0M83.4 73.9h0M92.9 73.2h0M92.6 73.2h0M94.4 73.8h0M96.5 73.5h0M104.1 73.6h0M104.5 73.2h0M20.7 74.4h0M47.9 74.3h0M48.4 74.3h0M61.1 74.5h0M61.1 74.6h0M63.2 74.7h0M74.3 74.8h0M75.1 74.5h0M78.9 74.8h0M80.6 74.7h0M87.8 74.8h0M94.0 74.5h0M96.0 74.4h0M108.3 74.9h0M64.1 75.0h0M72.4 75.3h0M73.9 75.1h0M78.9 75.6h0M82.5 75.1h0M83.8 75.4h0M95.3 75.0h0M99.8 75.3h0M22.9 76.6h0M25.8 76.9h0M25.0 76.1h0M56.6 76.8h0M56.4 76.4h0M57.2 76.1h0M64.7 76.2h0M68.7 76.6h0M70.6 76.1h0M71.7 76.4h0M77.3 76.0h0M78.2 76.6h0M78.6 76.5h0M79.0 76.7h0M81.5 76.6h0M82.2 76.3h0M92.8 76.3h0M95.6 76.4h0M28.3 77.7h0M58.8 77.7h0M60.7 77.9h0M61.1 77.6h0M62.2 77.2h0M65.6 77.5h0M72.2 77.4h0M72.9 77.4h0M81.1 77.8h0M82.9 77.4h0M82.9 77.8h0M94.0 77.9h0M95.0 77.1h0M25.4 78.5h0M30.7 78.1h0M31.3 78.3h0M40.4 78.9h0M44.2 79.0h0M52.4 78.7h0M58.6 78.1h0M70.4 78.0h0M73.7 79.0h0M73.7 78.4h0M75.3 78.1h0M77.4 79.0h0M79.1 78.2h0M84.5 79.0h0M88.9 78.5h0M92.2 78.3h0M99.9 78.9h0M110.1 78.4h0M112.1 78.8h0M27.9 79.6h0M58.3 80.0h0M62.0 79.6h0M62.5 79.7h0M64.0 79.6h0M64.5 79.7h0M99.5 79.3h0M110.2 79.7h0M34.0 80.3h0M55.1 80.9h0M60.5 80.6h0M71.6 80.2h0M72.7 80.8h0M72.8 80.4h0M82.8 80.4h0M83.6 80.3h0M89.9 80.7h0M92.8 80.2h0M96.3 80.5h0M98.1 80.1h0M100.2 80.3h0M102.6 80.2h0M24.4 81.1h0M26.9 81.1h0M31.5 81.7h0M58.1 81.1h0M61.0 82.0h0M65.3 81.3h0M65.8 81.8h0M66.4 81.7h0M70.1 81.2h0M70.6 81.9h0M74.4 81.1h0M76.5 81.9h0M78.7 81.8h0M82.8 82.0h0M85.6 81.0h0M88.9 81.4h0M88.1 81.7h0M91.4 81.7h0M98.0 81.7h0M24.4 82.7h0M24.1 83.0h0M71.7 82.2h0M72.0 82.4h0M76.8 82.7h0M79.5 82.2h0M80.5 82.7h0M83.3 83.0h0M91.1 82.4h0M92.4 82.7h0M22.3 83.7h0M26.8 83.4h0M43.9 83.8h0M62.7 83.8h0M65.5 83.6h0M68.8 83.1h0M71.1 83.0h0M92.2 83.1h0M97.8 83.1h0M30.6 84.8h0M54.6 84.7h0M62.7 84.8h0M64.4 84.4h0M68.3 84.4h0M81.9 84.4h0M85.5 85.0h0M87.5 84.8h0M88.8 84.1h0M93.7 84.6h0M99.1 84.0h0M25.1 85.9h0M62.6 85.1h0M67.2 85.2h0M69.5 85.1h0M70.4 85.3h0M88.2 85.0h0M95.8 85.8h0M100.5 85.6h0M19.4 86.2h0M30.0 86.8h0M39.2 86.9h0M57.1 86.3h0M58.1 86.4h0M59.4 86.8h0M72.7 86.2h0M80.0 86.0h0M82.0 86.5h0M84.8 87.0h0M84.1 86.3h0M85.3 86.9h0M91.0 86.6h0M97.1 86.3h0M27.5 87.8h0M29.7 87.6h0M59.6 87.1h0M70.7 87.3h0M71.0 87.6h0M80.8 87.9h0M85.5 87.3h0M88.1 87.3h0M92.3 87.8h0M96.9 87.7h0M99.5 88.0h0M24.1 88.4h0M29.9 88.7h0M60.5 88.9h0M65.0 89.0h0M77.3 88.2h0M78.3 88.3h0M79.2 88.4h0M103.1 88.6h0M109.4 88.5h0M21.7 89.6h0M22.9 89.8h0M33.5 89.5h0M34.9 89.6h0M59.1 89.1h0M71.7 89.3h0M76.8 89.7h0M77.0 89.4h0M83.6 89.7h0M84.2 89.4h0M88.7 89.5h0M92.1 89.8h0M99.2 89.7h0M31.5 90.3h0M55.6 90.0h0M57.8 90.5h0M64.3 90.2h0M72.0 90.2h0M74.9 90.2h0M74.8 90.8h0M84.8 90.0h0M85.3 90.8h0M86.0 90.9h0M89.4 90.1h0M101.4 90.0h0M25.5 91.5h0M57.3 92.0h0M64.8 91.2h0M67.5 91.0h0M68.2 91.6h0M72.6 91.3h0M86.2 91.8h0M91.4 91.7h0M93.8 92.0h0M98.4 91.2h0M115.9 91.8h0M27.1 92.8h0M28.3 92.4h0M62.7 92.9h0M69.1 92.3h0M70.3 92.7h0M79.9 92.7h0M83.5 92.1h0M83.5 92.9h0M88.6 92.1h0M90.3 92.6h0M94.7 92.9h0M104.8 92.5h0M27.9 93.3h0M29.3 93.9h0M54.1 93.1h0M60.1 93.6h0M63.2 93.9h0M71.5 93.4h0M75.7 93.4h0M80.0 93.6h0M90.0 93.6h0M90.5 93.6h0M100.1 94.0h0M31.4 94.6h0M39.9 94.4h0M63.8 94.4h0M69.9 94.7h0M71.8 94.5h0M72.7 94.3h0M76.6 94.1h0M77.2 94.8h0M83.4 94.4h0M85.1 94.8h0M89.4 94.5h0M89.4 94.1h0M91.9 94.4h0M17.7 95.8h0M51.3 95.5h0M56.4 95.8h0M61.2 95.6h0M64.4 95.3h0M65.5 95.1h0M68.8 95.8h0M71.4 96.0h0M81.6 95.6h0M88.5 95.3h0M67.4 96.3h0M80.6 97.0h0M81.1 96.1h0M88.4 96.9h0M91.2 96.6h0M92.9 96.9h0M94.4 96.8h0M95.7 96.2h0M100.0 96.2h0M103.7 96.9h0M111.9 96.5h0M38.9 97.9h0M67.4 97.9h0M68.0 97.8h0M69.2 97.9h0M69.2 97.8h0M73.9 97.2h0M84.4 97.4h0M94.3 97.5h0M36.7 98.6h0M46.8 98.5h0M55.4 98.5h0M65.6 98.3h0M70.0 98.9h0M69.2 98.4h0M71.7 98.7h0M81.2 98.6h0M87.3 98.9h0M95.3 99.0h0M23.6 99.7h0M23.2 99.1h0M28.0 99.3h0M28.7 99.3h0M32.3 99.1h0M35.5 99.6h0M36.5 99.2h0M61.3 99.9h0M64.1 99.7h0M67.6 100.0h0M68.1 99.7h0M70.7 99.9h0M72.7 99.4h0M76.0 99.5h0M78.2 100.0h0M83.5 99.9h0M85.5 99.2h0M87.9 99.8h0M89.5 99.6h0M92.5 99.2h0M93.0 99.8h0M23.8 100.4h0M69.1 100.6h0M69.0 100.9h0M80.0 100.9h0M84.2 100.9h0M85.0 100.2h0M85.8 100.1h0M88.5 100.3h0M89.3 101.0h0M95.9 100.1h0M32.4 101.5h0M38.5 102.0h0M53.8 102.0h0M65.7 101.9h0M67.9 101.8h0M69.8 101.7h0M27.0 102.5h0M34.6 102.8h0M57.2 102.6h0M68.3 103.0h0M76.9 102.4h0M78.1 102.0h0M81.3 102.7h0M85.4 102.9h0M86.9 102.3h0M98.4 102.1h0M65.2 103.4h0M70.8 103.1h0M72.5 103.8h0M79.5 103.2h0M83.8 103.4h0M86.7 103.2h0M86.5 103.6h0M87.3 103.0h0M108.2 103.4h0M109.4 103.1h0M30.3 104.9h0M36.3 104.2h0M62.9 104.1h0M63.6 104.1h0M65.8 104.2h0M71.8 104.4h0M86.0 104.8h0M91.6 104.4h0M98.6 104.5h0M31.0 106.0h0M35.0 105.3h0M38.7 105.6h0M70.2 105.0h0M71.0 105.9h0M72.4 105.1h0M80.6 105.7h0M83.1 105.8h0M83.1 105.5h0M87.8 105.7h0M90.1 105.2h0M70.9 107.0h0M84.0 106.7h0M91.7 106.8h0M95.7 106.8h0M111.3 106.6h0M24.5 107.2h0M31.3 107.7h0M39.6 107.7h0M48.0 107.1h0M62.3 107.1h0M64.6 107.2h0M67.1 107.9h0M73.1 107.7h0M76.0 107.2h0M83.6 107.8h0M95.0 107.5h0M111.4 107.4h0M33.8 108.3h0M72.6 108.5h0M74.9 108.1h0M77.1 108.9h0M79.1 108.8h0M85.6 108.5h0M36.2 109.5h0M37.7 109.6h0M42.1 109.6h0M59.7 109.8h0M63.8 109.4h0M70.2 109.5h0M86.9 109.6h0M88.7 109.4h0M95.6 109.5h0M33.2 110.4h0M35.0 110.2h0M45.7 110.3h0M76.0 110.3h0M76.7 110.1h0M76.4 110.3h0M39.2 111.2h0M44.7 111.7h0M46.4 111.3h0M70.8 111.1h0M75.9 111.8h0M76.0 111.6h0M77.7 111.7h0M80.0 111.5h0M84.4 111.9h0M88.6 111.8h0M39.9 112.2h0M61.2 112.7h0M73.5 112.0h0M76.1 112.2h0M84.6 112.5h0M98.5 112.9h0M114.3 112.7h0M81.9 113.4h0M83.8 113.5h0M37.1 114.6h0M41.3 114.8h0M43.2 115.0h0M66.2 114.3h0M72.2 114.4h0M79.2 114.5h0M92.5 114.9h0M37.8 115.5h0M38.7 115.2h0M42.6 115.8h0M43.2 115.1h0M63.5 115.8h0M86.6 115.0h0M36.6 116.5h0M53.5 116.7h0M71.4 116.1h0M91.9 116.9h0M101.3 116.3h0M34.0 117.7h0M40.4 117.3h0M43.6 117.9h0M44.4 117.8h0M45.4 117.9h0M57.3 117.5h0M61.2 117.8h0M75.7 118.0h0M89.7 117.3h0M41.9 118.4h0M62.6 118.4h0M77.8 118.2h0M80.2 118.3h0M54.0 119.2h0M76.3 119.8h0M78.6 119.5h0M44.4 120.7h0M44.8 120.8h0M67.9 120.8h0M82.4 120.1h0M30.4 121.6h0M42.9 121.4h0M48.8 121.8h0M49.3 121.2h0M54.8 121.9h0M83.2 121.3h0M45.5 122.6h0M45.9 122.3h0M47.0 122.4h0M115.3 122.1h0M37.0 123.1h0M43.8 123.3h0M44.1 123.6h0M51.4 124.0h0M80.2 124.0h0M46.2 124.4h0M54.8 124.3h0M107.6 124.1h0M115.8 124.7h0M43.3 125.9h0M47.9 125.4h0M58.2 125.9h0M92.8 125.9h0M93.9 125.9h0M94.9 125.0h0M94.1 125.8h0M95.6 125.5h0M101.0 125.6h0M45.6 126.6h0M67.1 126.8h0M85.5 126.4h0M90.8 126.8h0M109.5 126.7h0M36.0 127.8h0M58.5 127.5h0M86.4 127.4h0M36.7 128.8h0M46.6 128.0h0M46.0 128.5h0M50.7 128.3h0M60.6 128.6h0M57.1 129.4h0M63.0 129.4h0M48.4 130.5h0M68.1 131.0h0M80.1 130.7h0M57.0 131.6h0M57.9 131.2h0M63.1 131.0h0M64.4 131.8h0M68.8 131.7h0M70.0 131.7h0M69.3 132.0h0M101.2 131.1h0M50.9 132.2h0M52.5 132.7h0M61.0 132.7h0M63.6 132.9h0M69.1 132.9h0M69.3 132.6h0M78.1 132.5h0M53.0 133.3h0M54.2 133.6h0M54.3 133.6h0M58.8 133.9h0M58.4 133.5h0M63.0 133.4h0M64.5 133.4h0M88.0 133.2h0M60.3 134.8h0M73.6 134.4h0M84.5 134.7h0M45.8 135.1h0M54.5 135.9h0M55.6 135.2h0M61.5 135.4h0M67.8 135.2h0M102.7 135.2h0M104.9 135.8h0M64.3 136.4h0M81.4 136.0h0M83.4 136.9h0M91.9 136.9h0M79.0 137.9h0M79.6 137.3h0M88.1 137.8h0M56.8 138.9h0M60.0 138.5h0M62.5 138.3h0M69.4 138.1h0M94.9 138.9h0M101.1 138.8h0M110.7 139.0h0M50.0 140.0h0M67.2 139.9h0M89.4 139.7h0M54.4 140.3h0M85.8 140.9h0M71.5 141.1h0M75.0 141.2h0M92.6 141.2h0M53.0 142.1h0M93.8 142.2h0M54.9 143.7h0M63.8 143.2h0M68.1 143.3h0M72.8 143.7h0M74.2 143.8h0M101.1 143.9h0M57.9 144.4h0M76.7 145.8h0M111.7 151.0h0" fill="none" stroke="#900000" stroke-width="0.9" stroke-linecap="round" opacity="0.8"/><path d="M23.8 0.7h0M90.5 0.2h0M25.9 1.2h0M26.1 1.4h0M38.5 1.4h0M64.1 1.1h0M66.7 1.4h0M22.4 2.4h0M25.4 3.0h0M51.0 2.1h0M52.7 2.6h0M61.0 2.9h0M101.0 2.6h0M107.4 2.9h0M17.0 3.3h0M22.5 3.6h0M29.1 3.8h0M107.7 3.6h0M26.0 4.2h0M97.3 4.5h0M55.7 5.8h0M70.4 5.1h0M71.3 5.3h0M77.0 5.9h0M81.0 5.8h0M86.3 5.5h0M89.1 5.7h0M91.8 5.8h0M100.1 5.5h0M19.1 6.8h0M25.1 7.0h0M37.7 6.7h0M108.5 6.1h0M56.9 7.3h0M80.2 7.2h0M81.6 7.5h0M103.1 7.8h0M25.1 8.6h0M82.0 8.6h0M20.6 9.8h0M68.6 9.3h0M79.8 9.7h0M85.3 9.2h0M23.7 10.3h0M24.9 10.4h0M81.0 10.9h0M82.0 10.2h0M87.9 10.6h0M24.3 11.1h0M44.9 11.5h0M86.5 11.1h0M90.8 11.6h0M102.7 11.8h0M105.3 11.6h0M22.3 12.5h0M25.3 12.6h0M66.6 12.3h0M76.6 12.2h0M19.7 13.7h0M54.8 13.5h0M67.4 13.7h0M74.5 13.8h0M86.7 13.9h0M109.8 13.5h0M24.1 14.9h0M50.3 14.6h0M62.2 14.6h0M112.3 14.3h0M15.5 15.4h0M23.5 15.6h0M31.8 16.0h0M77.8 15.6h0M80.7 15.1h0M87.8 15.8h0M87.4 15.8h0M31.6 16.9h0M72.7 16.2h0M73.6 16.5h0M86.6 16.3h0M76.8 17.6h0M87.3 17.8h0M20.6 18.5h0M64.8 18.3h0M81.8 18.4h0M83.4 18.8h0M90.0 18.0h0M92.3 18.2h0M94.1 18.7h0M25.1 19.9h0M66.2 19.2h0M77.2 19.2h0M55.8 20.8h0M64.8 20.7h0M66.0 20.9h0M80.3 20.8h0M88.0 20.5h0M88.8 20.7h0M21.1 21.5h0M34.4 21.2h0M68.5 21.9h0M72.1 21.4h0M84.5 21.2h0M94.2 21.7h0M21.6 22.0h0M45.9 22.7h0M64.5 22.4h0M26.7 23.3h0M79.4 23.6h0M94.6 23.7h0M69.5 24.6h0M69.7 24.9h0M78.1 24.6h0M105.2 24.4h0M108.2 24.2h0M21.0 25.4h0M23.6 25.8h0M46.7 25.5h0M66.1 25.8h0M85.8 25.3h0M92.5 25.8h0M115.0 25.0h0M37.7 26.8h0M57.0 26.4h0M66.2 26.1h0M76.3 26.6h0M77.3 27.0h0M79.8 26.8h0M84.5 26.2h0M100.8 26.3h0M18.9 27.3h0M59.8 27.1h0M64.6 27.9h0M66.5 27.2h0M73.7 27.2h0M73.3 27.4h0M93.7 27.8h0M24.0 28.7h0M52.4 28.9h0M67.6 28.1h0M78.7 28.4h0M32.4 29.3h0M73.0 29.5h0M73.8 30.0h0M91.4 29.0h0M91.7 29.1h0M96.7 29.3h0M22.4 30.4h0M66.6 30.9h0M72.0 30.7h0M75.7 30.6h0M80.6 30.1h0M91.9 30.5h0M27.1 31.4h0M66.4 31.4h0M71.9 31.0h0M84.8 31.5h0M86.4 31.5h0M90.5 31.8h0M90.1 31.3h0M104.3 31.2h0M60.3 32.7h0M70.4 33.0h0M82.1 32.3h0M92.6 32.2h0M103.5 32.7h0M105.4 32.9h0M82.0 33.8h0M86.0 33.8h0M90.5 33.3h0M99.2 33.6h0M100.1 33.9h0M112.2 33.9h0M18.9 34.1h0M52.6 34.2h0M72.9 34.8h0M22.3 35.1h0M56.6 35.6h0M65.6 35.9h0M67.4 35.9h0M72.2 35.1h0M73.1 35.9h0M76.4 35.3h0M82.5 35.9h0M94.7 35.4h0M106.6 35.2h0M108.7 35.9h0M26.4 36.5h0M58.1 36.2h0M63.9 36.7h0M85.3 36.2h0M90.0 36.4h0M89.3 36.4h0M74.5 38.0h0M83.6 37.7h0M86.1 37.7h0M87.3 37.7h0M26.0 38.7h0M59.4 38.8h0M62.1 38.8h0M78.6 38.8h0M82.5 38.2h0M94.8 38.8h0M109.4 38.1h0M111.4 38.5h0M70.6 39.9h0M79.6 40.0h0M94.9 39.6h0M20.7 40.7h0M50.3 40.1h0M56.7 40.9h0M62.9 40.0h0M69.8 40.6h0M83.5 40.9h0M85.7 40.5h0M98.8 40.6h0M21.9 41.4h0M40.0 41.5h0M56.3 41.0h0M70.5 41.0h0M85.3 41.6h0M86.3 41.4h0M88.5 42.0h0M88.4 41.6h0M17.0 42.9h0M37.8 42.8h0M45.9 42.5h0M77.3 42.6h0M111.4 42.2h0M23.6 43.4h0M65.2 43.6h0M67.3 43.6h0M77.0 43.6h0M84.4 43.4h0M94.8 43.7h0M17.7 44.4h0M18.9 44.3h0M41.6 44.6h0M58.5 44.7h0M58.1 44.5h0M60.5 44.6h0M68.1 44.5h0M75.0 44.6h0M88.2 44.3h0M20.3 45.4h0M52.8 45.6h0M56.0 46.0h0M56.9 45.9h0M89.5 45.6h0M21.8 46.3h0M55.9 46.1h0M57.0 46.7h0M61.5 46.5h0M70.6 46.8h0M70.3 46.7h0M78.3 46.4h0M78.6 46.4h0M91.2 46.3h0M101.5 46.4h0M16.4 47.4h0M21.9 47.2h0M50.2 47.9h0M56.6 47.4h0M70.8 47.4h0M74.9 47.3h0M24.4 48.2h0M27.9 48.9h0M68.0 48.5h0M73.0 48.4h0M84.2 48.9h0M85.4 48.4h0M94.2 48.1h0M58.2 49.9h0M84.0 49.7h0M86.1 49.0h0M87.0 49.3h0M91.7 49.6h0M101.3 49.6h0M17.3 50.7h0M55.9 50.3h0M61.6 50.1h0M62.0 50.4h0M89.7 50.9h0M89.8 50.6h0M89.8 50.9h0M95.9 50.2h0M99.1 50.2h0M108.8 50.0h0M22.2 51.1h0M24.0 51.0h0M54.1 51.5h0M59.3 52.0h0M65.6 51.4h0M71.2 51.5h0M81.3 51.3h0M95.8 51.9h0M25.1 52.5h0M59.5 52.8h0M59.4 52.6h0M66.5 52.9h0M80.5 52.2h0M100.0 52.6h0M92.5 53.8h0M23.5 54.1h0M56.3 54.2h0M65.0 54.8h0M68.0 54.3h0M75.1 54.6h0M93.5 54.6h0M97.5 55.0h0M100.4 54.3h0M54.2 55.6h0M80.2 55.8h0M92.7 55.6h0M93.3 55.1h0M102.8 55.5h0M48.3 56.1h0M56.9 56.4h0M63.5 56.3h0M66.7 56.4h0M74.8 56.8h0M82.7 56.3h0M93.3 56.4h0M95.8 56.1h0M24.5 57.9h0M26.5 57.7h0M85.8 57.1h0M96.4 57.3h0M52.7 58.2h0M61.0 58.3h0M63.9 58.8h0M68.4 58.2h0M79.7 58.4h0M86.1 58.6h0M88.6 58.5h0M94.6 58.0h0M96.9 58.7h0M98.4 58.3h0M22.0 59.4h0M23.5 59.7h0M58.9 59.5h0M73.0 59.0h0M90.6 59.6h0M22.9 60.8h0M60.7 60.1h0M65.7 60.7h0M70.6 60.5h0M77.2 60.6h0M78.3 60.1h0M88.9 60.8h0M98.8 60.7h0M104.4 60.4h0M66.9 61.1h0M68.9 61.8h0M73.4 61.8h0M76.4 61.2h0M25.1 62.4h0M65.9 62.7h0M66.3 62.0h0M77.6 62.4h0M79.1 62.3h0M82.6 62.1h0M85.8 62.6h0M87.2 62.6h0M101.3 62.9h0M21.3 64.0h0M63.8 63.9h0M67.5 63.6h0M70.5 64.0h0M83.8 63.1h0M91.7 63.1h0M93.4 63.0h0M22.0 64.2h0M62.0 64.8h0M62.4 64.9h0M67.9 64.6h0M76.6 64.4h0M82.3 64.8h0M97.0 64.0h0M99.7 64.9h0M99.7 64.4h0M52.9 65.0h0M59.7 65.1h0M23.9 66.9h0M25.4 66.2h0M70.7 66.6h0M76.4 66.3h0M80.1 66.3h0M25.1 67.4h0M68.6 67.8h0M80.2 67.5h0M83.0 67.3h0M82.5 67.3h0M93.2 67.5h0M18.6 68.4h0M18.3 68.3h0M26.4 68.2h0M59.1 68.9h0M74.8 68.2h0M78.7 68.2h0M81.1 68.3h0M92.7 69.0h0M104.8 68.8h0M23.3 69.6h0M26.7 69.8h0M68.1 69.4h0M71.1 69.5h0M93.3 69.9h0M70.9 70.5h0M80.8 70.1h0M88.9 70.4h0M93.6 70.7h0M25.7 71.5h0M37.8 71.1h0M52.1 71.1h0M77.3 71.6h0M12.1 72.7h0M25.8 72.5h0M28.8 72.6h0M55.4 72.5h0M64.7 72.3h0M68.8 72.7h0M76.5 72.3h0M87.5 72.8h0M99.0 72.8h0M101.1 72.1h0M64.8 73.6h0M69.5 73.0h0M75.8 73.4h0M84.6 73.7h0M88.8 73.6h0M108.4 73.6h0M24.8 75.0h0M60.1 74.7h0M60.5 75.0h0M63.0 74.6h0M65.8 75.0h0M66.4 74.4h0M73.5 74.2h0M76.9 74.5h0M77.6 74.3h0M83.8 74.1h0M87.1 74.1h0M99.0 74.4h0M28.6 75.2h0M66.7 75.1h0M87.8 75.8h0M90.6 75.1h0M25.5 76.2h0M56.1 76.6h0M60.9 76.8h0M61.2 77.0h0M66.6 76.5h0M73.9 76.9h0M85.6 76.8h0M88.2 76.2h0M95.8 76.1h0M27.8 77.1h0M30.4 77.8h0M56.8 77.2h0M79.6 77.9h0M81.9 77.7h0M88.4 77.4h0M92.0 77.9h0M23.5 78.3h0M64.6 78.9h0M87.9 78.6h0M88.0 79.0h0M27.2 79.8h0M57.5 79.6h0M59.6 79.6h0M66.5 79.0h0M81.2 79.5h0M87.1 79.2h0M24.8 80.9h0M57.9 80.7h0M77.2 80.3h0M93.3 80.1h0M98.1 80.6h0M99.6 80.3h0M101.0 80.9h0M47.1 81.7h0M73.1 81.1h0M81.6 81.3h0M89.1 81.7h0M91.3 81.7h0M96.7 81.7h0M60.2 82.1h0M83.7 82.9h0M87.7 82.0h0M92.7 82.3h0M66.3 83.6h0M71.9 83.4h0M79.0 83.3h0M79.8 83.3h0M96.8 83.1h0M26.6 84.9h0M73.4 84.6h0M95.7 84.3h0M102.8 84.2h0M24.4 85.9h0M27.9 85.2h0M29.8 85.8h0M60.7 85.7h0M66.6 85.9h0M68.2 85.9h0M99.6 85.7h0M60.1 86.8h0M65.7 86.3h0M79.2 86.4h0M87.2 86.0h0M100.0 86.7h0M72.9 87.7h0M78.2 88.0h0M98.6 87.9h0M104.5 87.2h0M31.4 88.6h0M48.5 88.8h0M61.8 88.3h0M66.7 88.1h0M69.6 88.9h0M74.6 88.6h0M78.6 88.0h0M82.2 88.4h0M99.3 88.4h0M27.5 89.8h0M60.6 89.3h0M62.5 89.3h0M76.2 89.4h0M82.4 89.9h0M93.7 89.4h0M24.6 90.5h0M24.8 90.8h0M31.2 90.1h0M57.8 90.8h0M64.5 90.1h0M76.7 90.9h0M83.5 90.6h0M87.0 90.2h0M91.9 90.8h0M55.1 91.9h0M58.3 91.8h0M69.6 91.1h0M73.8 91.1h0M82.3 91.7h0M93.5 91.6h0M26.7 92.2h0M74.6 92.8h0M74.4 92.8h0M86.6 92.6h0M96.9 92.3h0M98.9 92.8h0M108.4 92.0h0M49.0 93.4h0M53.2 93.2h0M54.5 93.9h0M57.8 93.2h0M62.4 93.5h0M64.2 94.0h0M66.5 93.3h0M71.0 93.3h0M73.6 93.2h0M89.8 93.6h0M107.0 93.9h0M54.0 94.9h0M67.1 94.3h0M24.2 95.8h0M35.6 95.4h0M35.9 95.3h0M59.5 95.4h0M61.3 95.2h0M64.3 95.9h0M91.3 95.4h0M92.2 95.9h0M99.4 96.0h0M45.0 96.6h0M68.7 96.5h0M69.5 96.0h0M84.1 96.9h0M87.7 96.3h0M91.7 96.9h0M23.7 97.6h0M29.6 97.8h0M31.6 97.7h0M59.3 97.1h0M62.4 97.5h0M66.1 97.2h0M67.7 97.5h0M68.0 97.8h0M30.3 98.5h0M37.7 98.5h0M60.0 98.8h0M65.7 98.5h0M66.1 98.9h0M80.0 98.6h0M91.9 98.9h0M92.6 98.1h0M114.1 98.1h0M34.9 99.7h0M35.5 99.3h0M40.0 99.8h0M61.7 99.2h0M72.4 99.9h0M92.7 99.2h0M93.1 99.5h0M94.1 99.6h0M100.5 99.4h0M40.4 100.8h0M62.9 100.2h0M74.4 100.9h0M81.9 100.2h0M84.0 100.1h0M103.8 100.6h0M53.8 101.2h0M54.0 101.5h0M53.7 102.0h0M54.2 101.5h0M82.5 101.5h0M87.9 101.0h0M93.0 101.6h0M31.9 102.5h0M34.0 102.1h0M35.2 102.4h0M37.6 102.9h0M51.4 102.2h0M55.1 102.9h0M71.5 102.3h0M82.8 102.6h0M84.7 102.1h0M89.1 102.0h0M32.8 103.3h0M41.6 103.9h0M66.1 103.7h0M68.6 103.3h0M77.0 103.6h0M91.3 103.0h0M100.5 103.8h0M63.3 104.2h0M71.0 104.1h0M72.2 104.0h0M76.9 104.9h0M81.3 104.2h0M112.5 104.9h0M33.4 105.7h0M42.2 105.2h0M74.0 105.3h0M80.4 105.2h0M104.2 105.6h0M32.6 106.0h0M43.2 106.9h0M64.2 106.6h0M77.2 106.2h0M84.1 106.4h0M87.0 106.6h0M89.9 106.3h0M91.8 106.5h0M59.6 107.6h0M77.7 107.5h0M81.4 107.8h0M95.3 107.4h0M30.5 108.7h0M34.9 108.3h0M35.6 108.2h0M41.1 108.5h0M70.0 108.6h0M92.7 108.2h0M32.4 109.2h0M68.6 109.8h0M75.2 109.5h0M85.8 109.8h0M91.3 109.6h0M38.8 110.4h0M76.8 110.8h0M82.5 110.1h0M87.4 110.8h0M89.4 110.8h0M95.2 110.8h0M34.1 111.3h0M64.7 111.0h0M74.9 111.2h0M84.8 111.1h0M85.2 111.9h0M85.8 111.4h0M105.3 111.3h0M76.0 112.5h0M84.8 112.8h0M36.6 113.5h0M40.6 113.3h0M43.3 113.6h0M54.0 113.6h0M65.2 114.0h0M73.5 113.5h0M74.5 113.2h0M78.2 114.0h0M34.2 114.7h0M90.7 114.6h0M44.4 115.8h0M72.4 115.5h0M79.2 115.3h0M38.6 116.3h0M39.5 116.0h0M49.1 116.5h0M67.5 116.6h0M77.1 116.1h0M34.0 117.9h0M44.3 117.1h0M71.5 117.3h0M106.1 117.5h0M45.8 118.9h0M85.2 119.4h0M113.0 119.8h0M39.7 121.0h0M48.0 121.7h0M49.6 121.3h0M39.5 122.1h0M100.2 122.2h0M44.2 123.4h0M54.0 123.6h0M66.9 124.7h0M114.7 124.4h0M51.9 125.2h0M72.6 125.2h0M53.5 127.0h0M50.0 127.7h0M106.1 128.8h0M44.2 129.5h0M54.5 130.0h0M102.8 129.1h0M101.7 130.4h0M47.5 131.7h0M50.1 131.1h0M54.0 131.6h0M53.9 131.9h0M54.8 131.7h0M70.3 132.0h0M56.7 132.3h0M56.3 132.9h0M59.5 132.8h0M62.6 132.9h0M63.7 132.0h0M72.6 132.8h0M50.1 133.4h0M75.5 133.8h0M50.6 134.7h0M51.0 134.9h0M89.2 134.7h0M60.5 136.9h0M87.8 136.5h0M66.7 137.3h0M59.7 138.8h0M65.1 138.5h0M80.6 138.8h0M100.8 138.5h0M102.7 138.7h0M54.0 139.7h0M85.4 139.9h0M101.2 139.9h0M106.8 139.9h0M106.3 139.2h0M63.6 140.4h0M80.7 140.9h0M60.8 142.9h0M83.5 144.1h0M97.3 144.4h0" fill="none" stroke="#c80000" stroke-width="1.15" stroke-linecap="round" opacity="0.9"/><path d="M22.1 0.8h0M55.3 0.7h0M46.2 3.8h0M75.8 4.2h0M77.4 4.1h0M21.4 5.5h0M86.5 5.5h0M49.3 9.0h0M50.7 12.1h0M74.8 12.7h0M76.7 12.7h0M76.3 13.7h0M32.3 14.2h0M37.9 15.1h0M62.5 15.8h0M74.3 16.4h0M24.7 17.9h0M16.4 18.8h0M83.3 18.4h0M60.8 19.5h0M115.6 19.2h0M26.1 20.9h0M26.5 20.6h0M69.3 20.7h0M75.4 20.9h0M75.6 21.0h0M18.0 21.4h0M68.7 21.1h0M17.0 22.3h0M97.6 23.4h0M22.2 25.7h0M40.2 26.7h0M68.6 26.9h0M112.2 26.5h0M74.5 27.9h0M82.0 28.0h0M82.5 27.2h0M83.2 27.8h0M30.6 28.7h0M69.8 29.0h0M78.6 28.7h0M22.0 29.6h0M107.0 29.5h0M91.4 30.8h0M78.4 31.7h0M97.4 31.9h0M22.3 32.1h0M75.7 32.0h0M18.8 33.9h0M19.5 33.1h0M62.0 33.7h0M71.9 34.8h0M78.4 34.8h0M80.4 34.6h0M94.3 34.2h0M95.3 34.6h0M26.2 36.1h0M47.7 36.3h0M61.5 36.7h0M68.5 37.8h0M77.4 37.6h0M77.5 37.8h0M79.9 37.2h0M85.0 37.4h0M19.9 38.4h0M85.1 38.7h0M65.7 39.1h0M90.1 39.6h0M77.2 40.4h0M88.6 40.8h0M95.1 40.1h0M80.8 42.6h0M84.7 42.7h0M59.1 43.6h0M94.7 43.4h0M101.3 43.6h0M27.9 44.6h0M69.3 44.6h0M72.4 44.9h0M90.5 44.1h0M93.6 44.5h0M99.0 44.2h0M70.4 45.3h0M73.1 45.6h0M83.3 45.4h0M53.2 46.6h0M82.7 46.1h0M86.2 46.9h0M86.8 46.1h0M98.0 46.9h0M18.4 47.3h0M70.4 47.9h0M80.9 48.0h0M63.9 48.0h0M94.1 48.1h0M92.1 49.8h0M92.4 49.3h0M24.5 51.0h0M99.8 51.2h0M20.1 52.3h0M111.1 52.0h0M61.5 53.6h0M86.6 53.7h0M20.6 54.5h0M72.2 54.6h0M84.5 54.6h0M93.6 54.9h0M69.3 55.4h0M59.3 56.5h0M22.8 57.1h0M90.6 57.6h0M70.9 59.6h0M86.4 59.0h0M33.6 60.7h0M39.2 60.5h0M82.9 60.8h0M85.1 60.7h0M95.3 62.0h0M75.8 62.1h0M83.3 62.6h0M65.6 63.7h0M68.2 63.4h0M57.4 64.1h0M68.1 65.0h0M79.9 65.0h0M80.4 65.0h0M86.0 64.1h0M26.4 65.2h0M62.7 65.2h0M67.4 65.6h0M71.4 65.1h0M74.5 65.3h0M87.2 65.1h0M45.7 66.1h0M69.4 66.4h0M86.1 66.7h0M89.1 66.5h0M101.5 66.5h0M55.2 67.6h0M25.8 68.6h0M58.8 68.4h0M85.4 68.5h0M17.3 69.8h0M83.4 69.7h0M101.9 69.2h0M77.7 70.5h0M97.0 70.5h0M98.4 70.6h0M62.9 71.1h0M63.9 71.0h0M69.5 71.6h0M72.5 72.4h0M81.8 72.7h0M80.1 73.1h0M104.9 73.7h0M79.2 75.0h0M82.5 74.6h0M67.0 75.8h0M75.5 75.2h0M61.0 76.0h0M75.9 77.0h0M85.7 76.7h0M86.7 76.3h0M76.5 77.3h0M72.1 78.5h0M74.0 78.2h0M91.6 78.4h0M51.0 79.3h0M59.6 79.4h0M79.5 79.2h0M86.6 79.7h0M35.2 80.6h0M56.1 81.7h0M26.5 82.0h0M56.1 82.7h0M79.7 83.0h0M85.8 84.3h0M97.5 84.1h0M40.6 85.2h0M60.6 85.5h0M89.9 85.9h0M59.6 86.9h0M73.8 86.6h0M90.6 86.5h0M99.6 86.0h0M63.1 87.2h0M73.0 87.9h0M42.6 89.8h0M70.5 89.9h0M89.4 89.3h0M100.4 89.4h0M64.8 90.3h0M82.7 90.7h0M100.2 90.2h0M24.0 91.9h0M100.3 91.0h0M65.6 93.0h0M19.7 93.6h0M68.2 93.3h0M84.0 93.8h0M99.7 93.1h0M57.6 95.3h0M63.4 95.8h0M65.1 95.7h0M95.6 95.2h0M81.4 96.8h0M82.5 96.3h0M37.8 97.4h0M71.9 97.5h0M82.7 97.0h0M31.6 98.4h0M39.7 98.1h0M80.2 98.0h0M89.3 98.6h0M29.3 100.2h0M76.1 100.3h0M77.8 100.5h0M74.5 101.3h0M80.5 101.1h0M30.0 103.2h0M43.1 103.8h0M36.7 104.9h0M73.7 104.4h0M75.5 104.2h0M67.6 107.9h0M80.0 107.4h0M86.2 107.9h0M84.2 108.2h0M32.7 109.6h0M79.9 109.9h0M44.3 110.8h0M74.2 111.2h0M44.6 112.2h0M80.1 112.6h0M84.9 112.8h0M60.5 113.1h0M67.2 114.8h0M43.7 115.9h0M71.3 115.8h0M71.1 115.9h0M85.3 116.3h0M54.0 118.3h0M64.4 118.7h0M96.5 118.1h0M101.4 118.1h0M47.6 119.7h0M63.0 121.1h0M39.6 123.8h0M47.5 124.7h0M95.8 126.7h0M45.9 128.8h0M52.0 130.1h0M52.1 130.2h0M86.3 133.0h0M59.4 133.6h0M92.5 133.6h0M66.2 136.8h0M72.7 136.5h0M49.9 137.5h0M84.6 137.1h0M60.9 140.9h0M80.3 140.4h0M93.1 142.0h0M92.3 143.3h0" fill="none" stroke="#f80c0c" stroke-width="1.5" stroke-linecap="round" opacity="1.0"/></g>
<g transform="translate(142 195)"><path d="M109.5 55 L110.5 60" fill="none" stroke="#e00" stroke-width="1.6" stroke-linecap="round"/></g>
</g>
<text x="25.0" y="47.0" font-size="10.6" style="fill:#e8000a;stroke:#e8000a">AT8</text>
<rect x="231" y="342.1" width="22.6" height="1.9" fill="#fff"/>
<g clip-path="url(#cl4)">
<rect x="426" y="29.8" width="126.6" height="70.4" fill="#000"/>
<g filter="url(#sp4)" opacity=".32"><rect x="426" y="29.8" width="126.6" height="70.4" fill="#666"/></g>
<path d="M435.6 83.9C436.9 78.6 440.1 74.6 443.3 70.4C446.5 66.2 450.0 62.6 454.8 58.8C459.6 54.9 466.1 50.2 472.2 47.3C478.3 44.4 485.3 42.8 491.4 41.5C497.5 40.2 504.0 39.3 508.8 39.6C513.6 39.9 516.4 41.5 520.3 43.4C524.1 45.3 528.4 48.2 531.9 51.1C535.4 54.0 538.9 58.2 541.5 60.8C544.1 63.4 546.0 64.5 547.3 66.5C548.6 68.5 550.5 71.2 549.2 72.8C547.9 74.4 542.5 75.0 539.6 76.2C536.7 77.4 534.5 78.6 531.9 80.0C529.3 81.4 527.1 84.1 524.2 84.8C521.3 85.5 517.8 85.0 514.6 83.9C511.4 82.8 509.1 79.7 504.9 78.1C500.7 76.5 494.6 74.8 489.5 74.2C484.4 73.6 478.6 73.6 474.1 74.2C469.6 74.8 465.4 76.5 462.5 78.1C459.6 79.7 458.1 81.3 456.8 83.9C455.5 86.5 455.5 90.5 454.8 93.5C454.1 96.5 456.1 100.6 452.9 102.0C449.7 103.4 438.5 105.0 435.6 102.0C432.7 99.0 434.3 89.2 435.6 83.9Z" fill="#f00" fill-opacity=".55" filter="url(#gr0)"/>
<path d="M435.6 83.9C436.9 78.6 440.1 74.6 443.3 70.4C446.5 66.2 450.0 62.6 454.8 58.8C459.6 54.9 466.1 50.2 472.2 47.3C478.3 44.4 485.3 42.8 491.4 41.5C497.5 40.2 504.0 39.3 508.8 39.6C513.6 39.9 516.4 41.5 520.3 43.4C524.1 45.3 528.4 48.2 531.9 51.1C535.4 54.0 538.9 58.2 541.5 60.8C544.1 63.4 546.0 64.5 547.3 66.5C548.6 68.5 550.5 71.2 549.2 72.8C547.9 74.4 542.5 75.0 539.6 76.2C536.7 77.4 534.5 78.6 531.9 80.0C529.3 81.4 527.1 84.1 524.2 84.8C521.3 85.5 517.8 85.0 514.6 83.9C511.4 82.8 509.1 79.7 504.9 78.1C500.7 76.5 494.6 74.8 489.5 74.2C484.4 73.6 478.6 73.6 474.1 74.2C469.6 74.8 465.4 76.5 462.5 78.1C459.6 79.7 458.1 81.3 456.8 83.9C455.5 86.5 455.5 90.5 454.8 93.5C454.1 96.5 456.1 100.6 452.9 102.0C449.7 103.4 438.5 105.0 435.6 102.0C432.7 99.0 434.3 89.2 435.6 83.9Z" fill="#900" opacity=".2" filter="url(#b4)"/>
<path d="M435.6 83.9C436.9 81.7 440.1 74.6 443.3 70.4C446.5 66.2 450.0 62.6 454.8 58.8C459.6 54.9 466.1 50.2 472.2 47.3C478.3 44.4 485.3 42.8 491.4 41.5C497.5 40.2 504.0 39.3 508.8 39.6C513.6 39.9 516.4 41.5 520.3 43.4C524.1 45.3 528.4 48.2 531.9 51.1C535.4 54.0 538.9 58.2 541.5 60.8C544.1 63.4 546.3 65.5 547.3 66.5" fill="none" stroke="#000" stroke-width="15" opacity=".33" filter="url(#b2)"/>
<path d="M474.1 67.5C476.7 67.1 484.4 65.2 489.5 65.2C494.6 65.2 499.8 65.6 504.9 67.2C510.0 68.8 516.4 72.8 520.3 74.6C524.1 76.4 526.7 77.5 528.0 78.1" fill="none" stroke="#f01010" stroke-width="4.5" opacity=".4" stroke-linecap="round" filter="url(#b1)"/>
<ellipse cx="446" cy="80" rx="6" ry="7" fill="#e00" opacity=".3" filter="url(#b2)"/><ellipse cx="545.5" cy="70" rx="4" ry="4" fill="#f00" opacity=".55" filter="url(#b1)"/><ellipse cx="541.5" cy="43.4" rx="5" ry="2" fill="#e00" opacity=".5" filter="url(#b1)"/><path d="M518 88 L520 93" stroke="#c00" stroke-width="1.4" fill="none"/>
</g>
<g clip-path="url(#cl5)">
<rect x="557" y="29.8" width="127.2" height="70.4" fill="#000"/>
<g filter="url(#sp5)" opacity=".32"><rect x="557" y="29.8" width="127.2" height="70.4" fill="#666"/></g>
<path d="M562.6 71.7C564.4 69.7 568.9 65.7 574.0 62.2C579.1 58.7 586.7 54.0 593.0 50.8C599.3 47.6 605.6 45.1 611.9 43.2C618.2 41.3 625.5 39.7 630.9 39.4C636.3 39.1 639.8 39.7 644.2 41.3C648.6 42.9 653.4 46.4 657.5 48.9C661.6 51.4 666.0 54.6 668.9 56.5C671.8 58.4 673.3 58.1 674.6 60.3C675.9 62.5 676.2 66.8 676.5 69.8C676.8 72.8 677.8 76.1 676.5 78.0C675.2 79.9 672.1 79.6 668.9 81.1C665.7 82.6 660.0 86.2 657.5 86.8C655.0 87.4 655.9 86.2 653.7 84.9C651.5 83.6 647.4 81.1 644.2 79.2C641.0 77.3 638.5 74.9 634.7 73.5C630.9 72.1 625.8 70.9 621.4 70.7C617.0 70.5 612.8 71.8 608.1 72.6C603.4 73.4 597.1 74.4 593.0 75.4C588.9 76.4 585.2 76.7 583.5 78.5C581.8 80.3 584.0 82.1 583.0 86.0C582.0 89.9 581.3 99.3 577.8 102.0C574.3 104.7 563.6 104.8 562.0 102.0C560.4 99.2 566.8 88.9 568.3 84.9C569.8 80.9 571.8 79.7 571.0 78.0C570.2 76.3 564.9 75.5 563.5 74.5C562.1 73.5 560.9 73.8 562.6 71.7Z" fill="#f00" fill-opacity=".55" filter="url(#gr1)"/>
<path d="M562.6 71.7C564.4 69.7 568.9 65.7 574.0 62.2C579.1 58.7 586.7 54.0 593.0 50.8C599.3 47.6 605.6 45.1 611.9 43.2C618.2 41.3 625.5 39.7 630.9 39.4C636.3 39.1 639.8 39.7 644.2 41.3C648.6 42.9 653.4 46.4 657.5 48.9C661.6 51.4 666.0 54.6 668.9 56.5C671.8 58.4 673.3 58.1 674.6 60.3C675.9 62.5 676.2 66.8 676.5 69.8C676.8 72.8 677.8 76.1 676.5 78.0C675.2 79.9 672.1 79.6 668.9 81.1C665.7 82.6 660.0 86.2 657.5 86.8C655.0 87.4 655.9 86.2 653.7 84.9C651.5 83.6 647.4 81.1 644.2 79.2C641.0 77.3 638.5 74.9 634.7 73.5C630.9 72.1 625.8 70.9 621.4 70.7C617.0 70.5 612.8 71.8 608.1 72.6C603.4 73.4 597.1 74.4 593.0 75.4C588.9 76.4 585.2 76.7 583.5 78.5C581.8 80.3 584.0 82.1 583.0 86.0C582.0 89.9 581.3 99.3 577.8 102.0C574.3 104.7 563.6 104.8 562.0 102.0C560.4 99.2 566.8 88.9 568.3 84.9C569.8 80.9 571.8 79.7 571.0 78.0C570.2 76.3 564.9 75.5 563.5 74.5C562.1 73.5 560.9 73.8 562.6 71.7Z" fill="#900" opacity=".2" filter="url(#b4)"/>
<path d="M562.6 71.7C564.5 70.1 568.9 65.7 574.0 62.2C579.1 58.7 586.7 54.0 593.0 50.8C599.3 47.6 605.6 45.1 611.9 43.2C618.2 41.3 625.5 39.7 630.9 39.4C636.3 39.1 639.8 39.7 644.2 41.3C648.6 42.9 653.4 46.4 657.5 48.9C661.6 51.4 666.0 54.6 668.9 56.5C671.8 58.4 673.6 59.7 674.6 60.3" fill="none" stroke="#000" stroke-width="15" opacity=".33" filter="url(#b2)"/>
<path d="M617.6 69.5C620.5 69.5 630.0 68.5 634.7 69.5C639.5 70.5 642.3 73.2 646.1 75.2C649.9 77.2 653.7 81.2 657.5 81.6C661.3 82.0 665.7 78.9 668.9 77.6C672.1 76.3 675.2 74.6 676.5 74.0" fill="none" stroke="#f01010" stroke-width="4.5" opacity=".4" stroke-linecap="round" filter="url(#b1)"/>
<path d="M655.6 39.4 L661.3 33.7 L670.8 30.8 L672.7 35.6 L668.9 46 L663.2 42.2Z" fill="#f00" opacity=".9" filter="url(#b1)"/><path d="M564.5 31.8 L568.3 39.4 L574 46" stroke="#a00" stroke-width="1" fill="none"/><path d="M663.2 90.6 L668.9 87 L676.5 86" stroke="#900" stroke-width="1.2" fill="none"/>
</g>
<g clip-path="url(#cl6)">
<rect x="426" y="105" width="126.6" height="70.2" fill="#000"/>
<g filter="url(#sp6)" opacity=".32"><rect x="426" y="105" width="126.6" height="70.2" fill="#666"/></g>
<path d="M437.5 158.9C438.8 156.1 440.7 149.6 443.3 145.4C445.9 141.2 448.7 137.3 452.9 133.8C457.1 130.3 462.5 126.8 468.3 124.2C474.1 121.6 481.2 119.7 487.6 118.4C494.0 117.1 502.1 116.2 506.9 116.5C511.7 116.8 513.0 118.0 516.5 120.3C520.0 122.5 524.5 126.8 528.0 130.0C531.5 133.2 535.5 136.7 537.7 139.6C540.0 142.5 540.9 145.0 541.5 147.3C542.1 149.6 543.1 151.9 541.5 153.3C539.9 154.8 534.8 155.1 531.9 156.0C529.0 156.9 526.8 157.8 524.2 158.9C521.6 160.0 518.8 162.4 516.5 162.7C514.2 163.0 512.6 162.1 510.7 160.8C508.8 159.5 507.5 156.9 504.9 155.0C502.3 153.1 499.1 150.5 495.3 149.2C491.5 147.9 486.0 147.3 481.8 147.3C477.6 147.3 473.4 147.9 470.2 149.2C467.0 150.5 464.4 152.8 462.5 155.0C460.6 157.2 459.6 159.0 458.7 162.7C457.8 166.4 460.6 174.6 456.8 177.0C453.0 179.4 439.1 179.5 435.6 177.0C432.1 174.5 435.3 165.0 435.6 162.0C435.9 159.0 436.2 161.7 437.5 158.9Z" fill="#f00" fill-opacity=".55" filter="url(#gr2)"/>
<path d="M437.5 158.9C438.8 156.1 440.7 149.6 443.3 145.4C445.9 141.2 448.7 137.3 452.9 133.8C457.1 130.3 462.5 126.8 468.3 124.2C474.1 121.6 481.2 119.7 487.6 118.4C494.0 117.1 502.1 116.2 506.9 116.5C511.7 116.8 513.0 118.0 516.5 120.3C520.0 122.5 524.5 126.8 528.0 130.0C531.5 133.2 535.5 136.7 537.7 139.6C540.0 142.5 540.9 145.0 541.5 147.3C542.1 149.6 543.1 151.9 541.5 153.3C539.9 154.8 534.8 155.1 531.9 156.0C529.0 156.9 526.8 157.8 524.2 158.9C521.6 160.0 518.8 162.4 516.5 162.7C514.2 163.0 512.6 162.1 510.7 160.8C508.8 159.5 507.5 156.9 504.9 155.0C502.3 153.1 499.1 150.5 495.3 149.2C491.5 147.9 486.0 147.3 481.8 147.3C477.6 147.3 473.4 147.9 470.2 149.2C467.0 150.5 464.4 152.8 462.5 155.0C460.6 157.2 459.6 159.0 458.7 162.7C457.8 166.4 460.6 174.6 456.8 177.0C453.0 179.4 439.1 179.5 435.6 177.0C432.1 174.5 435.3 165.0 435.6 162.0C435.9 159.0 436.2 161.7 437.5 158.9Z" fill="#900" opacity=".2" filter="url(#b4)"/>
<path d="M437.5 158.9C438.5 156.7 440.7 149.6 443.3 145.4C445.9 141.2 448.7 137.3 452.9 133.8C457.1 130.3 462.5 126.8 468.3 124.2C474.1 121.6 481.2 119.7 487.6 118.4C494.0 117.1 502.1 116.2 506.9 116.5C511.7 116.8 513.0 118.0 516.5 120.3C520.0 122.5 524.5 126.8 528.0 130.0C531.5 133.2 535.5 136.7 537.7 139.6C540.0 142.5 540.9 146.0 541.5 147.3" fill="none" stroke="#000" stroke-width="15" opacity=".33" filter="url(#b2)"/>
<path d="M472.2 144.4C474.4 143.7 481.5 140.6 485.7 140.0C489.9 139.4 493.7 139.8 497.2 141.0C500.7 142.2 504.0 145.2 506.9 147.5C509.8 149.8 512.4 153.1 514.6 155.0C516.8 156.9 519.3 158.2 520.3 158.9" fill="none" stroke="#f01010" stroke-width="4.5" opacity=".4" stroke-linecap="round" filter="url(#b1)"/>
<ellipse cx="446" cy="150" rx="6" ry="7" fill="#e00" opacity=".28" filter="url(#b2)"/><rect x="470.4" y="150.4" width="5" height="6" fill="#a00" opacity=".8" filter="url(#b1)"/><ellipse cx="537" cy="152.5" rx="4.5" ry="3" fill="#f00" opacity=".45" filter="url(#b1)"/><path d="M490.5 163 L491.5 170" stroke="#c00" stroke-width="1.8" fill="none"/>
</g>
<g clip-path="url(#cl7)">
<rect x="557" y="105" width="127.2" height="70.2" fill="#000"/>
<g filter="url(#sp7)" opacity=".32"><rect x="557" y="105" width="127.2" height="70.2" fill="#666"/></g>
<path d="M562.6 159.9C563.2 157.1 563.9 152.3 566.4 148.5C568.9 144.7 573.4 140.7 577.8 137.2C582.2 133.7 587.3 130.6 593.0 127.7C598.7 124.9 605.6 122.0 611.9 120.1C618.2 118.2 625.5 116.8 630.9 116.3C636.3 115.8 639.8 115.9 644.2 117.2C648.6 118.5 653.4 120.9 657.5 123.9C661.6 126.9 666.0 131.5 668.9 135.3C671.8 139.1 673.3 143.8 674.6 146.7C675.9 149.6 677.8 151.2 676.5 152.5C675.2 153.8 669.5 153.3 667.0 154.2C664.5 155.1 663.5 157.1 661.3 158.0C659.1 158.9 656.2 159.9 653.7 159.9C651.2 159.9 648.6 159.3 646.1 158.0C643.6 156.7 641.7 154.0 638.5 152.3C635.3 150.6 631.5 148.7 627.1 147.6C622.7 146.5 616.3 145.7 611.9 145.7C607.5 145.7 603.6 146.8 600.5 147.6C597.4 148.4 594.9 149.3 593.0 150.4C591.1 151.5 590.2 152.0 589.2 154.2C588.2 156.4 588.2 159.9 587.3 163.7C586.3 167.5 587.0 174.8 583.5 177.0C580.0 179.2 569.9 178.9 566.4 177.0C562.9 175.1 563.2 168.4 562.6 165.6C562.0 162.8 562.0 162.8 562.6 159.9Z" fill="#f00" fill-opacity=".55" filter="url(#gr3)"/>
<path d="M562.6 159.9C563.2 157.1 563.9 152.3 566.4 148.5C568.9 144.7 573.4 140.7 577.8 137.2C582.2 133.7 587.3 130.6 593.0 127.7C598.7 124.9 605.6 122.0 611.9 120.1C618.2 118.2 625.5 116.8 630.9 116.3C636.3 115.8 639.8 115.9 644.2 117.2C648.6 118.5 653.4 120.9 657.5 123.9C661.6 126.9 666.0 131.5 668.9 135.3C671.8 139.1 673.3 143.8 674.6 146.7C675.9 149.6 677.8 151.2 676.5 152.5C675.2 153.8 669.5 153.3 667.0 154.2C664.5 155.1 663.5 157.1 661.3 158.0C659.1 158.9 656.2 159.9 653.7 159.9C651.2 159.9 648.6 159.3 646.1 158.0C643.6 156.7 641.7 154.0 638.5 152.3C635.3 150.6 631.5 148.7 627.1 147.6C622.7 146.5 616.3 145.7 611.9 145.7C607.5 145.7 603.6 146.8 600.5 147.6C597.4 148.4 594.9 149.3 593.0 150.4C591.1 151.5 590.2 152.0 589.2 154.2C588.2 156.4 588.2 159.9 587.3 163.7C586.3 167.5 587.0 174.8 583.5 177.0C580.0 179.2 569.9 178.9 566.4 177.0C562.9 175.1 563.2 168.4 562.6 165.6C562.0 162.8 562.0 162.8 562.6 159.9Z" fill="#900" opacity=".2" filter="url(#b4)"/>
<path d="M562.6 159.9C563.2 158.0 563.9 152.3 566.4 148.5C568.9 144.7 573.4 140.7 577.8 137.2C582.2 133.7 587.3 130.6 593.0 127.7C598.7 124.9 605.6 122.0 611.9 120.1C618.2 118.2 625.5 116.8 630.9 116.3C636.3 115.8 639.8 115.9 644.2 117.2C648.6 118.5 653.4 120.9 657.5 123.9C661.6 126.9 666.0 131.5 668.9 135.3C671.8 139.1 673.6 144.8 674.6 146.7" fill="none" stroke="#000" stroke-width="15" opacity=".33" filter="url(#b2)"/>
<path d="M602.4 143.8C604.9 143.5 612.9 141.9 617.6 141.9C622.4 141.9 626.8 142.5 630.9 143.8C635.0 145.1 638.5 147.4 642.3 149.5C646.1 151.6 651.8 155.0 653.7 156.1" fill="none" stroke="#f01010" stroke-width="4.5" opacity=".4" stroke-linecap="round" filter="url(#b1)"/>
<path d="M574 158 L587.3 152.3 L589.2 155.2 L583.5 165.6 L579.7 173.2 L575.9 165.6Z" fill="#f00" opacity=".5" filter="url(#b2)"/><path d="M621.6 158 L620 163.7" stroke="#f00" stroke-width="1.8" fill="none"/><path d="M652 160 L660 158.5 L668 153.5 L676 152" stroke="#e00" stroke-width="1.6" fill="none" opacity=".7" filter="url(#b1)"/>
</g>
<text x="427.4" y="41.0" font-size="10.6" style="fill:#e8000a;stroke:#e8000a">AT8</text>
<rect x="657.3" y="169.8" width="21.2" height="1.7" fill="#e4e4e4"/>
<g id="pB">
<rect x="319.9" y="119.1" width="23.3" height="30.7" class="bar"/>
<rect x="356.9" y="129.2" width="23.3" height="20.6" class="bar"/>
<path d="M331.5 104.4V133.8M325.3 104.4H337.7M325.3 133.8H337.7M368.5 117.5V141M362.3 117.5H374.7M362.3 141H374.7" class="ln"/>
<path d="M307.4 26.45V61.85M307.4 69.95V150.35M306.85 149.8H393.9M301.65 27H307.4M301.65 40.7H307.4M301.65 54.4H307.4M301.65 86.2H307.4M301.65 118.1H307.4M301.65 149.8H307.4M304.15 61.3H310.65M304.15 70.5H310.65M331.55 149.8V154.8M368.55 149.8V154.8" class="ln"/>
<text transform="translate(300.4 30.45) scale(0.9 1)" font-size="9.5" text-anchor="end">15</text>
<text transform="translate(300.4 44.15) scale(0.9 1)" font-size="9.5" text-anchor="end">10</text>
<text transform="translate(300.4 57.85) scale(0.9 1)" font-size="9.5" text-anchor="end">5</text>
<text transform="translate(300.4 89.65) scale(0.9 1)" font-size="9.5" text-anchor="end">2</text>
<text transform="translate(300.4 121.55) scale(0.9 1)" font-size="9.5" text-anchor="end">1</text>
<text transform="translate(300.4 152.25) scale(0.9 1)" font-size="9.5" text-anchor="end">0</text>
<path d="M332.6 33.7H370.4" class="ln" style="stroke-width:1.45"/>
<text x="351.4" y="28.6" font-size="10.5" text-anchor="middle">N.S.</text>
<text x="328.5" y="165.6" font-size="11" text-anchor="middle">Ctrl</text>
<text x="367.7" y="165.6" font-size="11" text-anchor="middle">Induced</text>
<text x="351" y="177" font-size="11" text-anchor="middle">PS19-TREM2-WT</text>
<text transform="translate(276.8 92.5) rotate(-90)" font-size="11" text-anchor="middle">AT8 area (ratio to Ctrl)</text>
<text transform="translate(289.6 92.6) rotate(-90)" font-size="11" text-anchor="middle">piriform cortex</text>
<text x="264.3" y="10.8" font-size="12.5" text-anchor="start" font-weight="bold">B</text>
<g fill="#000">
<circle cx="331.53" cy="45.99" r="3.12"/>
<circle cx="331.53" cy="54.16" r="3.12"/>
<circle cx="331.53" cy="89.52" r="3.12"/>
<circle cx="331.53" cy="112" r="3.12"/>
<circle cx="328.47" cy="133.87" r="3.12"/>
<circle cx="331.53" cy="141.02" r="3.12"/>
<circle cx="331.53" cy="145.11" r="3.12"/>
<circle cx="328.47" cy="144.09" r="3.12"/>
<circle cx="334.6" cy="143.07" r="3.12"/>
<circle cx="331.53" cy="148.18" r="3.12"/>
</g>
<g fill="none" stroke="#000" stroke-width="1.1">
<circle cx="331.53" cy="124.06" r="2.67"/>
<circle cx="334.6" cy="129.78" r="2.67"/>
<circle cx="331.53" cy="132.85" r="2.67"/>
<circle cx="322.34" cy="146.13" r="2.67"/>
<circle cx="325.4" cy="146.13" r="2.67"/>
<circle cx="337.66" cy="148.18" r="2.67"/>
<circle cx="341.75" cy="146.54" r="2.67"/>
<circle cx="328.47" cy="148.18" r="2.67"/>
</g>
<g fill="#f00">
<circle cx="368.53" cy="49.26" r="3.12"/>
<circle cx="368.53" cy="79.71" r="3.12"/>
<circle cx="368.53" cy="129.37" r="3.12"/>
<circle cx="365.26" cy="141.02" r="3.12"/>
<circle cx="368.53" cy="138.98" r="3.12"/>
<circle cx="372.41" cy="140.61" r="3.12"/>
<circle cx="362.19" cy="144.09" r="3.12"/>
<circle cx="359.12" cy="146.13" r="3.12"/>
<circle cx="366.28" cy="145.11" r="3.12"/>
<circle cx="371.39" cy="145.11" r="3.12"/>
<circle cx="375.47" cy="146.13" r="3.12"/>
<circle cx="378.54" cy="147.56" r="3.12"/>
<circle cx="368.53" cy="143.07" r="3.12"/>
</g>
<g fill="none" stroke="#f00" stroke-width="1.1">
<circle cx="370.36" cy="135.91" r="2.67"/>
<circle cx="368.53" cy="148.18" r="2.67"/>
</g>
</g>
<g id="pC">
<rect x="322.3" y="296.5" width="23.1" height="30.6" class="bar"/>
<rect x="359.5" y="288.9" width="23.1" height="38.2" class="bar"/>
<path d="M333.8 285.5V306.1M327.6 285.5H340M327.6 306.1H340M371 271.8V304.3M364.8 271.8H377.2M364.8 304.3H377.2" class="ln"/>
<path d="M308.4 203.95V239.25M308.4 247.35V327.65M307.85 327.1H395.9M302.65 204.5H308.4M302.65 218.2H308.4M302.65 231.7H308.4M302.65 263.6H308.4M302.65 295.5H308.4M302.65 327.1H308.4M305.15 238.7H311.65M305.15 247.9H311.65M333.85 327.1V332.1M371.05 327.1V332.1" class="ln"/>
<text transform="translate(300.4 207.95) scale(0.9 1)" font-size="9.5" text-anchor="end">15</text>
<text transform="translate(300.4 221.65) scale(0.9 1)" font-size="9.5" text-anchor="end">10</text>
<text transform="translate(300.4 235.15) scale(0.9 1)" font-size="9.5" text-anchor="end">5</text>
<text transform="translate(300.4 267.05) scale(0.9 1)" font-size="9.5" text-anchor="end">2</text>
<text transform="translate(300.4 298.95) scale(0.9 1)" font-size="9.5" text-anchor="end">1</text>
<text transform="translate(300.4 329.55) scale(0.9 1)" font-size="9.5" text-anchor="end">0</text>
<path d="M332.5 212.1H370.8" class="ln" style="stroke-width:1.45"/>
<text x="352.5" y="207.6" font-size="10.5" text-anchor="middle">N.S.</text>
<text x="333.5" y="342.6" font-size="11" text-anchor="middle">Ctrl</text>
<text x="372" y="342.6" font-size="11" text-anchor="middle">Induced</text>
<text x="355.6" y="353.6" font-size="11" text-anchor="middle">PS19-TREM2-R47H</text>
<text transform="translate(277.4 272.8) rotate(-90)" font-size="11" text-anchor="middle">AT8 area (ratio to Ctrl)</text>
<text transform="translate(290.1 273.8) rotate(-90)" font-size="11" text-anchor="middle">piriform cortex</text>
<text x="263" y="202" font-size="12.5" text-anchor="start" font-weight="bold">C</text>
<g fill="#000">
<circle cx="330.51" cy="231.71" r="3.12"/>
<circle cx="333.58" cy="232.53" r="3.12"/>
<circle cx="336.23" cy="233.14" r="3.12"/>
<circle cx="333.78" cy="265.43" r="3.12"/>
<circle cx="333.78" cy="278.92" r="3.12"/>
<circle cx="335.62" cy="296.5" r="3.12"/>
<circle cx="333.17" cy="298.13" r="3.12"/>
<circle cx="331.53" cy="312.85" r="3.12"/>
<circle cx="330.51" cy="317.96" r="3.12"/>
<circle cx="336.64" cy="317.34" r="3.12"/>
<circle cx="326.42" cy="322.04" r="3.12"/>
<circle cx="330.51" cy="323.07" r="3.12"/>
<circle cx="338.69" cy="325.11" r="3.12"/>
<circle cx="343.8" cy="325.52" r="3.12"/>
</g>
<g fill="none" stroke="#000" stroke-width="1.1">
<circle cx="333.78" cy="307.74" r="2.67"/>
<circle cx="338.69" cy="313.87" r="2.67"/>
<circle cx="343.8" cy="320.61" r="2.67"/>
<circle cx="324.38" cy="325.52" r="2.67"/>
<circle cx="329.49" cy="325.52" r="2.67"/>
<circle cx="333.78" cy="326.74" r="2.67"/>
<circle cx="333.78" cy="323.07" r="2.67"/>
</g>
<g fill="#00f">
<circle cx="370.98" cy="219.24" r="3.12"/>
<circle cx="368.93" cy="231.71" r="3.12"/>
<circle cx="372" cy="235.18" r="3.12"/>
<circle cx="370.98" cy="251.12" r="3.12"/>
<circle cx="366.28" cy="308.35" r="3.12"/>
<circle cx="371.39" cy="312.85" r="3.12"/>
<circle cx="368.32" cy="315.91" r="3.12"/>
<circle cx="378.13" cy="316.53" r="3.12"/>
<circle cx="364.23" cy="322.04" r="3.12"/>
<circle cx="371.39" cy="323.07" r="3.12"/>
<circle cx="380.58" cy="325.52" r="3.12"/>
<circle cx="368.32" cy="325.52" r="3.12"/>
</g>
<g fill="none" stroke="#00f" stroke-width="1.1">
<circle cx="370.98" cy="259.3" r="2.67"/>
<circle cx="363.21" cy="317.34" r="2.67"/>
<circle cx="360.15" cy="321.02" r="2.67"/>
<circle cx="372" cy="321.02" r="2.67"/>
<circle cx="360.15" cy="326.54" r="2.67"/>
<circle cx="366.28" cy="326.54" r="2.67"/>
<circle cx="375.47" cy="326.54" r="2.67"/>
<circle cx="379.56" cy="325.52" r="2.67"/>
<circle cx="371.39" cy="327.15" r="2.67"/>
</g>
</g>
<g id="pE">
<rect x="463.4" y="296.1" width="23.5" height="30.8" class="bar"/>
<rect x="500.6" y="305.7" width="23.4" height="21.2" class="bar"/>
<path d="M475.2 280.6V309.2M469 280.6H481.4M469 309.2H481.4M512.4 296.1V313.9M506.2 296.1H518.6M506.2 313.9H518.6" class="ln"/>
<path d="M450.5 203.35V238.75M450.5 246.85V327.45M449.95 326.9H537.3M444.75 203.9H450.5M444.75 217.6H450.5M444.75 231.1H450.5M444.75 263.4H450.5M444.75 295.3H450.5M444.75 326.9H450.5M447.25 238.2H453.75M447.25 247.4H453.75M475.15 326.9V331.9M512.3 326.9V331.9" class="ln"/>
<text transform="translate(442.5 207.35) scale(0.9 1)" font-size="9.5" text-anchor="end">15</text>
<text transform="translate(442.5 221.05) scale(0.9 1)" font-size="9.5" text-anchor="end">10</text>
<text transform="translate(442.5 234.55) scale(0.9 1)" font-size="9.5" text-anchor="end">5</text>
<text transform="translate(442.5 266.85) scale(0.9 1)" font-size="9.5" text-anchor="end">2</text>
<text transform="translate(442.5 298.75) scale(0.9 1)" font-size="9.5" text-anchor="end">1</text>
<text transform="translate(442.5 329.35) scale(0.9 1)" font-size="9.5" text-anchor="end">0</text>
<path d="M474 211.7H512.4" class="ln" style="stroke-width:1.45"/>
<text x="494.5" y="207.2" font-size="10.5" text-anchor="middle">N.S.</text>
<text x="470.5" y="341.6" font-size="11" text-anchor="middle">Ctrl</text>
<text x="510" y="341.6" font-size="11" text-anchor="middle">Induced</text>
<text x="492.8" y="354.4" font-size="11" text-anchor="middle">PS19-TREM2-WT</text>
<text transform="translate(420.9 272) rotate(-90)" font-size="11" text-anchor="middle">AT8 area (ratio to Ctrl)</text>
<text transform="translate(433.2 271.8) rotate(-90)" font-size="11" text-anchor="middle">hippocampus</text>
<text x="406.6" y="201.8" font-size="12.5" text-anchor="start" font-weight="bold">E</text>
<g fill="#000">
<circle cx="475.21" cy="220.88" r="3.12"/>
<circle cx="475.21" cy="234.16" r="3.12"/>
<circle cx="475.21" cy="260.12" r="3.12"/>
<circle cx="467.45" cy="322.04" r="3.12"/>
<circle cx="472.55" cy="321.02" r="3.12"/>
<circle cx="477.66" cy="323.07" r="3.12"/>
<circle cx="464.99" cy="326.13" r="3.12"/>
<circle cx="470.51" cy="325.52" r="3.12"/>
<circle cx="481.75" cy="326.54" r="3.12"/>
<circle cx="484.82" cy="325.52" r="3.12"/>
</g>
<g fill="none" stroke="#000" stroke-width="1.1">
<circle cx="475.21" cy="257.26" r="2.67"/>
<circle cx="475.21" cy="284.64" r="2.67"/>
<circle cx="475.21" cy="304.06" r="2.67"/>
<circle cx="471.12" cy="318.57" r="2.67"/>
<circle cx="478.69" cy="320.61" r="2.67"/>
<circle cx="475.21" cy="326.13" r="2.67"/>
</g>
<g fill="#f00">
<circle cx="512.41" cy="230.07" r="3.12"/>
<circle cx="512.41" cy="254.19" r="3.12"/>
<circle cx="512.41" cy="288.93" r="3.12"/>
<circle cx="512.41" cy="305.69" r="3.12"/>
<circle cx="506.28" cy="320" r="3.12"/>
<circle cx="511.39" cy="321.02" r="3.12"/>
<circle cx="503.21" cy="324.7" r="3.12"/>
<circle cx="501.17" cy="325.52" r="3.12"/>
<circle cx="508.32" cy="325.52" r="3.12"/>
<circle cx="518.54" cy="325.52" r="3.12"/>
<circle cx="522.63" cy="325.52" r="3.12"/>
</g>
<g fill="none" stroke="#f00" stroke-width="1.1">
<circle cx="512.41" cy="280.55" r="2.67"/>
<circle cx="512.41" cy="298.13" r="2.67"/>
<circle cx="516.91" cy="313.87" r="2.67"/>
<circle cx="514.45" cy="320" r="2.67"/>
<circle cx="520.58" cy="320" r="2.67"/>
<circle cx="508.32" cy="323.07" r="2.67"/>
<circle cx="515.47" cy="325.52" r="2.67"/>
</g>
</g>
<g id="pF">
<rect x="601.6" y="295.9" width="23.7" height="30.8" class="bar"/>
<rect x="639.2" y="311.8" width="23.7" height="14.9" class="bar"/>
<path d="M613.5 283.8V306.1M607.3 283.8H619.7M607.3 306.1H619.7M651.1 307.7V316M644.9 307.7H657.3M644.9 316H657.3" class="ln"/>
<path d="M588.3 201.45V237.35M588.3 245.85V327.25M587.75 326.7H675.8M582.55 202H588.3M582.55 216.4H588.3M582.55 230H588.3M582.55 262.4H588.3M582.55 294.7H588.3M582.55 326.7H588.3M585.05 236.8H591.55M585.05 246.4H591.55M613.45 326.7V331.7M651.05 326.7V331.7" class="ln"/>
<text transform="translate(582.9 205.45) scale(0.9 1)" font-size="9.5" text-anchor="end">15</text>
<text transform="translate(582.9 219.85) scale(0.9 1)" font-size="9.5" text-anchor="end">10</text>
<text transform="translate(582.9 233.45) scale(0.9 1)" font-size="9.5" text-anchor="end">5</text>
<text transform="translate(582.9 265.85) scale(0.9 1)" font-size="9.5" text-anchor="end">2</text>
<text transform="translate(582.9 298.15) scale(0.9 1)" font-size="9.5" text-anchor="end">1</text>
<text transform="translate(582.9 329.15) scale(0.9 1)" font-size="9.5" text-anchor="end">0</text>
<path d="M612.4 211.7H650.9" class="ln" style="stroke-width:1.45"/>
<text x="633.5" y="206.6" font-size="10.5" text-anchor="middle">N.S.</text>
<text x="613.5" y="342.5" font-size="11" text-anchor="middle">Ctrl</text>
<text x="652.5" y="342.5" font-size="11" text-anchor="middle">Induced</text>
<text x="632" y="353.6" font-size="11" text-anchor="middle">PS19-TREM2-R47H</text>
<text transform="translate(556.8 272.8) rotate(-90)" font-size="11" text-anchor="middle">AT8 area (ratio to Ctrl)</text>
<text transform="translate(569.5 272.2) rotate(-90)" font-size="11" text-anchor="middle">hippocampus</text>
<text x="546" y="202.2" font-size="12.5" text-anchor="start" font-weight="bold">F</text>
<g fill="#000">
<circle cx="612.45" cy="229.05" r="3.12"/>
<circle cx="614.49" cy="231.09" r="3.12"/>
<circle cx="613.06" cy="234.16" r="3.12"/>
<circle cx="614.49" cy="235.18" r="3.12"/>
<circle cx="611.42" cy="286.69" r="3.12"/>
<circle cx="613.47" cy="305.69" r="3.12"/>
<circle cx="616.53" cy="318.98" r="3.12"/>
<circle cx="606.31" cy="323.07" r="3.12"/>
<circle cx="613.47" cy="323.07" r="3.12"/>
<circle cx="604.27" cy="325.52" r="3.12"/>
<circle cx="618.58" cy="325.52" r="3.12"/>
<circle cx="623.69" cy="324.7" r="3.12"/>
</g>
<g fill="none" stroke="#000" stroke-width="1.1">
<circle cx="615.51" cy="287.3" r="2.67"/>
<circle cx="610.4" cy="321.02" r="2.67"/>
<circle cx="603.25" cy="325.52" r="2.67"/>
<circle cx="611.42" cy="326.13" r="2.67"/>
<circle cx="616.53" cy="326.13" r="2.67"/>
<circle cx="621.64" cy="325.52" r="2.67"/>
</g>
<g fill="#00f">
<circle cx="651.07" cy="281.78" r="3.12"/>
<circle cx="646.17" cy="291.39" r="3.12"/>
<circle cx="653.32" cy="289.34" r="3.12"/>
<circle cx="651.07" cy="300.58" r="3.12"/>
<circle cx="640.04" cy="320" r="3.12"/>
<circle cx="651.07" cy="313.87" r="3.12"/>
<circle cx="655.36" cy="313.87" r="3.12"/>
<circle cx="640.04" cy="325.11" r="3.12"/>
<circle cx="645.15" cy="325.52" r="3.12"/>
<circle cx="651.07" cy="325.52" r="3.12"/>
<circle cx="656.39" cy="325.52" r="3.12"/>
<circle cx="655.36" cy="320" r="3.12"/>
</g>
<g fill="none" stroke="#00f" stroke-width="1.1">
<circle cx="657.41" cy="289.96" r="2.67"/>
<circle cx="644.12" cy="314.48" r="2.67"/>
<circle cx="649.23" cy="316.93" r="2.67"/>
<circle cx="660.47" cy="325.52" r="2.67"/>
<circle cx="646.17" cy="321.02" r="2.67"/>
<circle cx="659.45" cy="320" r="2.67"/>
</g>
</g>
<g id="pG">
<rect x="110.1" y="452" width="24.5" height="60.3" class="bar"/>
<rect x="149.4" y="458.4" width="24.4" height="53.9" class="bar"/>
<path d="M122.2 447.2V457.2M116 447.2H128.4M116 457.2H128.4M161.6 452.4V464M155.4 452.4H167.8M155.4 464H167.8" class="ln"/>
<path d="M96.9 374.45V512.85M96.35 512.3H188.6M91.15 375H96.9M91.15 409.4H96.9M91.15 443.9H96.9M91.15 478.1H96.9M91.15 512.3H96.9M122.35 512.3V517.3M161.6 512.3V517.3" class="ln"/>
<text x="88.9" y="378.45" font-size="9.7" text-anchor="end">400</text>
<text x="88.9" y="412.85" font-size="9.7" text-anchor="end">300</text>
<text x="88.9" y="447.35" font-size="9.7" text-anchor="end">200</text>
<text x="88.9" y="481.55" font-size="9.7" text-anchor="end">100</text>
<text x="88.9" y="514.75" font-size="9.7" text-anchor="end">0</text>
<path d="M121.6 390.4H161" class="ln" style="stroke-width:1.45"/>
<text x="142.8" y="387.3" font-size="10.5" text-anchor="middle">N.S.</text>
<text x="123.2" y="528.2" font-size="11" text-anchor="middle">Ctrl</text>
<text x="162.6" y="528.2" font-size="11" text-anchor="middle">Induced</text>
<text x="146.6" y="539.6" font-size="11" text-anchor="middle">PS19-TREM2-WT</text>
<text transform="translate(54.6 450.5) rotate(-90)" font-size="11" text-anchor="middle">p-Tau in RAB fraction</text>
<text transform="translate(67.2 450.5) rotate(-90)" font-size="11" text-anchor="middle">(ng/mg)</text>
<text x="47" y="377" font-size="12.5" text-anchor="start" font-weight="bold">G</text>
<g fill="#000">
<circle cx="121.82" cy="401.68" r="3.12"/>
<circle cx="119.08" cy="445.37" r="3.12"/>
<circle cx="125.57" cy="445.37" r="3.12"/>
<circle cx="119.08" cy="452.36" r="3.12"/>
<circle cx="125.57" cy="458.6" r="3.12"/>
<circle cx="132.31" cy="462.34" r="3.12"/>
<circle cx="121.82" cy="469.83" r="3.12"/>
<circle cx="119.08" cy="475.32" r="3.12"/>
<circle cx="125.57" cy="476.07" r="3.12"/>
<circle cx="125.57" cy="488.55" r="3.12"/>
</g>
<g fill="none" stroke="#000" stroke-width="1.1">
<circle cx="125.57" cy="408.17" r="2.67"/>
<circle cx="111.84" cy="412.92" r="2.67"/>
<circle cx="125.57" cy="414.41" r="2.67"/>
<circle cx="132.81" cy="413.91" r="2.67"/>
<circle cx="111.84" cy="444.37" r="2.67"/>
<circle cx="132.81" cy="448.11" r="2.67"/>
<circle cx="125.57" cy="452.36" r="2.67"/>
<circle cx="111.84" cy="462.84" r="2.67"/>
<circle cx="119.08" cy="463.59" r="2.67"/>
<circle cx="121.82" cy="482.81" r="2.67"/>
<circle cx="118.58" cy="490.55" r="2.67"/>
</g>
<g fill="#f00">
<circle cx="151.03" cy="425.65" r="3.12"/>
<circle cx="164.76" cy="425.65" r="3.12"/>
<circle cx="172.25" cy="422.4" r="3.12"/>
<circle cx="172.25" cy="449.36" r="3.12"/>
<circle cx="172.25" cy="458.6" r="3.12"/>
<circle cx="158.02" cy="461.84" r="3.12"/>
<circle cx="164.76" cy="461.84" r="3.12"/>
<circle cx="158.02" cy="471.83" r="3.12"/>
<circle cx="164.76" cy="472.33" r="3.12"/>
<circle cx="161.51" cy="479.32" r="3.12"/>
<circle cx="168.5" cy="488.55" r="3.12"/>
<circle cx="161.51" cy="497.29" r="3.12"/>
</g>
<g fill="none" stroke="#f00" stroke-width="1.1">
<circle cx="151.03" cy="419.91" r="2.67"/>
<circle cx="161.51" cy="435.38" r="2.67"/>
<circle cx="161.51" cy="441.12" r="2.67"/>
<circle cx="151.03" cy="448.61" r="2.67"/>
<circle cx="164.76" cy="455.35" r="2.67"/>
<circle cx="151.03" cy="457.85" r="2.67"/>
<circle cx="154.77" cy="487.31" r="2.67"/>
<circle cx="161.51" cy="491.8" r="2.67"/>
</g>
</g>
<g id="pH">
<rect x="262.4" y="471.1" width="24.5" height="41.7" class="bar"/>
<rect x="301.1" y="469.3" width="24.5" height="43.5" class="bar"/>
<path d="M274.6 466.6V474.8M268.4 466.6H280.8M268.4 474.8H280.8M313.6 462.8V474.3M307.4 462.8H319.8M307.4 474.3H319.8" class="ln"/>
<path d="M248.2 373.15V513.35M247.65 512.8H339M242.45 373.7H248.2M242.45 408.7H248.2M242.45 443.1H248.2M242.45 478.1H248.2M242.45 512.8H248.2M274.65 512.8V517.8M313.35 512.8V517.8" class="ln"/>
<text x="241.9" y="377.15" font-size="9.7" text-anchor="end">400</text>
<text x="241.9" y="412.15" font-size="9.7" text-anchor="end">300</text>
<text x="241.9" y="446.55" font-size="9.7" text-anchor="end">200</text>
<text x="241.9" y="481.55" font-size="9.7" text-anchor="end">100</text>
<text x="241.9" y="515.25" font-size="9.7" text-anchor="end">0</text>
<path d="M273.1 389.7H313.1" class="ln" style="stroke-width:1.45"/>
<text x="296.8" y="386" font-size="10.5" text-anchor="middle">N.S.</text>
<text x="276.5" y="528.8" font-size="11" text-anchor="middle">Ctrl</text>
<text x="315.5" y="528.8" font-size="11" text-anchor="middle">Induced</text>
<text x="299.3" y="539.6" font-size="11" text-anchor="middle">PS19-TREM2-R47H</text>
<text transform="translate(207 451) rotate(-90)" font-size="11" text-anchor="middle">p-Tau in RAB fraction</text>
<text transform="translate(219.2 451.5) rotate(-90)" font-size="11" text-anchor="middle">(ng/mg)</text>
<text x="208.8" y="376.4" font-size="12.5" text-anchor="start" font-weight="bold">H</text>
<g fill="#000">
<circle cx="276.64" cy="446.62" r="3.12"/>
<circle cx="273.14" cy="456.6" r="3.12"/>
<circle cx="276.64" cy="455.35" r="3.12"/>
<circle cx="273.14" cy="462.84" r="3.12"/>
<circle cx="264.41" cy="472.33" r="3.12"/>
<circle cx="271.15" cy="470.33" r="3.12"/>
<circle cx="267.9" cy="476.57" r="3.12"/>
<circle cx="274.89" cy="477.82" r="3.12"/>
<circle cx="281.13" cy="477.32" r="3.12"/>
<circle cx="267.9" cy="482.31" r="3.12"/>
<circle cx="274.89" cy="484.06" r="3.12"/>
<circle cx="281.13" cy="484.06" r="3.12"/>
</g>
<g fill="none" stroke="#000" stroke-width="1.1">
<circle cx="274.64" cy="431.64" r="2.67"/>
<circle cx="276.64" cy="437.38" r="2.67"/>
<circle cx="272.39" cy="442.37" r="2.67"/>
<circle cx="276.64" cy="468.58" r="2.67"/>
<circle cx="281.13" cy="471.08" r="2.67"/>
<circle cx="264.91" cy="481.07" r="2.67"/>
<circle cx="284.88" cy="481.81" r="2.67"/>
<circle cx="272.39" cy="489.8" r="2.67"/>
<circle cx="276.64" cy="492.8" r="2.67"/>
<circle cx="274.64" cy="499.79" r="2.67"/>
</g>
<g fill="#00f">
<circle cx="313.58" cy="422.9" r="3.12"/>
<circle cx="319.08" cy="437.63" r="3.12"/>
<circle cx="324.07" cy="447.36" r="3.12"/>
<circle cx="303.1" cy="454.85" r="3.12"/>
<circle cx="313.58" cy="459.85" r="3.12"/>
<circle cx="324.07" cy="459.85" r="3.12"/>
<circle cx="303.1" cy="479.07" r="3.12"/>
<circle cx="324.07" cy="473.58" r="3.12"/>
<circle cx="313.58" cy="484.06" r="3.12"/>
<circle cx="324.07" cy="485.31" r="3.12"/>
<circle cx="313.58" cy="491.8" r="3.12"/>
</g>
<g fill="none" stroke="#00f" stroke-width="1.1">
<circle cx="313.58" cy="409.92" r="2.67"/>
<circle cx="308.09" cy="437.63" r="2.67"/>
<circle cx="313.58" cy="449.11" r="2.67"/>
<circle cx="313.58" cy="476.07" r="2.67"/>
<circle cx="303.1" cy="485.31" r="2.67"/>
<circle cx="324.07" cy="493.55" r="2.67"/>
<circle cx="303.1" cy="496.79" r="2.67"/>
<circle cx="313.58" cy="497.79" r="2.67"/>
<circle cx="324.07" cy="499.79" r="2.67"/>
<circle cx="303.1" cy="503.03" r="2.67"/>
</g>
</g>
<g id="pI">
<rect x="412.9" y="434.4" width="24.5" height="77.1" class="bar"/>
<rect x="451.8" y="430.4" width="24.8" height="81.1" class="bar"/>
<path d="M425.1 429.4V438.4M418.9 429.4H431.3M418.9 438.4H431.3M464.3 426.1V433.8M458.1 426.1H470.5M458.1 433.8H470.5" class="ln"/>
<path d="M398.7 381.45V512.05M398.15 511.5H491M392.95 382H398.7M392.95 425.4H398.7M392.95 468.6H398.7M392.95 511.5H398.7M425.15 511.5V516.5M464.2 511.5V516.5" class="ln"/>
<text x="390.7" y="385.45" font-size="9.7" text-anchor="end">60</text>
<text x="390.7" y="428.85" font-size="9.7" text-anchor="end">40</text>
<text x="390.7" y="472.05" font-size="9.7" text-anchor="end">20</text>
<text x="390.7" y="513.95" font-size="9.7" text-anchor="end">0</text>
<path d="M424.1 381.7H464.3" class="ln" style="stroke-width:1.45"/>
<text x="446" y="379.2" font-size="10.5" text-anchor="middle">N.S.</text>
<text x="425.2" y="527.6" font-size="11" text-anchor="middle">Ctrl</text>
<text x="465" y="527.6" font-size="11" text-anchor="middle">Induced</text>
<text x="444.8" y="539.6" font-size="11" text-anchor="middle">PS19-TREM2-WT</text>
<text transform="translate(363.7 449.8) rotate(-90)" font-size="11" text-anchor="middle">Tau in RAB fraction</text>
<text transform="translate(378.3 449.5) rotate(-90)" font-size="11" text-anchor="middle">(µg/mg)</text>
<text x="358.4" y="376.7" font-size="12.5" text-anchor="start" font-weight="bold">I</text>
<g fill="#000">
<circle cx="428.64" cy="404.18" r="3.12"/>
<circle cx="421.89" cy="419.91" r="3.12"/>
<circle cx="428.64" cy="419.91" r="3.12"/>
<circle cx="432.38" cy="426.15" r="3.12"/>
<circle cx="428.64" cy="435.38" r="3.12"/>
<circle cx="414.91" cy="439.13" r="3.12"/>
<circle cx="436.12" cy="439.13" r="3.12"/>
<circle cx="421.89" cy="442.37" r="3.12"/>
<circle cx="414.91" cy="447.36" r="3.12"/>
<circle cx="421.89" cy="454.11" r="3.12"/>
</g>
<g fill="none" stroke="#000" stroke-width="1.1">
<circle cx="425.14" cy="390.7" r="2.67"/>
<circle cx="421.89" cy="402.43" r="2.67"/>
<circle cx="421.89" cy="408.17" r="2.67"/>
<circle cx="425.14" cy="425.65" r="2.67"/>
<circle cx="418.15" cy="428.14" r="2.67"/>
<circle cx="428.64" cy="441.12" r="2.67"/>
<circle cx="428.64" cy="449.11" r="2.67"/>
<circle cx="414.91" cy="452.86" r="2.67"/>
<circle cx="436.12" cy="454.11" r="2.67"/>
<circle cx="428.64" cy="456.6" r="2.67"/>
<circle cx="425.14" cy="471.58" r="2.67"/>
</g>
<g fill="#f00">
<circle cx="464.33" cy="387.45" r="3.12"/>
<circle cx="453.6" cy="421.9" r="3.12"/>
<circle cx="461.09" cy="420.4" r="3.12"/>
<circle cx="474.82" cy="422.9" r="3.12"/>
<circle cx="467.83" cy="429.39" r="3.12"/>
<circle cx="474.82" cy="431.14" r="3.12"/>
<circle cx="461.09" cy="434.38" r="3.12"/>
<circle cx="453.6" cy="442.37" r="3.12"/>
<circle cx="474.82" cy="441.87" r="3.12"/>
<circle cx="467.83" cy="444.87" r="3.12"/>
<circle cx="464.33" cy="453.61" r="3.12"/>
<circle cx="464.33" cy="471.83" r="3.12"/>
</g>
<g fill="none" stroke="#f00" stroke-width="1.1">
<circle cx="464.33" cy="393.69" r="2.67"/>
<circle cx="461.09" cy="414.91" r="2.67"/>
<circle cx="474.82" cy="415.66" r="2.67"/>
<circle cx="467.83" cy="423.9" r="2.67"/>
<circle cx="460.84" cy="426.4" r="2.67"/>
<circle cx="453.6" cy="435.38" r="2.67"/>
<circle cx="467.83" cy="436.63" r="2.67"/>
<circle cx="461.09" cy="441.62" r="2.67"/>
</g>
</g>
<g id="pJ">
<rect x="561.2" y="458.6" width="24.9" height="53.7" class="bar"/>
<rect x="600.3" y="468.1" width="25" height="44.2" class="bar"/>
<path d="M573.4 454.4V462.8M567.2 454.4H579.6M567.2 462.8H579.6M612.6 464.1V471.8M606.4 464.1H618.8M606.4 471.8H618.8" class="ln"/>
<path d="M547.4 380.65V512.85M546.85 512.3H639M541.65 381.2H547.4M541.65 424.9H547.4M541.65 468.6H547.4M541.65 512.3H547.4M573.65 512.3V517.3M612.8 512.3V517.3" class="ln"/>
<text x="539.4" y="384.65" font-size="9.7" text-anchor="end">60</text>
<text x="539.4" y="428.35" font-size="9.7" text-anchor="end">40</text>
<text x="539.4" y="472.05" font-size="9.7" text-anchor="end">20</text>
<text x="539.4" y="514.75" font-size="9.7" text-anchor="end">0</text>
<path d="M575.4 390.7H614.8" class="ln" style="stroke-width:1.45"/>
<text x="596.8" y="387.3" font-size="10.5" text-anchor="middle">N.S.</text>
<text x="573.5" y="528.2" font-size="11" text-anchor="middle">Ctrl</text>
<text x="613" y="528.2" font-size="11" text-anchor="middle">Induced</text>
<text x="596.9" y="538.6" font-size="11" text-anchor="middle">PS19-TREM2-R47H</text>
<text transform="translate(510.5 449.5) rotate(-90)" font-size="11" text-anchor="middle">Tau in RAB fraction</text>
<text transform="translate(523.5 449.5) rotate(-90)" font-size="11" text-anchor="middle">(µg/mg)</text>
<text x="509.8" y="376.4" font-size="12.5" text-anchor="start" font-weight="bold">J</text>
<g fill="#000">
<circle cx="571.15" cy="433.64" r="3.12"/>
<circle cx="574.89" cy="432.39" r="3.12"/>
<circle cx="567.4" cy="442.37" r="3.12"/>
<circle cx="573.14" cy="441.12" r="3.12"/>
<circle cx="579.88" cy="443.62" r="3.12"/>
<circle cx="573.14" cy="449.86" r="3.12"/>
<circle cx="579.88" cy="461.09" r="3.12"/>
<circle cx="574.89" cy="463.59" r="3.12"/>
<circle cx="567.4" cy="472.83" r="3.12"/>
<circle cx="579.88" cy="472.83" r="3.12"/>
<circle cx="574.89" cy="474.82" r="3.12"/>
</g>
<g fill="none" stroke="#000" stroke-width="1.1">
<circle cx="566.9" cy="428.14" r="2.67"/>
<circle cx="579.88" cy="429.14" r="2.67"/>
<circle cx="575.64" cy="452.36" r="2.67"/>
<circle cx="567.4" cy="461.84" r="2.67"/>
<circle cx="566.9" cy="466.59" r="2.67"/>
<circle cx="562.41" cy="472.33" r="2.67"/>
<circle cx="573.14" cy="471.83" r="2.67"/>
<circle cx="583.63" cy="472.33" r="2.67"/>
<circle cx="573.14" cy="482.81" r="2.67"/>
<circle cx="573.14" cy="494.05" r="2.67"/>
</g>
<g fill="#00f">
<circle cx="610.59" cy="438.63" r="3.12"/>
<circle cx="614.83" cy="442.37" r="3.12"/>
<circle cx="610.59" cy="444.12" r="3.12"/>
<circle cx="610.59" cy="457.35" r="3.12"/>
<circle cx="602.35" cy="462.34" r="3.12"/>
<circle cx="619.33" cy="459.85" r="3.12"/>
<circle cx="623.57" cy="462.34" r="3.12"/>
<circle cx="610.59" cy="468.58" r="3.12"/>
<circle cx="606.84" cy="475.32" r="3.12"/>
<circle cx="614.83" cy="477.32" r="3.12"/>
<circle cx="610.59" cy="479.82" r="3.12"/>
</g>
<g fill="none" stroke="#00f" stroke-width="1.1">
<circle cx="614.83" cy="447.86" r="2.67"/>
<circle cx="606.84" cy="461.84" r="2.67"/>
<circle cx="614.83" cy="461.09" r="2.67"/>
<circle cx="619.33" cy="472.33" r="2.67"/>
<circle cx="610.59" cy="491.05" r="2.67"/>
<circle cx="619.33" cy="491.8" r="2.67"/>
<circle cx="614.83" cy="492.8" r="2.67"/>
<circle cx="606.84" cy="494.8" r="2.67"/>
</g>
</g>
<g id="pK">
<rect x="109.9" y="632.3" width="24.2" height="50.7" class="bar"/>
<rect x="148.6" y="647.3" width="24.2" height="35.7" class="bar"/>
<path d="M121.9 629.4V636M115.7 629.4H128.1M115.7 636H128.1M160.6 641V653.6M154.4 641H166.8M154.4 653.6H166.8" class="ln"/>
<path d="M96.2 554.45V683.55M95.65 683H186.8M90.45 555H96.2M90.45 597.4H96.2M90.45 640.3H96.2M90.45 683H96.2M122 683V688M160.7 683V688" class="ln"/>
<text x="88.2" y="558.45" font-size="9.7" text-anchor="end">120</text>
<text x="88.2" y="600.85" font-size="9.7" text-anchor="end">80</text>
<text x="88.2" y="643.75" font-size="9.7" text-anchor="end">40</text>
<text x="88.2" y="685.45" font-size="9.7" text-anchor="end">0</text>
<path d="M119.4 564.2H159.8" class="ln" style="stroke-width:1.45"/>
<text x="140.9" y="567.1" font-size="18" text-anchor="middle">**</text>
<text x="120" y="698.2" font-size="11" text-anchor="middle">Ctrl</text>
<text x="159" y="698.2" font-size="11" text-anchor="middle">Induced</text>
<text x="142.5" y="709.5" font-size="11" text-anchor="middle">PS19-TREM2-WT</text>
<text transform="translate(56.2 626.5) rotate(-90)" font-size="11" text-anchor="middle">p-Tau in RIPA fraction</text>
<text transform="translate(69.2 626.5) rotate(-90)" font-size="11" text-anchor="middle">(ng/mg)</text>
<text x="48.6" y="559.4" font-size="12.5" text-anchor="start" font-weight="bold">K</text>
<g fill="#000">
<circle cx="121.87" cy="595.4" r="3.12"/>
<circle cx="121.87" cy="604.89" r="3.12"/>
<circle cx="118.62" cy="619.87" r="3.12"/>
<circle cx="124.86" cy="618.62" r="3.12"/>
<circle cx="114.88" cy="632.85" r="3.12"/>
<circle cx="121.87" cy="629.85" r="3.12"/>
<circle cx="128.61" cy="632.35" r="3.12"/>
<circle cx="118.62" cy="636.84" r="3.12"/>
<circle cx="124.86" cy="636.84" r="3.12"/>
<circle cx="124.86" cy="644.83" r="3.12"/>
</g>
<g fill="none" stroke="#000" stroke-width="1.1">
<circle cx="121.87" cy="610.38" r="2.67"/>
<circle cx="124.86" cy="624.36" r="2.67"/>
<circle cx="111.13" cy="634.85" r="2.67"/>
<circle cx="132.35" cy="634.85" r="2.67"/>
<circle cx="118.62" cy="647.33" r="2.67"/>
<circle cx="114.88" cy="651.07" r="2.67"/>
<circle cx="121.87" cy="652.32" r="2.67"/>
<circle cx="124.86" cy="656.56" r="2.67"/>
<circle cx="118.62" cy="660.31" r="2.67"/>
</g>
<g fill="#f00">
<circle cx="160.56" cy="571.19" r="3.12"/>
<circle cx="156.81" cy="616.12" r="3.12"/>
<circle cx="160.56" cy="619.87" r="3.12"/>
<circle cx="160.56" cy="625.36" r="3.12"/>
<circle cx="150.57" cy="652.32" r="3.12"/>
<circle cx="157.31" cy="652.32" r="3.12"/>
<circle cx="166.05" cy="652.82" r="3.12"/>
<circle cx="160.56" cy="657.31" r="3.12"/>
<circle cx="167.3" cy="658.56" r="3.12"/>
<circle cx="157.31" cy="661.06" r="3.12"/>
<circle cx="164.8" cy="664.8" r="3.12"/>
</g>
<g fill="none" stroke="#f00" stroke-width="1.1">
<circle cx="158.56" cy="639.34" r="2.67"/>
<circle cx="171.04" cy="654.07" r="2.67"/>
<circle cx="150.57" cy="658.06" r="2.67"/>
<circle cx="158.56" cy="659.81" r="2.67"/>
<circle cx="156.81" cy="667.8" r="2.67"/>
</g>
</g>
<g id="pL">
<rect x="261.1" y="646.1" width="24.2" height="37.9" class="bar"/>
<rect x="299.1" y="646.1" width="23.9" height="37.9" class="bar"/>
<path d="M273.1 643V649M266.9 643H279.3M266.9 649H279.3M311 642.5V649M304.8 642.5H317.2M304.8 649H317.2" class="ln"/>
<path d="M247.4 557.45V684.55M246.85 684H337.3M241.65 558H247.4M241.65 600.4H247.4M241.65 642.3H247.4M241.65 684H247.4M273.2 684V689M311.05 684V689" class="ln"/>
<text x="239.4" y="561.45" font-size="9.7" text-anchor="end">120</text>
<text x="239.4" y="603.85" font-size="9.7" text-anchor="end">80</text>
<text x="239.4" y="645.75" font-size="9.7" text-anchor="end">40</text>
<text x="239.4" y="686.45" font-size="9.7" text-anchor="end">0</text>
<path d="M271.1 564.2H311" class="ln" style="stroke-width:1.45"/>
<text x="293" y="560.6" font-size="10.5" text-anchor="middle">N.S.</text>
<text x="269.5" y="698" font-size="11" text-anchor="middle">Ctrl</text>
<text x="308.5" y="698" font-size="11" text-anchor="middle">Induced</text>
<text x="291.6" y="709.4" font-size="11" text-anchor="middle">PS19-TREM2-R47H</text>
<text transform="translate(208.2 622.5) rotate(-90)" font-size="11" text-anchor="middle">p-Tau in RIPA fraction</text>
<text transform="translate(220.8 622.5) rotate(-90)" font-size="11" text-anchor="middle">(ng/mg)</text>
<text x="209.8" y="555.8" font-size="12.5" text-anchor="start" font-weight="bold">L</text>
<g fill="#000">
<circle cx="274.87" cy="621.12" r="3.12"/>
<circle cx="271.12" cy="624.86" r="3.12"/>
<circle cx="274.87" cy="626.11" r="3.12"/>
<circle cx="271.12" cy="631.1" r="3.12"/>
<circle cx="279.36" cy="635.35" r="3.12"/>
<circle cx="262.89" cy="643.58" r="3.12"/>
<circle cx="279.36" cy="646.83" r="3.12"/>
<circle cx="283.61" cy="649.82" r="3.12"/>
<circle cx="269.88" cy="654.82" r="3.12"/>
<circle cx="274.87" cy="660.31" r="3.12"/>
</g>
<g fill="none" stroke="#000" stroke-width="1.1">
<circle cx="266.88" cy="622.36" r="2.67"/>
<circle cx="266.88" cy="639.09" r="2.67"/>
<circle cx="279.36" cy="641.09" r="2.67"/>
<circle cx="271.12" cy="645.33" r="2.67"/>
<circle cx="262.89" cy="649.33" r="2.67"/>
<circle cx="274.87" cy="652.32" r="2.67"/>
<circle cx="266.13" cy="654.32" r="2.67"/>
<circle cx="269.88" cy="669.3" r="2.67"/>
<circle cx="276.87" cy="669.3" r="2.67"/>
<circle cx="271.12" cy="647.33" r="2.67"/>
</g>
<g fill="#00f">
<circle cx="311.07" cy="609.88" r="3.12"/>
<circle cx="311.07" cy="620.37" r="3.12"/>
<circle cx="306.57" cy="635.35" r="3.12"/>
<circle cx="321.05" cy="636.09" r="3.12"/>
<circle cx="306.57" cy="639.84" r="3.12"/>
<circle cx="317.31" cy="641.09" r="3.12"/>
<circle cx="321.05" cy="642.84" r="3.12"/>
<circle cx="306.57" cy="648.58" r="3.12"/>
<circle cx="312.31" cy="654.82" r="3.12"/>
<circle cx="311.07" cy="663.55" r="3.12"/>
<circle cx="321.05" cy="666.05" r="3.12"/>
<circle cx="316.06" cy="636.09" r="3.12"/>
</g>
<g fill="none" stroke="#00f" stroke-width="1.1">
<circle cx="311.07" cy="626.86" r="2.67"/>
<circle cx="311.07" cy="637.34" r="2.67"/>
<circle cx="301.08" cy="641.59" r="2.67"/>
<circle cx="312.31" cy="644.83" r="2.67"/>
<circle cx="317.31" cy="651.07" r="2.67"/>
<circle cx="311.07" cy="657.31" r="2.67"/>
<circle cx="316.06" cy="658.56" r="2.67"/>
<circle cx="306.57" cy="659.81" r="2.67"/>
<circle cx="301.08" cy="664.8" r="2.67"/>
<circle cx="316.06" cy="663.55" r="2.67"/>
</g>
</g>
<g id="pM">
<rect x="412.4" y="620.4" width="24.2" height="63.4" class="bar"/>
<rect x="450.6" y="624.1" width="24.2" height="59.7" class="bar"/>
<path d="M424.5 617.5V623.3M418.3 617.5H430.7M418.3 623.3H430.7M462.7 620.6V627.6M456.5 620.6H468.9M456.5 627.6H468.9" class="ln"/>
<path d="M399.9 557.95V684.35M399.35 683.8H488.5M394.15 558.5H399.9M394.15 583.4H399.9M394.15 608.6H399.9M394.15 633.6H399.9M394.15 658.8H399.9M394.15 683.8H399.9M424.5 683.8V688.8M462.7 683.8V688.8" class="ln"/>
<text x="391.9" y="561.95" font-size="9.7" text-anchor="end">100</text>
<text x="391.9" y="586.85" font-size="9.7" text-anchor="end">80</text>
<text x="391.9" y="612.05" font-size="9.7" text-anchor="end">60</text>
<text x="391.9" y="637.05" font-size="9.7" text-anchor="end">40</text>
<text x="391.9" y="662.25" font-size="9.7" text-anchor="end">20</text>
<text x="391.9" y="686.25" font-size="9.7" text-anchor="end">0</text>
<path d="M424.9 570.7H464.8" class="ln" style="stroke-width:1.45"/>
<text x="446" y="567.4" font-size="10.5" text-anchor="middle">N.S.</text>
<text x="423.6" y="698.3" font-size="11" text-anchor="middle">Ctrl</text>
<text x="462.5" y="698.3" font-size="11" text-anchor="middle">Induced</text>
<text x="445.8" y="709.8" font-size="11" text-anchor="middle">PS19-TREM2-WT</text>
<text transform="translate(360.6 621) rotate(-90)" font-size="11" text-anchor="middle">Tau in RIPA fraction</text>
<text transform="translate(373.6 621) rotate(-90)" font-size="11" text-anchor="middle">(µg/mg)</text>
<text x="361" y="556.4" font-size="12.5" text-anchor="start" font-weight="bold">M</text>
<g fill="#000">
<circle cx="424.88" cy="589.91" r="3.12"/>
<circle cx="421.13" cy="608.14" r="3.12"/>
<circle cx="428.62" cy="609.88" r="3.12"/>
<circle cx="417.39" cy="612.38" r="3.12"/>
<circle cx="431.62" cy="612.38" r="3.12"/>
<circle cx="417.39" cy="616.62" r="3.12"/>
<circle cx="424.88" cy="616.62" r="3.12"/>
<circle cx="431.62" cy="617.87" r="3.12"/>
<circle cx="421.13" cy="621.12" r="3.12"/>
<circle cx="428.62" cy="621.12" r="3.12"/>
</g>
<g fill="none" stroke="#000" stroke-width="1.1">
<circle cx="424.88" cy="601.15" r="2.67"/>
<circle cx="424.88" cy="611.13" r="2.67"/>
<circle cx="431.62" cy="624.36" r="2.67"/>
<circle cx="434.86" cy="624.86" r="2.67"/>
<circle cx="414.39" cy="626.86" r="2.67"/>
<circle cx="424.88" cy="627.36" r="2.67"/>
<circle cx="418.14" cy="625.61" r="2.67"/>
<circle cx="424.88" cy="629.85" r="2.67"/>
<circle cx="421.13" cy="636.84" r="2.67"/>
<circle cx="427.87" cy="636.84" r="2.67"/>
</g>
<g fill="#f00">
<circle cx="460.57" cy="596.9" r="3.12"/>
<circle cx="464.32" cy="596.9" r="3.12"/>
<circle cx="462.32" cy="607.39" r="3.12"/>
<circle cx="456.08" cy="614.88" r="3.12"/>
<circle cx="464.32" cy="616.12" r="3.12"/>
<circle cx="460.57" cy="619.87" r="3.12"/>
<circle cx="456.08" cy="625.61" r="3.12"/>
<circle cx="467.31" cy="626.11" r="3.12"/>
<circle cx="452.34" cy="632.35" r="3.12"/>
<circle cx="460.57" cy="632.35" r="3.12"/>
<circle cx="468.56" cy="636.09" r="3.12"/>
<circle cx="464.32" cy="637.34" r="3.12"/>
</g>
<g fill="none" stroke="#f00" stroke-width="1.1">
<circle cx="468.56" cy="617.37" r="2.67"/>
<circle cx="464.32" cy="623.61" r="2.67"/>
<circle cx="456.08" cy="624.86" r="2.67"/>
<circle cx="460.57" cy="624.36" r="2.67"/>
<circle cx="472.31" cy="630.6" r="2.67"/>
<circle cx="456.08" cy="639.09" r="2.67"/>
<circle cx="464.32" cy="639.09" r="2.67"/>
</g>
</g>
<g id="pN">
<rect x="561.2" y="611.6" width="24.4" height="73.2" class="bar"/>
<rect x="600.3" y="615.4" width="24.5" height="69.4" class="bar"/>
<path d="M573.4 606.5V616.4M567.2 606.5H579.6M567.2 616.4H579.6M612.6 611.5V619.3M606.4 611.5H618.8M606.4 619.3H618.8" class="ln"/>
<path d="M547.4 554.45V685.35M546.85 684.8H639M541.65 555H547.4M541.65 576.7H547.4M541.65 598.1H547.4M541.65 619.9H547.4M541.65 641.3H547.4M541.65 663H547.4M541.65 684.8H547.4M573.4 684.8V689.8M612.55 684.8V689.8" class="ln"/>
<text x="539.4" y="558.45" font-size="9.7" text-anchor="end">120</text>
<text x="539.4" y="580.15" font-size="9.7" text-anchor="end">100</text>
<text x="539.4" y="601.55" font-size="9.7" text-anchor="end">80</text>
<text x="539.4" y="623.35" font-size="9.7" text-anchor="end">60</text>
<text x="539.4" y="644.75" font-size="9.7" text-anchor="end">40</text>
<text x="539.4" y="666.45" font-size="9.7" text-anchor="end">20</text>
<text x="539.4" y="687.25" font-size="9.7" text-anchor="end">0</text>
<path d="M572.4 570.7H612.8" class="ln" style="stroke-width:1.45"/>
<text x="594" y="567" font-size="10.5" text-anchor="middle">N.S.</text>
<text x="575" y="698.2" font-size="11" text-anchor="middle">Ctrl</text>
<text x="614.5" y="698.2" font-size="11" text-anchor="middle">Induced</text>
<text x="597.8" y="709.5" font-size="11" text-anchor="middle">PS19-TREM2-R47H</text>
<text transform="translate(507 620.5) rotate(-90)" font-size="11" text-anchor="middle">Tau in RIPA fraction</text>
<text transform="translate(519.6 620.5) rotate(-90)" font-size="11" text-anchor="middle">(µg/mg)</text>
<text x="510.2" y="555.8" font-size="12.5" text-anchor="start" font-weight="bold">N</text>
<g fill="#000">
<circle cx="573.14" cy="576.68" r="3.12"/>
<circle cx="568.15" cy="587.92" r="3.12"/>
<circle cx="573.14" cy="589.16" r="3.12"/>
<circle cx="562.41" cy="591.16" r="3.12"/>
<circle cx="579.88" cy="599.9" r="3.12"/>
<circle cx="584.88" cy="601.15" r="3.12"/>
<circle cx="562.41" cy="604.14" r="3.12"/>
<circle cx="583.63" cy="606.14" r="3.12"/>
<circle cx="562.41" cy="619.87" r="3.12"/>
<circle cx="568.15" cy="624.36" r="3.12"/>
<circle cx="573.14" cy="632.85" r="3.12"/>
</g>
<g fill="none" stroke="#000" stroke-width="1.1">
<circle cx="578.64" cy="591.16" r="2.67"/>
<circle cx="584.13" cy="591.66" r="2.67"/>
<circle cx="568.15" cy="602.39" r="2.67"/>
<circle cx="573.14" cy="603.64" r="2.67"/>
<circle cx="568.15" cy="609.88" r="2.67"/>
<circle cx="578.64" cy="611.13" r="2.67"/>
<circle cx="573.14" cy="610.38" r="2.67"/>
<circle cx="573.14" cy="623.61" r="2.67"/>
<circle cx="578.64" cy="624.86" r="2.67"/>
<circle cx="578.64" cy="644.83" r="2.67"/>
<circle cx="573.14" cy="649.82" r="2.67"/>
<circle cx="573.14" cy="656.07" r="2.67"/>
</g>
<g fill="#00f">
<circle cx="618.08" cy="591.16" r="3.12"/>
<circle cx="612.84" cy="594.41" r="3.12"/>
<circle cx="602.35" cy="598.65" r="3.12"/>
<circle cx="607.34" cy="600.65" r="3.12"/>
<circle cx="612.84" cy="602.39" r="3.12"/>
<circle cx="607.34" cy="606.14" r="3.12"/>
<circle cx="602.35" cy="608.64" r="3.12"/>
<circle cx="612.84" cy="609.88" r="3.12"/>
<circle cx="607.34" cy="616.12" r="3.12"/>
<circle cx="612.84" cy="616.12" r="3.12"/>
<circle cx="618.08" cy="636.09" r="3.12"/>
<circle cx="612.84" cy="641.09" r="3.12"/>
</g>
<g fill="none" stroke="#00f" stroke-width="1.1">
<circle cx="623.57" cy="601.15" r="2.67"/>
<circle cx="618.08" cy="603.14" r="2.67"/>
<circle cx="623.57" cy="608.64" r="2.67"/>
<circle cx="607.34" cy="617.37" r="2.67"/>
<circle cx="618.08" cy="618.62" r="2.67"/>
<circle cx="612.84" cy="623.61" r="2.67"/>
<circle cx="618.08" cy="631.1" r="2.67"/>
<circle cx="612.84" cy="633.6" r="2.67"/>
<circle cx="612.84" cy="656.56" r="2.67"/>
</g>
</g>
<g id="pO">
<rect x="109.9" y="802.4" width="24.2" height="56.9" class="bar"/>
<rect x="148.6" y="809.3" width="24.2" height="50" class="bar"/>
<path d="M121.9 788.1V791.1M121.9 800.6V816.8M115.7 788.1H128.1M115.7 816.8H128.1M160.6 788.9V791.1M160.6 800.6V826.3M154.4 788.9H166.8M154.4 826.3H166.8" class="ln"/>
<path d="M96.2 730.65V791.65M96.2 800.05V859.85M95.65 859.3H186.8M90.45 731.2H96.2M90.45 748.2H96.2M90.45 765.4H96.2M90.45 781.9H96.2M90.45 800.6H96.2M90.45 812.3H96.2M90.45 824.1H96.2M90.45 835.8H96.2M90.45 847.5H96.2M90.45 859.3H96.2M92.6 791.1H99.8M92.6 800.6H99.8M122 859.3V864.3M160.7 859.3V864.3" class="ln"/>
<text x="88.2" y="734.65" font-size="9.7" text-anchor="end">800</text>
<text x="88.2" y="751.65" font-size="9.7" text-anchor="end">600</text>
<text x="88.2" y="768.85" font-size="9.7" text-anchor="end">400</text>
<text x="88.2" y="785.35" font-size="9.7" text-anchor="end">200</text>
<text x="88.2" y="804.05" font-size="9.7" text-anchor="end">100</text>
<text x="88.2" y="815.75" font-size="9.7" text-anchor="end">80</text>
<text x="88.2" y="827.55" font-size="9.7" text-anchor="end">60</text>
<text x="88.2" y="839.25" font-size="9.7" text-anchor="end">40</text>
<text x="88.2" y="850.95" font-size="9.7" text-anchor="end">20</text>
<text x="88.2" y="861.75" font-size="9.7" text-anchor="end">0</text>
<path d="M121.1 742.2H160.6" class="ln" style="stroke-width:1.45"/>
<text x="142" y="739.4" font-size="10.5" text-anchor="middle">N.S.</text>
<text x="119.5" y="875.2" font-size="11" text-anchor="middle">Ctrl</text>
<text x="157" y="875.2" font-size="11" text-anchor="middle">Induced</text>
<text x="141.2" y="885.5" font-size="11" text-anchor="middle">PS19-TREM2-WT</text>
<text transform="translate(51 795) rotate(-90)" font-size="11" text-anchor="middle">p-Tau in FA fraction</text>
<text transform="translate(63.6 795) rotate(-90)" font-size="11" text-anchor="middle">(ng/mg)</text>
<text x="49.8" y="732.2" font-size="12.5" text-anchor="start" font-weight="bold">O</text>
<g fill="#000">
<circle cx="125.61" cy="766.91" r="3.12"/>
<circle cx="118.62" cy="770.16" r="3.12"/>
<circle cx="125.61" cy="773.15" r="3.12"/>
<circle cx="125.61" cy="780.64" r="3.12"/>
<circle cx="118.62" cy="786.38" r="3.12"/>
<circle cx="121.87" cy="788.88" r="3.12"/>
<circle cx="125.61" cy="788.13" r="3.12"/>
<circle cx="121.87" cy="838.56" r="3.12"/>
<circle cx="118.62" cy="854.78" r="3.12"/>
<circle cx="128.61" cy="854.28" r="3.12"/>
</g>
<g fill="none" stroke="#000" stroke-width="1.1">
<circle cx="121.87" cy="816.84" r="2.67"/>
<circle cx="118.62" cy="824.33" r="2.67"/>
<circle cx="124.86" cy="824.33" r="2.67"/>
<circle cx="121.87" cy="831.82" r="2.67"/>
<circle cx="118.62" cy="843.05" r="2.67"/>
<circle cx="122.36" cy="844.3" r="2.67"/>
<circle cx="114.88" cy="851.79" r="2.67"/>
<circle cx="121.87" cy="852.29" r="2.67"/>
<circle cx="111.13" cy="854.78" r="2.67"/>
<circle cx="132.35" cy="855.03" r="2.67"/>
<circle cx="124.86" cy="855.53" r="2.67"/>
</g>
<g fill="#f00">
<circle cx="160.56" cy="749.94" r="3.12"/>
<circle cx="154.32" cy="781.89" r="3.12"/>
<circle cx="166.8" cy="784.39" r="3.12"/>
<circle cx="158.56" cy="787.38" r="3.12"/>
<circle cx="162.31" cy="787.38" r="3.12"/>
<circle cx="158.56" cy="816.84" r="3.12"/>
<circle cx="162.31" cy="816.09" r="3.12"/>
<circle cx="158.56" cy="831.07" r="3.12"/>
<circle cx="150.57" cy="849.79" r="3.12"/>
<circle cx="153.57" cy="851.79" r="3.12"/>
<circle cx="162.31" cy="853.04" r="3.12"/>
<circle cx="150.57" cy="856.28" r="3.12"/>
</g>
<g fill="none" stroke="#f00" stroke-width="1.1">
<circle cx="158.56" cy="825.58" r="2.67"/>
<circle cx="162.31" cy="834.31" r="2.67"/>
<circle cx="158.56" cy="837.31" r="2.67"/>
<circle cx="160.56" cy="843.8" r="2.67"/>
<circle cx="158.56" cy="855.53" r="2.67"/>
<circle cx="166.8" cy="856.28" r="2.67"/>
<circle cx="171.04" cy="854.78" r="2.67"/>
</g>
</g>
<g id="pP">
<rect x="261.1" y="806.1" width="24.2" height="53.7" class="bar"/>
<rect x="299.1" y="817.3" width="24.4" height="42.5" class="bar"/>
<path d="M273.1 791V792.4M273.1 801.9V817.6M266.9 791H279.3M266.9 817.6H279.3M311 805.1V827.3M304.8 805.1H317.2M304.8 827.3H317.2" class="ln"/>
<path d="M247.4 732.65V792.95M247.4 801.35V860.35M246.85 859.8H337.3M241.65 733.2H247.4M241.65 750.4H247.4M241.65 767.2H247.4M241.65 783.9H247.4M241.65 801.9H247.4M241.65 813.3H247.4M241.65 824.8H247.4M241.65 836.6H247.4M241.65 848.3H247.4M241.65 859.8H247.4M243.8 792.4H251M243.8 801.9H251M273.2 859.8V864.8M311.3 859.8V864.8" class="ln"/>
<text x="239.4" y="736.65" font-size="9.7" text-anchor="end">800</text>
<text x="239.4" y="753.85" font-size="9.7" text-anchor="end">600</text>
<text x="239.4" y="770.65" font-size="9.7" text-anchor="end">400</text>
<text x="239.4" y="787.35" font-size="9.7" text-anchor="end">200</text>
<text x="239.4" y="805.35" font-size="9.7" text-anchor="end">100</text>
<text x="239.4" y="816.75" font-size="9.7" text-anchor="end">80</text>
<text x="239.4" y="828.25" font-size="9.7" text-anchor="end">60</text>
<text x="239.4" y="840.05" font-size="9.7" text-anchor="end">40</text>
<text x="239.4" y="851.75" font-size="9.7" text-anchor="end">20</text>
<text x="239.4" y="862.25" font-size="9.7" text-anchor="end">0</text>
<path d="M271.6 742.7H311.6" class="ln" style="stroke-width:1.45"/>
<text x="293" y="739.6" font-size="10.5" text-anchor="middle">N.S.</text>
<text x="272.5" y="875.2" font-size="11" text-anchor="middle">Ctrl</text>
<text x="311.8" y="875.2" font-size="11" text-anchor="middle">Induced</text>
<text x="295.8" y="885.6" font-size="11" text-anchor="middle">PS19-TREM2-R47H</text>
<text transform="translate(205.8 795) rotate(-90)" font-size="11" text-anchor="middle">p-Tau in FA fraction</text>
<text transform="translate(218.4 795) rotate(-90)" font-size="11" text-anchor="middle">(ng/mg)</text>
<text x="209.8" y="731.6" font-size="12.5" text-anchor="start" font-weight="bold">P</text>
<g fill="#000">
<circle cx="273.12" cy="772.65" r="3.12"/>
<circle cx="268.63" cy="778.15" r="3.12"/>
<circle cx="277.36" cy="779.39" r="3.12"/>
<circle cx="273.12" cy="783.14" r="3.12"/>
<circle cx="269.88" cy="790.63" r="3.12"/>
<circle cx="274.87" cy="791.38" r="3.12"/>
<circle cx="274.87" cy="838.06" r="3.12"/>
<circle cx="263.64" cy="851.29" r="3.12"/>
<circle cx="274.87" cy="852.54" r="3.12"/>
<circle cx="267.38" cy="854.78" r="3.12"/>
<circle cx="281.11" cy="856.28" r="3.12"/>
</g>
<g fill="none" stroke="#000" stroke-width="1.1">
<circle cx="273.12" cy="786.38" r="2.67"/>
<circle cx="277.36" cy="790.63" r="2.67"/>
<circle cx="273.12" cy="812.6" r="2.67"/>
<circle cx="271.62" cy="841.8" r="2.67"/>
<circle cx="263.64" cy="856.78" r="2.67"/>
<circle cx="269.88" cy="856.28" r="2.67"/>
<circle cx="274.87" cy="857.53" r="2.67"/>
<circle cx="278.61" cy="856.78" r="2.67"/>
<circle cx="283.61" cy="856.78" r="2.67"/>
</g>
<g fill="#00f">
<circle cx="308.07" cy="774.4" r="3.12"/>
<circle cx="301.08" cy="785.14" r="3.12"/>
<circle cx="314.81" cy="788.13" r="3.12"/>
<circle cx="314.81" cy="815.09" r="3.12"/>
<circle cx="311.07" cy="823.58" r="3.12"/>
<circle cx="311.07" cy="832.57" r="3.12"/>
<circle cx="301.08" cy="843.05" r="3.12"/>
<circle cx="321.8" cy="846.05" r="3.12"/>
<circle cx="301.08" cy="852.54" r="3.12"/>
<circle cx="314.81" cy="850.54" r="3.12"/>
</g>
<g fill="none" stroke="#00f" stroke-width="1.1">
<circle cx="314.81" cy="778.89" r="2.67"/>
<circle cx="308.07" cy="789.38" r="2.67"/>
<circle cx="311.07" cy="805.11" r="2.67"/>
<circle cx="314.81" cy="841.8" r="2.67"/>
<circle cx="308.07" cy="846.05" r="2.67"/>
<circle cx="301.08" cy="848.04" r="2.67"/>
<circle cx="301.08" cy="857.53" r="2.67"/>
<circle cx="308.07" cy="857.53" r="2.67"/>
<circle cx="314.81" cy="858.03" r="2.67"/>
<circle cx="321.05" cy="857.53" r="2.67"/>
</g>
</g>
<g id="pQ">
<rect x="411.6" y="794.9" width="24.3" height="64.9" class="bar"/>
<rect x="449.8" y="813.6" width="24.2" height="46.2" class="bar"/>
<path d="M423.6 789.9V800M417.4 789.9H429.8M417.4 800H429.8M461.8 808.1V819M455.6 808.1H468M455.6 819H468" class="ln"/>
<path d="M398.7 733.45V860.35M398.15 859.8H487.3M392.95 734H398.7M392.95 759.4H398.7M392.95 784.6H398.7M392.95 809.6H398.7M392.95 834.8H398.7M392.95 859.8H398.7M423.75 859.8V864.8M461.9 859.8V864.8" class="ln"/>
<text x="390.7" y="737.45" font-size="9.7" text-anchor="end">25</text>
<text x="390.7" y="762.85" font-size="9.7" text-anchor="end">20</text>
<text x="390.7" y="788.05" font-size="9.7" text-anchor="end">15</text>
<text x="390.7" y="813.05" font-size="9.7" text-anchor="end">10</text>
<text x="390.7" y="838.25" font-size="9.7" text-anchor="end">5</text>
<text x="390.7" y="862.25" font-size="9.7" text-anchor="end">0</text>
<path d="M421.9 742.4H461.8" class="ln" style="stroke-width:1.45"/>
<text x="444" y="739.4" font-size="10.5" text-anchor="middle">N.S.</text>
<text x="421" y="875.2" font-size="11" text-anchor="middle">Ctrl</text>
<text x="461" y="875.2" font-size="11" text-anchor="middle">Induced</text>
<text x="445.3" y="885.6" font-size="11" text-anchor="middle">PS19-TREM2-WT</text>
<text transform="translate(360.6 796) rotate(-90)" font-size="11" text-anchor="middle">Tau in FA fraction</text>
<text transform="translate(373.6 796) rotate(-90)" font-size="11" text-anchor="middle">(µg/mg)</text>
<text x="361" y="732.4" font-size="12.5" text-anchor="start" font-weight="bold">Q</text>
<g fill="#000">
<circle cx="426.87" cy="762.67" r="3.12"/>
<circle cx="420.38" cy="766.16" r="3.12"/>
<circle cx="426.87" cy="768.16" r="3.12"/>
<circle cx="413.64" cy="778.15" r="3.12"/>
<circle cx="420.38" cy="785.14" r="3.12"/>
<circle cx="413.64" cy="792.62" r="3.12"/>
<circle cx="426.87" cy="793.12" r="3.12"/>
<circle cx="433.61" cy="797.37" r="3.12"/>
<circle cx="426.87" cy="820.58" r="3.12"/>
</g>
<g fill="none" stroke="#000" stroke-width="1.1">
<circle cx="433.61" cy="775.65" r="2.67"/>
<circle cx="420.38" cy="779.39" r="2.67"/>
<circle cx="426.87" cy="778.89" r="2.67"/>
<circle cx="426.87" cy="787.38" r="2.67"/>
<circle cx="420.38" cy="799.86" r="2.67"/>
<circle cx="426.87" cy="799.36" r="2.67"/>
<circle cx="420.38" cy="808.6" r="2.67"/>
<circle cx="426.87" cy="806.85" r="2.67"/>
<circle cx="433.61" cy="812.35" r="2.67"/>
<circle cx="420.38" cy="816.09" r="2.67"/>
<circle cx="426.87" cy="815.59" r="2.67"/>
<circle cx="423.63" cy="828.57" r="2.67"/>
</g>
<g fill="#f00">
<circle cx="461.57" cy="758.92" r="3.12"/>
<circle cx="461.57" cy="765.16" r="3.12"/>
<circle cx="461.57" cy="784.39" r="3.12"/>
<circle cx="461.57" cy="803.11" r="3.12"/>
<circle cx="463.57" cy="808.1" r="3.12"/>
<circle cx="463.57" cy="816.84" r="3.12"/>
<circle cx="469.06" cy="821.83" r="3.12"/>
<circle cx="471.56" cy="822.58" r="3.12"/>
<circle cx="467.31" cy="826.33" r="3.12"/>
<circle cx="456.83" cy="839.81" r="3.12"/>
<circle cx="461.57" cy="837.31" r="3.12"/>
</g>
<g fill="none" stroke="#f00" stroke-width="1.1">
<circle cx="454.83" cy="799.86" r="2.67"/>
<circle cx="463.57" cy="801.86" r="2.67"/>
<circle cx="454.83" cy="808.1" r="2.67"/>
<circle cx="461.57" cy="814.34" r="2.67"/>
<circle cx="451.59" cy="822.33" r="2.67"/>
<circle cx="456.08" cy="822.58" r="2.67"/>
<circle cx="463.57" cy="822.33" r="2.67"/>
<circle cx="459.82" cy="826.33" r="2.67"/>
<circle cx="465.57" cy="839.31" r="2.67"/>
</g>
</g>
<g id="pR">
<rect x="562.4" y="801.9" width="24.2" height="57.4" class="bar"/>
<rect x="601.1" y="806.4" width="24.5" height="52.9" class="bar"/>
<path d="M574.4 798.7V805.2M568.2 798.7H580.6M568.2 805.2H580.6M613.6 803.2V809.5M607.4 803.2H619.8M607.4 809.5H619.8" class="ln"/>
<path d="M548.2 728.15V859.85M547.65 859.3H640.5M542.45 728.7H548.2M542.45 754.7H548.2M542.45 780.9H548.2M542.45 806.9H548.2M542.45 833H548.2M542.45 859.3H548.2M574.5 859.3V864.3M613.35 859.3V864.3" class="ln"/>
<text x="540.2" y="732.15" font-size="9.7" text-anchor="end">25</text>
<text x="540.2" y="758.15" font-size="9.7" text-anchor="end">20</text>
<text x="540.2" y="784.35" font-size="9.7" text-anchor="end">15</text>
<text x="540.2" y="810.35" font-size="9.7" text-anchor="end">10</text>
<text x="540.2" y="836.45" font-size="9.7" text-anchor="end">5</text>
<text x="540.2" y="861.75" font-size="9.7" text-anchor="end">0</text>
<path d="M573.6 742.4H613.6" class="ln" style="stroke-width:1.45"/>
<text x="595.5" y="739" font-size="10.5" text-anchor="middle">N.S.</text>
<text x="576" y="875.2" font-size="11" text-anchor="middle">Ctrl</text>
<text x="615.8" y="875.2" font-size="11" text-anchor="middle">Induced</text>
<text x="599" y="885.5" font-size="11" text-anchor="middle">PS19-TREM2-R47H</text>
<text transform="translate(512.1 794.5) rotate(-90)" font-size="11" text-anchor="middle">Tau in FA fraction</text>
<text transform="translate(524.9 794.5) rotate(-90)" font-size="11" text-anchor="middle">(µg/mg)</text>
<text x="510.2" y="731.6" font-size="12.5" text-anchor="start" font-weight="bold">R</text>
<g fill="#000">
<circle cx="574.39" cy="756.93" r="3.12"/>
<circle cx="574.39" cy="771.16" r="3.12"/>
<circle cx="584.88" cy="780.14" r="3.12"/>
<circle cx="579.88" cy="781.14" r="3.12"/>
<circle cx="569.4" cy="788.63" r="3.12"/>
<circle cx="579.88" cy="789.38" r="3.12"/>
<circle cx="579.88" cy="798.12" r="3.12"/>
<circle cx="574.39" cy="800.61" r="3.12"/>
<circle cx="579.88" cy="810.6" r="3.12"/>
<circle cx="574.39" cy="819.34" r="3.12"/>
<circle cx="571.89" cy="828.57" r="3.12"/>
</g>
<g fill="none" stroke="#000" stroke-width="1.1">
<circle cx="564.16" cy="778.65" r="2.67"/>
<circle cx="574.39" cy="783.14" r="2.67"/>
<circle cx="564.16" cy="795.62" r="2.67"/>
<circle cx="569.4" cy="795.62" r="2.67"/>
<circle cx="584.88" cy="794.87" r="2.67"/>
<circle cx="574.39" cy="797.37" r="2.67"/>
<circle cx="569.4" cy="801.86" r="2.67"/>
<circle cx="569.4" cy="813.09" r="2.67"/>
<circle cx="579.88" cy="816.84" r="2.67"/>
<circle cx="577.39" cy="825.58" r="2.67"/>
<circle cx="571.89" cy="839.31" r="2.67"/>
<circle cx="577.39" cy="838.81" r="2.67"/>
</g>
<g fill="#00f">
<circle cx="613.58" cy="777.65" r="3.12"/>
<circle cx="619.08" cy="784.39" r="3.12"/>
<circle cx="608.59" cy="787.38" r="3.12"/>
<circle cx="619.08" cy="792.62" r="3.12"/>
<circle cx="624.07" cy="796.12" r="3.12"/>
<circle cx="613.58" cy="798.12" r="3.12"/>
<circle cx="619.08" cy="803.11" r="3.12"/>
<circle cx="613.58" cy="814.84" r="3.12"/>
<circle cx="619.08" cy="825.08" r="3.12"/>
<circle cx="616.08" cy="831.82" r="3.12"/>
</g>
<g fill="none" stroke="#00f" stroke-width="1.1">
<circle cx="613.58" cy="787.63" r="2.67"/>
<circle cx="603.1" cy="794.37" r="2.67"/>
<circle cx="619.08" cy="798.62" r="2.67"/>
<circle cx="608.59" cy="806.85" r="2.67"/>
<circle cx="613.58" cy="806.35" r="2.67"/>
<circle cx="619.08" cy="813.84" r="2.67"/>
<circle cx="608.59" cy="816.84" r="2.67"/>
<circle cx="608.59" cy="823.58" r="2.67"/>
<circle cx="613.58" cy="821.83" r="2.67"/>
<circle cx="611.09" cy="833.56" r="2.67"/>
</g>
</g>
</svg></body></html>
